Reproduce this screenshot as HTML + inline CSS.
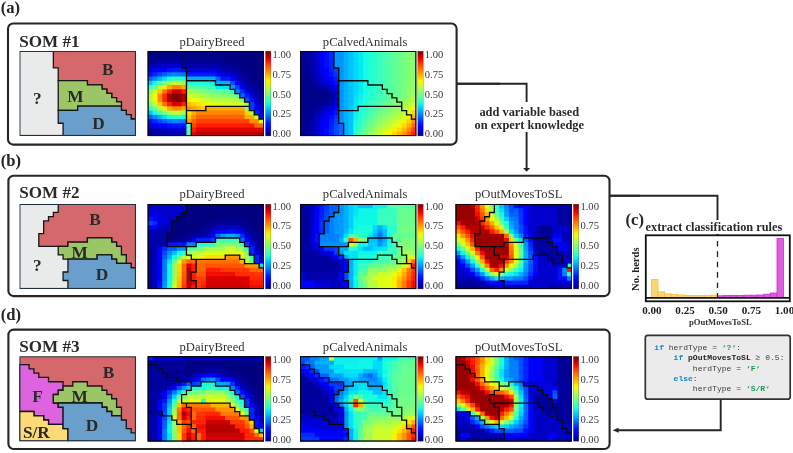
<!DOCTYPE html>
<html lang="en"><head><meta charset="utf-8"><title>SOM herd typing workflow</title>
<style>
html,body{margin:0;padding:0;background:#fff}
body{width:793px;height:453px;overflow:hidden}
svg{display:block}
text{font-family:"Liberation Serif",serif;fill:#2b2b2b}
.pl{font-size:16.6px;font-weight:bold;fill:#262626}
.st{font-size:17.1px;font-weight:bold;fill:#2a2a2a}
.tt{font-size:12.6px;fill:#333}
.tk{font-size:10.6px;fill:#3a3a3a}
.rl{font-size:17.3px;font-weight:bold;fill:#2a2a2a}
.an{font-size:12.4px;font-weight:bold;fill:#2a2a2a}
.an2{font-size:12.3px;font-weight:bold;fill:#2a2a2a}
.ht{font-size:11.1px;font-weight:bold;fill:#222}
.hx{font-size:8.6px;font-weight:bold;fill:#333}
.hy{font-size:10.6px;font-weight:bold;fill:#222}
.cd,.cd tspan{font-family:"Liberation Mono","DejaVu Sans Mono",monospace;font-size:8px}
.kw{fill:#1b87cc;font-weight:bold}
.nm{fill:#3a3a3a}
.bd{fill:#222;font-weight:bold}
.sg{fill:#1a9b52;font-weight:bold}
</style></head>
<body>
<svg width="793" height="453" viewBox="0 0 793 453">
<defs><linearGradient id="jet" x1="0" y1="0" x2="0" y2="1"><stop offset="0" stop-color="#800000"/><stop offset="0.05" stop-color="#b60000"/><stop offset="0.1" stop-color="#f10800"/><stop offset="0.15" stop-color="#ff3800"/><stop offset="0.2" stop-color="#ff6800"/><stop offset="0.25" stop-color="#ff9400"/><stop offset="0.3" stop-color="#ffc400"/><stop offset="0.35" stop-color="#f8f500"/><stop offset="0.4" stop-color="#ceff29"/><stop offset="0.45" stop-color="#a4ff53"/><stop offset="0.5" stop-color="#7dff7a"/><stop offset="0.55" stop-color="#53ffa4"/><stop offset="0.6" stop-color="#29ffce"/><stop offset="0.65" stop-color="#00e4f8"/><stop offset="0.7" stop-color="#00b0ff"/><stop offset="0.75" stop-color="#0080ff"/><stop offset="0.8" stop-color="#004cff"/><stop offset="0.85" stop-color="#0018ff"/><stop offset="0.9" stop-color="#0000f1"/><stop offset="0.95" stop-color="#0000b6"/><stop offset="1" stop-color="#000080"/></linearGradient>
<filter id="soft" x="-2%" y="-2%" width="104%" height="104%"><feGaussianBlur stdDeviation="0.55"/></filter>
<clipPath id="c147_51"><rect x="147.7" y="51" width="116.25" height="85.1"/></clipPath>
<clipPath id="c300_51"><rect x="300" y="51" width="116.25" height="85.1"/></clipPath>
<clipPath id="c455_51"><rect x="455.6" y="51" width="116.25" height="85.1"/></clipPath>
<clipPath id="c147_204"><rect x="147.7" y="204" width="116.25" height="85.1"/></clipPath>
<clipPath id="c300_204"><rect x="300" y="204" width="116.25" height="85.1"/></clipPath>
<clipPath id="c455_204"><rect x="455.6" y="204" width="116.25" height="85.1"/></clipPath>
<clipPath id="c147_356"><rect x="147.7" y="356.3" width="116.25" height="85.1"/></clipPath>
<clipPath id="c300_356"><rect x="300" y="356.3" width="116.25" height="85.1"/></clipPath>
<clipPath id="c455_356"><rect x="455.6" y="356.3" width="116.25" height="85.1"/></clipPath>
<clipPath id="r50"><rect x="19.35" y="50.9" width="116.65" height="85.1"/></clipPath>
<clipPath id="r203"><rect x="19.35" y="203.9" width="116.65" height="85.1"/></clipPath>
<clipPath id="r356"><rect x="19.35" y="356.2" width="116.65" height="85.1"/></clipPath>
</defs>
<rect width="793" height="453" fill="#ffffff"/>
<g fill="none" stroke="#262626" stroke-width="1.9">
<path d="M456.6 83.8H526.6V168.4"/>
<path d="M609.5 195.7H717.5V235"/>
<path d="M720.7 399.3V430.2H618"/>
</g>
<path d="M523.1 168.1h7l-3.5 3.6z" fill="#262626"/>
<path d="M618.6 427.7v5l-6-2.5z" fill="#262626"/>
<rect x="8" y="23.5" width="448.6" height="121.1" rx="5.2" fill="#fff" stroke="#262626" stroke-width="2.1"/>
<rect x="8.4" y="175.8" width="601.1" height="120.3" rx="5.2" fill="#fff" stroke="#262626" stroke-width="2.1"/>
<rect x="8.4" y="329.6" width="601.2" height="119.4" rx="5.2" fill="#fff" stroke="#262626" stroke-width="2.1"/>
<path d="M457 83.8H500" fill="none" stroke="#262626" stroke-width="1.9"/>
<path d="M610 195.7H640" fill="none" stroke="#262626" stroke-width="1.9"/>
<text x="0.8" y="12.8" class="pl">(a)</text>
<text x="0.8" y="165.9" class="pl">(b)</text>
<text x="0.8" y="319.9" class="pl">(d)</text>
<text x="19.2" y="46.6" class="st">SOM #1</text>
<text x="19.2" y="198.2" class="st">SOM #2</text>
<text x="19.2" y="352.3" class="st">SOM #3</text>
<g clip-path="url(#r50)">
<rect x="19.35" y="50.9" width="116.65" height="85.1" fill="#e9ebeb"/>
<path d="M53.37 50.9L136 50.9L136 118.98L131.14 118.98L131.14 114.72L126.28 114.72L126.28 110.47L121.42 110.47L121.42 101.96L116.56 101.96L116.56 97.7L111.7 97.7L111.7 93.45L106.84 93.45L106.84 89.19L101.98 89.19L101.98 84.94L87.4 84.94L87.4 80.69L58.23 80.69L58.23 67.92L53.37 67.92Z" fill="#d4686a" stroke="#161616" stroke-width="1.3" stroke-linejoin="miter"/>
<path d="M58.23 80.69L87.4 80.69L87.4 84.94L101.98 84.94L101.98 89.19L106.84 89.19L106.84 93.45L111.7 93.45L111.7 97.7L116.56 97.7L116.56 101.96L121.42 101.96L121.42 106.22L77.68 106.22L77.68 110.47L58.23 110.47Z" fill="#9cc566" stroke="#161616" stroke-width="1.3" stroke-linejoin="miter"/>
<path d="M58.23 110.47L77.68 110.47L77.68 106.22L121.42 106.22L121.42 110.47L126.28 110.47L126.28 114.72L131.14 114.72L131.14 118.98L136 118.98L136 136L63.09 136L63.09 123.23L58.23 123.23Z" fill="#6a9fcc" stroke="#161616" stroke-width="1.3" stroke-linejoin="miter"/>
<rect x="19.9" y="51.45" width="115.55" height="84" fill="none" stroke="#1d3144" stroke-width="1.1"/>
</g>
<g>
<g clip-path="url(#c147_51)"><g filter="url(#soft)">
<rect x="145.7" y="49" width="120.25" height="89.1" fill="#00c4ff"/>
<rect x="145.7" y="49" width="7.54" height="6.96" fill="#000080"/>
<rect x="152.54" y="49" width="68.51" height="6.96" fill="#000084"/>
<rect x="220.36" y="49" width="45.59" height="6.96" fill="#000080"/>
<rect x="145.7" y="55.26" width="12.39" height="4.95" fill="#000089"/>
<rect x="157.39" y="55.26" width="15.23" height="4.95" fill="#00008d"/>
<rect x="171.92" y="55.26" width="10.39" height="4.95" fill="#000092"/>
<rect x="181.61" y="55.26" width="39.45" height="4.95" fill="#000089"/>
<rect x="220.36" y="55.26" width="10.39" height="4.95" fill="#000084"/>
<rect x="230.04" y="55.26" width="35.91" height="4.95" fill="#000080"/>
<rect x="145.7" y="59.51" width="7.54" height="4.96" fill="#000096"/>
<rect x="152.54" y="59.51" width="5.54" height="4.96" fill="#00009b"/>
<rect x="157.39" y="59.51" width="5.54" height="4.96" fill="#00009f"/>
<rect x="162.23" y="59.51" width="10.39" height="4.96" fill="#0000a4"/>
<rect x="171.92" y="59.51" width="10.39" height="4.96" fill="#0000a8"/>
<rect x="181.61" y="59.51" width="39.45" height="4.96" fill="#000092"/>
<rect x="220.36" y="59.51" width="5.54" height="4.96" fill="#00008d"/>
<rect x="225.2" y="59.51" width="5.54" height="4.96" fill="#000089"/>
<rect x="230.04" y="59.51" width="10.39" height="4.96" fill="#000084"/>
<rect x="239.73" y="59.51" width="26.22" height="4.96" fill="#000080"/>
<rect x="145.7" y="63.77" width="7.54" height="4.95" fill="#0000ad"/>
<rect x="152.54" y="63.77" width="5.54" height="4.95" fill="#0000b6"/>
<rect x="157.39" y="63.77" width="5.54" height="4.95" fill="#0000bf"/>
<rect x="162.23" y="63.77" width="5.54" height="4.95" fill="#0000c8"/>
<rect x="167.07" y="63.77" width="5.54" height="4.95" fill="#0000d1"/>
<rect x="171.92" y="63.77" width="10.39" height="4.95" fill="#0000d6"/>
<rect x="181.61" y="63.77" width="5.54" height="4.95" fill="#0000a4"/>
<rect x="186.45" y="63.77" width="29.76" height="4.95" fill="#0000a8"/>
<rect x="215.51" y="63.77" width="5.54" height="4.95" fill="#0000a4"/>
<rect x="220.36" y="63.77" width="5.54" height="4.95" fill="#00009b"/>
<rect x="225.2" y="63.77" width="5.54" height="4.95" fill="#000092"/>
<rect x="230.04" y="63.77" width="5.54" height="4.95" fill="#00008d"/>
<rect x="234.89" y="63.77" width="5.54" height="4.95" fill="#000089"/>
<rect x="239.73" y="63.77" width="10.39" height="4.95" fill="#000084"/>
<rect x="249.42" y="63.77" width="16.53" height="4.95" fill="#000080"/>
<rect x="145.7" y="68.02" width="7.54" height="4.96" fill="#0000da"/>
<rect x="152.54" y="68.02" width="5.54" height="4.96" fill="#0000ed"/>
<rect x="157.39" y="68.02" width="10.39" height="4.96" fill="#0000ff"/>
<rect x="167.07" y="68.02" width="5.54" height="4.96" fill="#000cff"/>
<rect x="171.92" y="68.02" width="10.39" height="4.96" fill="#0014ff"/>
<rect x="181.61" y="68.02" width="5.54" height="4.96" fill="#000cff"/>
<rect x="186.45" y="68.02" width="29.76" height="4.96" fill="#0000d1"/>
<rect x="215.51" y="68.02" width="5.54" height="4.96" fill="#0000c8"/>
<rect x="220.36" y="68.02" width="5.54" height="4.96" fill="#0000b2"/>
<rect x="225.2" y="68.02" width="5.54" height="4.96" fill="#0000a8"/>
<rect x="230.04" y="68.02" width="5.54" height="4.96" fill="#00009f"/>
<rect x="234.89" y="68.02" width="5.54" height="4.96" fill="#000096"/>
<rect x="239.73" y="68.02" width="5.54" height="4.96" fill="#00008d"/>
<rect x="244.57" y="68.02" width="5.54" height="4.96" fill="#000084"/>
<rect x="249.42" y="68.02" width="16.53" height="4.96" fill="#000080"/>
<rect x="145.7" y="72.28" width="7.54" height="4.95" fill="#000cff"/>
<rect x="152.54" y="72.28" width="5.54" height="4.95" fill="#0028ff"/>
<rect x="157.39" y="72.28" width="5.54" height="4.95" fill="#0044ff"/>
<rect x="162.23" y="72.28" width="5.54" height="4.95" fill="#0060ff"/>
<rect x="167.07" y="72.28" width="5.54" height="4.95" fill="#0074ff"/>
<rect x="171.92" y="72.28" width="10.39" height="4.95" fill="#0084ff"/>
<rect x="181.61" y="72.28" width="5.54" height="4.95" fill="#0074ff"/>
<rect x="186.45" y="72.28" width="29.76" height="4.95" fill="#0014ff"/>
<rect x="215.51" y="72.28" width="5.54" height="4.95" fill="#0000ff"/>
<rect x="220.36" y="72.28" width="5.54" height="4.95" fill="#0000da"/>
<rect x="225.2" y="72.28" width="5.54" height="4.95" fill="#0000d1"/>
<rect x="230.04" y="72.28" width="5.54" height="4.95" fill="#0000c4"/>
<rect x="234.89" y="72.28" width="5.54" height="4.95" fill="#0000ad"/>
<rect x="239.73" y="72.28" width="5.54" height="4.95" fill="#000096"/>
<rect x="244.57" y="72.28" width="5.54" height="4.95" fill="#00008d"/>
<rect x="249.42" y="72.28" width="5.54" height="4.95" fill="#000084"/>
<rect x="254.26" y="72.28" width="11.69" height="4.95" fill="#000080"/>
<rect x="145.7" y="76.53" width="7.54" height="4.95" fill="#0060ff"/>
<rect x="152.54" y="76.53" width="5.54" height="4.95" fill="#0088ff"/>
<rect x="157.39" y="76.53" width="5.54" height="4.95" fill="#00b4ff"/>
<rect x="162.23" y="76.53" width="5.54" height="4.95" fill="#00e0fb"/>
<rect x="167.07" y="76.53" width="5.54" height="4.95" fill="#19ffde"/>
<rect x="171.92" y="76.53" width="10.39" height="4.95" fill="#2cffca"/>
<rect x="181.61" y="76.53" width="5.54" height="4.95" fill="#19ffde"/>
<rect x="186.45" y="76.53" width="29.76" height="4.95" fill="#00b0ff"/>
<rect x="215.51" y="76.53" width="5.54" height="4.95" fill="#0064ff"/>
<rect x="220.36" y="76.53" width="10.39" height="4.95" fill="#0014ff"/>
<rect x="230.04" y="76.53" width="5.54" height="4.95" fill="#0000ff"/>
<rect x="234.89" y="76.53" width="5.54" height="4.95" fill="#0000cd"/>
<rect x="239.73" y="76.53" width="5.54" height="4.95" fill="#0000a8"/>
<rect x="244.57" y="76.53" width="5.54" height="4.95" fill="#000096"/>
<rect x="249.42" y="76.53" width="5.54" height="4.95" fill="#000089"/>
<rect x="254.26" y="76.53" width="5.54" height="4.95" fill="#000084"/>
<rect x="259.11" y="76.53" width="6.84" height="4.95" fill="#000080"/>
<rect x="145.7" y="80.78" width="7.54" height="4.95" fill="#00c4ff"/>
<rect x="152.54" y="80.78" width="5.54" height="4.95" fill="#16ffe1"/>
<rect x="157.39" y="80.78" width="5.54" height="4.95" fill="#49ffad"/>
<rect x="162.23" y="80.78" width="5.54" height="4.95" fill="#7dff7a"/>
<rect x="167.07" y="80.78" width="5.54" height="4.95" fill="#a7ff50"/>
<rect x="171.92" y="80.78" width="10.39" height="4.95" fill="#c1ff36"/>
<rect x="181.61" y="80.78" width="5.54" height="4.95" fill="#a7ff50"/>
<rect x="186.45" y="80.78" width="5.54" height="4.95" fill="#1cffdb"/>
<rect x="191.29" y="80.78" width="10.39" height="4.95" fill="#19ffde"/>
<rect x="200.98" y="80.78" width="5.54" height="4.95" fill="#16ffe1"/>
<rect x="205.82" y="80.78" width="5.54" height="4.95" fill="#13fce4"/>
<rect x="210.67" y="80.78" width="5.54" height="4.95" fill="#0ff8e7"/>
<rect x="215.51" y="80.78" width="15.23" height="4.95" fill="#00b0ff"/>
<rect x="230.04" y="80.78" width="5.54" height="4.95" fill="#0050ff"/>
<rect x="234.89" y="80.78" width="5.54" height="4.95" fill="#0000f6"/>
<rect x="239.73" y="80.78" width="5.54" height="4.95" fill="#0000c4"/>
<rect x="244.57" y="80.78" width="5.54" height="4.95" fill="#0000a4"/>
<rect x="249.42" y="80.78" width="5.54" height="4.95" fill="#000092"/>
<rect x="254.26" y="80.78" width="5.54" height="4.95" fill="#000089"/>
<rect x="259.11" y="80.78" width="6.84" height="4.95" fill="#000084"/>
<rect x="145.7" y="85.04" width="7.54" height="4.96" fill="#39ffbe"/>
<rect x="152.54" y="85.04" width="5.54" height="4.96" fill="#77ff80"/>
<rect x="157.39" y="85.04" width="5.54" height="4.96" fill="#baff3c"/>
<rect x="162.23" y="85.04" width="5.54" height="4.96" fill="#feed00"/>
<rect x="167.07" y="85.04" width="5.54" height="4.96" fill="#ffab00"/>
<rect x="171.92" y="85.04" width="10.39" height="4.96" fill="#ff8600"/>
<rect x="181.61" y="85.04" width="5.54" height="4.96" fill="#ffab00"/>
<rect x="186.45" y="85.04" width="5.54" height="4.96" fill="#63ff94"/>
<rect x="191.29" y="85.04" width="5.54" height="4.96" fill="#5aff9d"/>
<rect x="196.14" y="85.04" width="5.54" height="4.96" fill="#53ffa4"/>
<rect x="200.98" y="85.04" width="5.54" height="4.96" fill="#49ffad"/>
<rect x="205.82" y="85.04" width="5.54" height="4.96" fill="#43ffb4"/>
<rect x="210.67" y="85.04" width="5.54" height="4.96" fill="#39ffbe"/>
<rect x="215.51" y="85.04" width="5.54" height="4.96" fill="#06ecf1"/>
<rect x="220.36" y="85.04" width="5.54" height="4.96" fill="#02e8f4"/>
<rect x="225.2" y="85.04" width="5.54" height="4.96" fill="#00e4f8"/>
<rect x="230.04" y="85.04" width="5.54" height="4.96" fill="#0098ff"/>
<rect x="234.89" y="85.04" width="5.54" height="4.96" fill="#0040ff"/>
<rect x="239.73" y="85.04" width="5.54" height="4.96" fill="#0000ed"/>
<rect x="244.57" y="85.04" width="5.54" height="4.96" fill="#0000bf"/>
<rect x="249.42" y="85.04" width="5.54" height="4.96" fill="#00009f"/>
<rect x="254.26" y="85.04" width="5.54" height="4.96" fill="#000092"/>
<rect x="259.11" y="85.04" width="6.84" height="4.96" fill="#000084"/>
<rect x="145.7" y="89.3" width="7.54" height="4.95" fill="#80ff77"/>
<rect x="152.54" y="89.3" width="5.54" height="4.95" fill="#caff2c"/>
<rect x="157.39" y="89.3" width="5.54" height="4.95" fill="#ffcc00"/>
<rect x="162.23" y="89.3" width="5.54" height="4.95" fill="#ff6f00"/>
<rect x="167.07" y="89.3" width="5.54" height="4.95" fill="#ff2200"/>
<rect x="171.92" y="89.3" width="10.39" height="4.95" fill="#d60000"/>
<rect x="181.61" y="89.3" width="5.54" height="4.95" fill="#ff2200"/>
<rect x="186.45" y="89.3" width="5.54" height="4.95" fill="#aaff4d"/>
<rect x="191.29" y="89.3" width="5.54" height="4.95" fill="#9aff5d"/>
<rect x="196.14" y="89.3" width="5.54" height="4.95" fill="#8dff6a"/>
<rect x="200.98" y="89.3" width="5.54" height="4.95" fill="#80ff77"/>
<rect x="205.82" y="89.3" width="5.54" height="4.95" fill="#70ff87"/>
<rect x="210.67" y="89.3" width="5.54" height="4.95" fill="#63ff94"/>
<rect x="215.51" y="89.3" width="5.54" height="4.95" fill="#60ff97"/>
<rect x="220.36" y="89.3" width="10.39" height="4.95" fill="#5dff9a"/>
<rect x="230.04" y="89.3" width="5.54" height="4.95" fill="#26ffd1"/>
<rect x="234.89" y="89.3" width="5.54" height="4.95" fill="#0080ff"/>
<rect x="239.73" y="89.3" width="5.54" height="4.95" fill="#002cff"/>
<rect x="244.57" y="89.3" width="5.54" height="4.95" fill="#0000df"/>
<rect x="249.42" y="89.3" width="5.54" height="4.95" fill="#0000b6"/>
<rect x="254.26" y="89.3" width="5.54" height="4.95" fill="#00009b"/>
<rect x="259.11" y="89.3" width="6.84" height="4.95" fill="#00008d"/>
<rect x="145.7" y="93.55" width="7.54" height="4.96" fill="#a7ff50"/>
<rect x="152.54" y="93.55" width="5.54" height="4.96" fill="#f8f500"/>
<rect x="157.39" y="93.55" width="5.54" height="4.96" fill="#ff8d00"/>
<rect x="162.23" y="93.55" width="5.54" height="4.96" fill="#ff2500"/>
<rect x="167.07" y="93.55" width="5.54" height="4.96" fill="#ad0000"/>
<rect x="171.92" y="93.55" width="10.39" height="4.96" fill="#800000"/>
<rect x="181.61" y="93.55" width="5.54" height="4.96" fill="#ad0000"/>
<rect x="186.45" y="93.55" width="5.54" height="4.96" fill="#d1ff26"/>
<rect x="191.29" y="93.55" width="5.54" height="4.96" fill="#c4ff33"/>
<rect x="196.14" y="93.55" width="5.54" height="4.96" fill="#b7ff40"/>
<rect x="200.98" y="93.55" width="5.54" height="4.96" fill="#a7ff50"/>
<rect x="205.82" y="93.55" width="5.54" height="4.96" fill="#9aff5d"/>
<rect x="210.67" y="93.55" width="5.54" height="4.96" fill="#8dff6a"/>
<rect x="215.51" y="93.55" width="5.54" height="4.96" fill="#8aff6d"/>
<rect x="220.36" y="93.55" width="5.54" height="4.96" fill="#87ff70"/>
<rect x="225.2" y="93.55" width="10.39" height="4.96" fill="#83ff73"/>
<rect x="234.89" y="93.55" width="5.54" height="4.96" fill="#4dffaa"/>
<rect x="239.73" y="93.55" width="5.54" height="4.96" fill="#0068ff"/>
<rect x="244.57" y="93.55" width="5.54" height="4.96" fill="#001cff"/>
<rect x="249.42" y="93.55" width="5.54" height="4.96" fill="#0000d6"/>
<rect x="254.26" y="93.55" width="5.54" height="4.96" fill="#0000ad"/>
<rect x="259.11" y="93.55" width="6.84" height="4.96" fill="#000096"/>
<rect x="145.7" y="97.81" width="7.54" height="4.95" fill="#a7ff50"/>
<rect x="152.54" y="97.81" width="5.54" height="4.95" fill="#f8f500"/>
<rect x="157.39" y="97.81" width="5.54" height="4.95" fill="#ff8d00"/>
<rect x="162.23" y="97.81" width="5.54" height="4.95" fill="#ff2500"/>
<rect x="167.07" y="97.81" width="5.54" height="4.95" fill="#ad0000"/>
<rect x="171.92" y="97.81" width="10.39" height="4.95" fill="#800000"/>
<rect x="181.61" y="97.81" width="5.54" height="4.95" fill="#ad0000"/>
<rect x="186.45" y="97.81" width="5.54" height="4.95" fill="#fbf100"/>
<rect x="191.29" y="97.81" width="5.54" height="4.95" fill="#eeff09"/>
<rect x="196.14" y="97.81" width="5.54" height="4.95" fill="#deff19"/>
<rect x="200.98" y="97.81" width="5.54" height="4.95" fill="#d1ff26"/>
<rect x="205.82" y="97.81" width="5.54" height="4.95" fill="#c4ff33"/>
<rect x="210.67" y="97.81" width="10.39" height="4.95" fill="#b4ff43"/>
<rect x="220.36" y="97.81" width="5.54" height="4.95" fill="#b1ff46"/>
<rect x="225.2" y="97.81" width="5.54" height="4.95" fill="#adff49"/>
<rect x="230.04" y="97.81" width="10.39" height="4.95" fill="#aaff4d"/>
<rect x="239.73" y="97.81" width="5.54" height="4.95" fill="#73ff83"/>
<rect x="244.57" y="97.81" width="5.54" height="4.95" fill="#0050ff"/>
<rect x="249.42" y="97.81" width="5.54" height="4.95" fill="#0008ff"/>
<rect x="254.26" y="97.81" width="5.54" height="4.95" fill="#0000c8"/>
<rect x="259.11" y="97.81" width="6.84" height="4.95" fill="#00009f"/>
<rect x="145.7" y="102.06" width="7.54" height="4.95" fill="#80ff77"/>
<rect x="152.54" y="102.06" width="5.54" height="4.95" fill="#caff2c"/>
<rect x="157.39" y="102.06" width="5.54" height="4.95" fill="#ffcc00"/>
<rect x="162.23" y="102.06" width="5.54" height="4.95" fill="#ff6f00"/>
<rect x="167.07" y="102.06" width="5.54" height="4.95" fill="#ff2200"/>
<rect x="171.92" y="102.06" width="10.39" height="4.95" fill="#d60000"/>
<rect x="181.61" y="102.06" width="5.54" height="4.95" fill="#ff2200"/>
<rect x="186.45" y="102.06" width="5.54" height="4.95" fill="#ffc100"/>
<rect x="191.29" y="102.06" width="5.54" height="4.95" fill="#ffd000"/>
<rect x="196.14" y="102.06" width="5.54" height="4.95" fill="#ffe200"/>
<rect x="200.98" y="102.06" width="5.54" height="4.95" fill="#fbf100"/>
<rect x="205.82" y="102.06" width="5.54" height="4.95" fill="#eeff09"/>
<rect x="210.67" y="102.06" width="5.54" height="4.95" fill="#deff19"/>
<rect x="215.51" y="102.06" width="10.39" height="4.95" fill="#dbff1c"/>
<rect x="225.2" y="102.06" width="5.54" height="4.95" fill="#d7ff1f"/>
<rect x="230.04" y="102.06" width="5.54" height="4.95" fill="#d4ff23"/>
<rect x="234.89" y="102.06" width="10.39" height="4.95" fill="#d1ff26"/>
<rect x="244.57" y="102.06" width="5.54" height="4.95" fill="#9aff5d"/>
<rect x="249.42" y="102.06" width="5.54" height="4.95" fill="#0038ff"/>
<rect x="254.26" y="102.06" width="5.54" height="4.95" fill="#0000d6"/>
<rect x="259.11" y="102.06" width="6.84" height="4.95" fill="#0000a8"/>
<rect x="145.7" y="106.31" width="7.54" height="4.95" fill="#39ffbe"/>
<rect x="152.54" y="106.31" width="5.54" height="4.95" fill="#77ff80"/>
<rect x="157.39" y="106.31" width="5.54" height="4.95" fill="#baff3c"/>
<rect x="162.23" y="106.31" width="5.54" height="4.95" fill="#feed00"/>
<rect x="167.07" y="106.31" width="5.54" height="4.95" fill="#ffab00"/>
<rect x="171.92" y="106.31" width="10.39" height="4.95" fill="#ff8600"/>
<rect x="181.61" y="106.31" width="5.54" height="4.95" fill="#ffab00"/>
<rect x="186.45" y="106.31" width="5.54" height="4.95" fill="#ff9100"/>
<rect x="191.29" y="106.31" width="5.54" height="4.95" fill="#ffa300"/>
<rect x="196.14" y="106.31" width="5.54" height="4.95" fill="#ffb200"/>
<rect x="200.98" y="106.31" width="5.54" height="4.95" fill="#ffc100"/>
<rect x="205.82" y="106.31" width="39.45" height="4.95" fill="#ffab00"/>
<rect x="244.57" y="106.31" width="5.54" height="4.95" fill="#83ff73"/>
<rect x="249.42" y="106.31" width="5.54" height="4.95" fill="#0038ff"/>
<rect x="254.26" y="106.31" width="5.54" height="4.95" fill="#0000ff"/>
<rect x="259.11" y="106.31" width="6.84" height="4.95" fill="#0000bf"/>
<rect x="145.7" y="110.57" width="7.54" height="4.95" fill="#00c4ff"/>
<rect x="152.54" y="110.57" width="5.54" height="4.95" fill="#16ffe1"/>
<rect x="157.39" y="110.57" width="5.54" height="4.95" fill="#49ffad"/>
<rect x="162.23" y="110.57" width="5.54" height="4.95" fill="#7dff7a"/>
<rect x="167.07" y="110.57" width="5.54" height="4.95" fill="#a7ff50"/>
<rect x="171.92" y="110.57" width="10.39" height="4.95" fill="#c1ff36"/>
<rect x="181.61" y="110.57" width="5.54" height="4.95" fill="#a7ff50"/>
<rect x="186.45" y="110.57" width="5.54" height="4.95" fill="#ffe600"/>
<rect x="191.29" y="110.57" width="5.54" height="4.95" fill="#ffab00"/>
<rect x="196.14" y="110.57" width="49.14" height="4.95" fill="#ff8600"/>
<rect x="244.57" y="110.57" width="5.54" height="4.95" fill="#ffd300"/>
<rect x="249.42" y="110.57" width="5.54" height="4.95" fill="#a4ff53"/>
<rect x="254.26" y="110.57" width="5.54" height="4.95" fill="#0020ff"/>
<rect x="259.11" y="110.57" width="6.84" height="4.95" fill="#0000f1"/>
<rect x="145.7" y="114.82" width="7.54" height="4.96" fill="#0060ff"/>
<rect x="152.54" y="114.82" width="5.54" height="4.96" fill="#0088ff"/>
<rect x="157.39" y="114.82" width="5.54" height="4.96" fill="#00b4ff"/>
<rect x="162.23" y="114.82" width="5.54" height="4.96" fill="#00e0fb"/>
<rect x="167.07" y="114.82" width="5.54" height="4.96" fill="#19ffde"/>
<rect x="171.92" y="114.82" width="10.39" height="4.96" fill="#2cffca"/>
<rect x="181.61" y="114.82" width="5.54" height="4.96" fill="#19ffde"/>
<rect x="186.45" y="114.82" width="5.54" height="4.96" fill="#ffc100"/>
<rect x="191.29" y="114.82" width="5.54" height="4.96" fill="#ff8900"/>
<rect x="196.14" y="114.82" width="49.14" height="4.96" fill="#ff6400"/>
<rect x="244.57" y="114.82" width="10.39" height="4.96" fill="#ffae00"/>
<rect x="254.26" y="114.82" width="5.54" height="4.96" fill="#c1ff36"/>
<rect x="259.11" y="114.82" width="6.84" height="4.96" fill="#0008ff"/>
<rect x="145.7" y="119.08" width="7.54" height="4.95" fill="#000cff"/>
<rect x="152.54" y="119.08" width="5.54" height="4.95" fill="#0028ff"/>
<rect x="157.39" y="119.08" width="5.54" height="4.95" fill="#0044ff"/>
<rect x="162.23" y="119.08" width="5.54" height="4.95" fill="#0060ff"/>
<rect x="167.07" y="119.08" width="5.54" height="4.95" fill="#0074ff"/>
<rect x="171.92" y="119.08" width="10.39" height="4.95" fill="#0084ff"/>
<rect x="181.61" y="119.08" width="5.54" height="4.95" fill="#0074ff"/>
<rect x="186.45" y="119.08" width="5.54" height="4.95" fill="#ff9f00"/>
<rect x="191.29" y="119.08" width="5.54" height="4.95" fill="#ff6400"/>
<rect x="196.14" y="119.08" width="53.98" height="4.95" fill="#ff3f00"/>
<rect x="249.42" y="119.08" width="10.39" height="4.95" fill="#ff8d00"/>
<rect x="259.11" y="119.08" width="6.84" height="4.95" fill="#deff19"/>
<rect x="145.7" y="123.33" width="7.54" height="4.95" fill="#0000da"/>
<rect x="152.54" y="123.33" width="5.54" height="4.95" fill="#0000ed"/>
<rect x="157.39" y="123.33" width="10.39" height="4.95" fill="#0000ff"/>
<rect x="167.07" y="123.33" width="5.54" height="4.95" fill="#000cff"/>
<rect x="171.92" y="123.33" width="10.39" height="4.95" fill="#0014ff"/>
<rect x="181.61" y="123.33" width="5.54" height="4.95" fill="#000cff"/>
<rect x="186.45" y="123.33" width="5.54" height="4.95" fill="#53ffa4"/>
<rect x="191.29" y="123.33" width="5.54" height="4.95" fill="#ff4300"/>
<rect x="196.14" y="123.33" width="58.82" height="4.95" fill="#ff1e00"/>
<rect x="254.26" y="123.33" width="11.69" height="4.95" fill="#ff6800"/>
<rect x="145.7" y="127.59" width="7.54" height="4.95" fill="#0000ad"/>
<rect x="152.54" y="127.59" width="5.54" height="4.95" fill="#0000b6"/>
<rect x="157.39" y="127.59" width="5.54" height="4.95" fill="#0000bf"/>
<rect x="162.23" y="127.59" width="5.54" height="4.95" fill="#0000c8"/>
<rect x="167.07" y="127.59" width="5.54" height="4.95" fill="#0000d1"/>
<rect x="171.92" y="127.59" width="10.39" height="4.95" fill="#0000d6"/>
<rect x="181.61" y="127.59" width="5.54" height="4.95" fill="#0000d1"/>
<rect x="186.45" y="127.59" width="5.54" height="4.95" fill="#53ffa4"/>
<rect x="191.29" y="127.59" width="5.54" height="4.95" fill="#ff1e00"/>
<rect x="196.14" y="127.59" width="69.81" height="4.95" fill="#df0000"/>
<rect x="145.7" y="131.84" width="7.54" height="6.25" fill="#000096"/>
<rect x="152.54" y="131.84" width="5.54" height="6.25" fill="#00009b"/>
<rect x="157.39" y="131.84" width="5.54" height="6.25" fill="#00009f"/>
<rect x="162.23" y="131.84" width="10.39" height="6.25" fill="#0000a4"/>
<rect x="171.92" y="131.84" width="10.39" height="6.25" fill="#0000a8"/>
<rect x="181.61" y="131.84" width="5.54" height="6.25" fill="#0000a4"/>
<rect x="186.45" y="131.84" width="5.54" height="6.25" fill="#53ffa4"/>
<rect x="191.29" y="131.84" width="5.54" height="6.25" fill="#e40000"/>
<rect x="196.14" y="131.84" width="69.81" height="6.25" fill="#b60000"/>
</g></g>
<path d="M147.7 51L181.61 51L181.61 68.02L186.45 68.02L186.45 123.33L191.29 123.33L191.29 136.1L147.7 136.1ZM181.61 51L263.95 51L263.95 119.08L259.11 119.08L259.11 114.82L254.26 114.82L254.26 110.57L249.42 110.57L249.42 102.06L244.57 102.06L244.57 97.81L239.73 97.81L239.73 93.55L234.89 93.55L234.89 89.3L230.04 89.3L230.04 85.04L215.51 85.04L215.51 80.78L186.45 80.78L186.45 68.02L181.61 68.02ZM186.45 80.78L215.51 80.78L215.51 85.04L230.04 85.04L230.04 89.3L234.89 89.3L234.89 93.55L239.73 93.55L239.73 97.81L244.57 97.81L244.57 102.06L249.42 102.06L249.42 106.31L205.82 106.31L205.82 110.57L186.45 110.57ZM186.45 110.57L205.82 110.57L205.82 106.31L249.42 106.31L249.42 110.57L254.26 110.57L254.26 114.82L259.11 114.82L259.11 119.08L263.95 119.08L263.95 136.1L191.29 136.1L191.29 123.33L186.45 123.33Z" fill="none" stroke="#0a0a0a" stroke-width="1.35" stroke-linejoin="miter" clip-path="url(#c147_51)"/>
<rect x="148.15" y="51.45" width="115.35" height="84.2" fill="none" stroke="#07070f" stroke-width="0.95"/>
</g>
<rect x="265.5" y="51.2" width="5.4" height="84.7" fill="url(#jet)" stroke="#101028" stroke-opacity="0.55" stroke-width="0.4"/>
<text x="272.5" y="57.6" class="tk">1.00</text>
<text x="272.5" y="77.55" class="tk">0.75</text>
<text x="272.5" y="97.5" class="tk">0.50</text>
<text x="272.5" y="117.45" class="tk">0.25</text>
<text x="272.5" y="137.4" class="tk">0.00</text>
<text x="212.05" y="46.2" class="tt" text-anchor="middle">pDairyBreed</text>
<g>
<g clip-path="url(#c300_51)"><g filter="url(#soft)">
<rect x="298" y="49" width="120.25" height="89.1" fill="#06ecf1"/>
<rect x="298" y="49" width="12.39" height="6.96" fill="#000096"/>
<rect x="309.69" y="49" width="5.54" height="6.96" fill="#0000a8"/>
<rect x="314.53" y="49" width="5.54" height="6.96" fill="#0000cd"/>
<rect x="319.38" y="49" width="5.54" height="6.96" fill="#0000f6"/>
<rect x="324.22" y="49" width="5.54" height="6.96" fill="#0008ff"/>
<rect x="329.06" y="49" width="5.54" height="6.96" fill="#002cff"/>
<rect x="333.91" y="49" width="10.39" height="6.96" fill="#0094ff"/>
<rect x="343.59" y="49" width="5.54" height="6.96" fill="#00b0ff"/>
<rect x="348.44" y="49" width="5.54" height="6.96" fill="#00c4ff"/>
<rect x="353.28" y="49" width="5.54" height="6.96" fill="#00d8ff"/>
<rect x="358.12" y="49" width="5.54" height="6.96" fill="#06ecf1"/>
<rect x="362.97" y="49" width="5.54" height="6.96" fill="#13fce4"/>
<rect x="367.81" y="49" width="5.54" height="6.96" fill="#1fffd7"/>
<rect x="372.66" y="49" width="5.54" height="6.96" fill="#2cffca"/>
<rect x="377.5" y="49" width="5.54" height="6.96" fill="#39ffbe"/>
<rect x="382.34" y="49" width="5.54" height="6.96" fill="#46ffb1"/>
<rect x="387.19" y="49" width="5.54" height="6.96" fill="#53ffa4"/>
<rect x="392.03" y="49" width="5.54" height="6.96" fill="#60ff97"/>
<rect x="396.88" y="49" width="5.54" height="6.96" fill="#6aff8d"/>
<rect x="401.72" y="49" width="5.54" height="6.96" fill="#77ff80"/>
<rect x="406.56" y="49" width="5.54" height="6.96" fill="#80ff77"/>
<rect x="411.41" y="49" width="6.84" height="6.96" fill="#8dff6a"/>
<rect x="298" y="55.26" width="12.39" height="4.95" fill="#000096"/>
<rect x="309.69" y="55.26" width="5.54" height="4.95" fill="#0000a8"/>
<rect x="314.53" y="55.26" width="5.54" height="4.95" fill="#0000cd"/>
<rect x="319.38" y="55.26" width="5.54" height="4.95" fill="#0000f6"/>
<rect x="324.22" y="55.26" width="5.54" height="4.95" fill="#0008ff"/>
<rect x="329.06" y="55.26" width="5.54" height="4.95" fill="#002cff"/>
<rect x="333.91" y="55.26" width="10.39" height="4.95" fill="#0094ff"/>
<rect x="343.59" y="55.26" width="5.54" height="4.95" fill="#00b0ff"/>
<rect x="348.44" y="55.26" width="5.54" height="4.95" fill="#00c4ff"/>
<rect x="353.28" y="55.26" width="5.54" height="4.95" fill="#00d8ff"/>
<rect x="358.12" y="55.26" width="5.54" height="4.95" fill="#06ecf1"/>
<rect x="362.97" y="55.26" width="5.54" height="4.95" fill="#13fce4"/>
<rect x="367.81" y="55.26" width="5.54" height="4.95" fill="#1fffd7"/>
<rect x="372.66" y="55.26" width="5.54" height="4.95" fill="#2cffca"/>
<rect x="377.5" y="55.26" width="5.54" height="4.95" fill="#39ffbe"/>
<rect x="382.34" y="55.26" width="5.54" height="4.95" fill="#46ffb1"/>
<rect x="387.19" y="55.26" width="5.54" height="4.95" fill="#53ffa4"/>
<rect x="392.03" y="55.26" width="5.54" height="4.95" fill="#60ff97"/>
<rect x="396.88" y="55.26" width="5.54" height="4.95" fill="#6aff8d"/>
<rect x="401.72" y="55.26" width="5.54" height="4.95" fill="#77ff80"/>
<rect x="406.56" y="55.26" width="5.54" height="4.95" fill="#80ff77"/>
<rect x="411.41" y="55.26" width="6.84" height="4.95" fill="#8dff6a"/>
<rect x="298" y="59.51" width="12.39" height="4.96" fill="#000096"/>
<rect x="309.69" y="59.51" width="5.54" height="4.96" fill="#0000a8"/>
<rect x="314.53" y="59.51" width="5.54" height="4.96" fill="#0000cd"/>
<rect x="319.38" y="59.51" width="5.54" height="4.96" fill="#0000f6"/>
<rect x="324.22" y="59.51" width="5.54" height="4.96" fill="#0008ff"/>
<rect x="329.06" y="59.51" width="5.54" height="4.96" fill="#0028ff"/>
<rect x="333.91" y="59.51" width="10.39" height="4.96" fill="#0094ff"/>
<rect x="343.59" y="59.51" width="5.54" height="4.96" fill="#00b0ff"/>
<rect x="348.44" y="59.51" width="5.54" height="4.96" fill="#00c4ff"/>
<rect x="353.28" y="59.51" width="5.54" height="4.96" fill="#00d8ff"/>
<rect x="358.12" y="59.51" width="5.54" height="4.96" fill="#06ecf1"/>
<rect x="362.97" y="59.51" width="5.54" height="4.96" fill="#13fce4"/>
<rect x="367.81" y="59.51" width="5.54" height="4.96" fill="#1fffd7"/>
<rect x="372.66" y="59.51" width="5.54" height="4.96" fill="#2cffca"/>
<rect x="377.5" y="59.51" width="5.54" height="4.96" fill="#39ffbe"/>
<rect x="382.34" y="59.51" width="5.54" height="4.96" fill="#46ffb1"/>
<rect x="387.19" y="59.51" width="5.54" height="4.96" fill="#53ffa4"/>
<rect x="392.03" y="59.51" width="5.54" height="4.96" fill="#60ff97"/>
<rect x="396.88" y="59.51" width="5.54" height="4.96" fill="#6aff8d"/>
<rect x="401.72" y="59.51" width="5.54" height="4.96" fill="#77ff80"/>
<rect x="406.56" y="59.51" width="5.54" height="4.96" fill="#80ff77"/>
<rect x="411.41" y="59.51" width="6.84" height="4.96" fill="#8dff6a"/>
<rect x="298" y="63.77" width="12.39" height="4.95" fill="#000096"/>
<rect x="309.69" y="63.77" width="5.54" height="4.95" fill="#0000a8"/>
<rect x="314.53" y="63.77" width="5.54" height="4.95" fill="#0000cd"/>
<rect x="319.38" y="63.77" width="5.54" height="4.95" fill="#0000f1"/>
<rect x="324.22" y="63.77" width="5.54" height="4.95" fill="#0008ff"/>
<rect x="329.06" y="63.77" width="5.54" height="4.95" fill="#0028ff"/>
<rect x="333.91" y="63.77" width="10.39" height="4.95" fill="#0094ff"/>
<rect x="343.59" y="63.77" width="5.54" height="4.95" fill="#00b0ff"/>
<rect x="348.44" y="63.77" width="5.54" height="4.95" fill="#00c4ff"/>
<rect x="353.28" y="63.77" width="5.54" height="4.95" fill="#00d8ff"/>
<rect x="358.12" y="63.77" width="5.54" height="4.95" fill="#06ecf1"/>
<rect x="362.97" y="63.77" width="5.54" height="4.95" fill="#13fce4"/>
<rect x="367.81" y="63.77" width="5.54" height="4.95" fill="#1fffd7"/>
<rect x="372.66" y="63.77" width="5.54" height="4.95" fill="#2cffca"/>
<rect x="377.5" y="63.77" width="5.54" height="4.95" fill="#39ffbe"/>
<rect x="382.34" y="63.77" width="5.54" height="4.95" fill="#46ffb1"/>
<rect x="387.19" y="63.77" width="5.54" height="4.95" fill="#53ffa4"/>
<rect x="392.03" y="63.77" width="5.54" height="4.95" fill="#60ff97"/>
<rect x="396.88" y="63.77" width="5.54" height="4.95" fill="#6aff8d"/>
<rect x="401.72" y="63.77" width="5.54" height="4.95" fill="#77ff80"/>
<rect x="406.56" y="63.77" width="5.54" height="4.95" fill="#80ff77"/>
<rect x="411.41" y="63.77" width="6.84" height="4.95" fill="#8dff6a"/>
<rect x="298" y="68.02" width="12.39" height="4.96" fill="#000092"/>
<rect x="309.69" y="68.02" width="5.54" height="4.96" fill="#0000a4"/>
<rect x="314.53" y="68.02" width="5.54" height="4.96" fill="#0000c8"/>
<rect x="319.38" y="68.02" width="5.54" height="4.96" fill="#0000ed"/>
<rect x="324.22" y="68.02" width="5.54" height="4.96" fill="#0000ff"/>
<rect x="329.06" y="68.02" width="5.54" height="4.96" fill="#0024ff"/>
<rect x="333.91" y="68.02" width="5.54" height="4.96" fill="#0044ff"/>
<rect x="338.75" y="68.02" width="5.54" height="4.96" fill="#0094ff"/>
<rect x="343.59" y="68.02" width="5.54" height="4.96" fill="#00b0ff"/>
<rect x="348.44" y="68.02" width="5.54" height="4.96" fill="#00c4ff"/>
<rect x="353.28" y="68.02" width="5.54" height="4.96" fill="#00d8ff"/>
<rect x="358.12" y="68.02" width="5.54" height="4.96" fill="#06ecf1"/>
<rect x="362.97" y="68.02" width="5.54" height="4.96" fill="#13fce4"/>
<rect x="367.81" y="68.02" width="5.54" height="4.96" fill="#1fffd7"/>
<rect x="372.66" y="68.02" width="5.54" height="4.96" fill="#2cffca"/>
<rect x="377.5" y="68.02" width="5.54" height="4.96" fill="#39ffbe"/>
<rect x="382.34" y="68.02" width="5.54" height="4.96" fill="#46ffb1"/>
<rect x="387.19" y="68.02" width="5.54" height="4.96" fill="#53ffa4"/>
<rect x="392.03" y="68.02" width="5.54" height="4.96" fill="#60ff97"/>
<rect x="396.88" y="68.02" width="5.54" height="4.96" fill="#6aff8d"/>
<rect x="401.72" y="68.02" width="5.54" height="4.96" fill="#77ff80"/>
<rect x="406.56" y="68.02" width="5.54" height="4.96" fill="#83ff73"/>
<rect x="411.41" y="68.02" width="6.84" height="4.96" fill="#90ff66"/>
<rect x="298" y="72.28" width="12.39" height="4.95" fill="#000092"/>
<rect x="309.69" y="72.28" width="5.54" height="4.95" fill="#0000a4"/>
<rect x="314.53" y="72.28" width="5.54" height="4.95" fill="#0000c4"/>
<rect x="319.38" y="72.28" width="5.54" height="4.95" fill="#0000e8"/>
<rect x="324.22" y="72.28" width="5.54" height="4.95" fill="#0000ff"/>
<rect x="329.06" y="72.28" width="5.54" height="4.95" fill="#0018ff"/>
<rect x="333.91" y="72.28" width="5.54" height="4.95" fill="#0038ff"/>
<rect x="338.75" y="72.28" width="5.54" height="4.95" fill="#0094ff"/>
<rect x="343.59" y="72.28" width="5.54" height="4.95" fill="#00b0ff"/>
<rect x="348.44" y="72.28" width="5.54" height="4.95" fill="#00c4ff"/>
<rect x="353.28" y="72.28" width="5.54" height="4.95" fill="#00d8ff"/>
<rect x="358.12" y="72.28" width="5.54" height="4.95" fill="#06ecf1"/>
<rect x="362.97" y="72.28" width="5.54" height="4.95" fill="#13fce4"/>
<rect x="367.81" y="72.28" width="5.54" height="4.95" fill="#1fffd7"/>
<rect x="372.66" y="72.28" width="5.54" height="4.95" fill="#2cffca"/>
<rect x="377.5" y="72.28" width="5.54" height="4.95" fill="#39ffbe"/>
<rect x="382.34" y="72.28" width="5.54" height="4.95" fill="#46ffb1"/>
<rect x="387.19" y="72.28" width="5.54" height="4.95" fill="#53ffa4"/>
<rect x="392.03" y="72.28" width="5.54" height="4.95" fill="#60ff97"/>
<rect x="396.88" y="72.28" width="5.54" height="4.95" fill="#6aff8d"/>
<rect x="401.72" y="72.28" width="5.54" height="4.95" fill="#77ff80"/>
<rect x="406.56" y="72.28" width="5.54" height="4.95" fill="#83ff73"/>
<rect x="411.41" y="72.28" width="6.84" height="4.95" fill="#90ff66"/>
<rect x="298" y="76.53" width="7.54" height="4.95" fill="#000092"/>
<rect x="304.84" y="76.53" width="5.54" height="4.95" fill="#00008d"/>
<rect x="309.69" y="76.53" width="5.54" height="4.95" fill="#00009b"/>
<rect x="314.53" y="76.53" width="5.54" height="4.95" fill="#0000bb"/>
<rect x="319.38" y="76.53" width="5.54" height="4.95" fill="#0000d6"/>
<rect x="324.22" y="76.53" width="5.54" height="4.95" fill="#0000f6"/>
<rect x="329.06" y="76.53" width="5.54" height="4.95" fill="#0004ff"/>
<rect x="333.91" y="76.53" width="5.54" height="4.95" fill="#0024ff"/>
<rect x="338.75" y="76.53" width="5.54" height="4.95" fill="#0094ff"/>
<rect x="343.59" y="76.53" width="5.54" height="4.95" fill="#00b0ff"/>
<rect x="348.44" y="76.53" width="5.54" height="4.95" fill="#00c4ff"/>
<rect x="353.28" y="76.53" width="5.54" height="4.95" fill="#00d8ff"/>
<rect x="358.12" y="76.53" width="5.54" height="4.95" fill="#06ecf1"/>
<rect x="362.97" y="76.53" width="5.54" height="4.95" fill="#13fce4"/>
<rect x="367.81" y="76.53" width="5.54" height="4.95" fill="#1fffd7"/>
<rect x="372.66" y="76.53" width="5.54" height="4.95" fill="#2cffca"/>
<rect x="377.5" y="76.53" width="5.54" height="4.95" fill="#39ffbe"/>
<rect x="382.34" y="76.53" width="5.54" height="4.95" fill="#46ffb1"/>
<rect x="387.19" y="76.53" width="5.54" height="4.95" fill="#53ffa4"/>
<rect x="392.03" y="76.53" width="5.54" height="4.95" fill="#60ff97"/>
<rect x="396.88" y="76.53" width="5.54" height="4.95" fill="#6aff8d"/>
<rect x="401.72" y="76.53" width="5.54" height="4.95" fill="#77ff80"/>
<rect x="406.56" y="76.53" width="5.54" height="4.95" fill="#83ff73"/>
<rect x="411.41" y="76.53" width="6.84" height="4.95" fill="#94ff63"/>
<rect x="298" y="80.78" width="7.54" height="4.95" fill="#00008d"/>
<rect x="304.84" y="80.78" width="5.54" height="4.95" fill="#000089"/>
<rect x="309.69" y="80.78" width="5.54" height="4.95" fill="#000092"/>
<rect x="314.53" y="80.78" width="5.54" height="4.95" fill="#0000a8"/>
<rect x="319.38" y="80.78" width="5.54" height="4.95" fill="#0000bf"/>
<rect x="324.22" y="80.78" width="5.54" height="4.95" fill="#0000d6"/>
<rect x="329.06" y="80.78" width="5.54" height="4.95" fill="#0000f6"/>
<rect x="333.91" y="80.78" width="5.54" height="4.95" fill="#0008ff"/>
<rect x="338.75" y="80.78" width="5.54" height="4.95" fill="#0094ff"/>
<rect x="343.59" y="80.78" width="5.54" height="4.95" fill="#00b0ff"/>
<rect x="348.44" y="80.78" width="5.54" height="4.95" fill="#00c4ff"/>
<rect x="353.28" y="80.78" width="5.54" height="4.95" fill="#00d8ff"/>
<rect x="358.12" y="80.78" width="5.54" height="4.95" fill="#06ecf1"/>
<rect x="362.97" y="80.78" width="5.54" height="4.95" fill="#13fce4"/>
<rect x="367.81" y="80.78" width="5.54" height="4.95" fill="#1fffd7"/>
<rect x="372.66" y="80.78" width="5.54" height="4.95" fill="#2cffca"/>
<rect x="377.5" y="80.78" width="5.54" height="4.95" fill="#39ffbe"/>
<rect x="382.34" y="80.78" width="5.54" height="4.95" fill="#46ffb1"/>
<rect x="387.19" y="80.78" width="5.54" height="4.95" fill="#53ffa4"/>
<rect x="392.03" y="80.78" width="5.54" height="4.95" fill="#60ff97"/>
<rect x="396.88" y="80.78" width="5.54" height="4.95" fill="#6aff8d"/>
<rect x="401.72" y="80.78" width="5.54" height="4.95" fill="#77ff80"/>
<rect x="406.56" y="80.78" width="5.54" height="4.95" fill="#83ff73"/>
<rect x="411.41" y="80.78" width="6.84" height="4.95" fill="#97ff60"/>
<rect x="298" y="85.04" width="7.54" height="4.96" fill="#00008d"/>
<rect x="304.84" y="85.04" width="10.39" height="4.96" fill="#000089"/>
<rect x="314.53" y="85.04" width="5.54" height="4.96" fill="#000096"/>
<rect x="319.38" y="85.04" width="5.54" height="4.96" fill="#0000a4"/>
<rect x="324.22" y="85.04" width="5.54" height="4.96" fill="#0000b6"/>
<rect x="329.06" y="85.04" width="5.54" height="4.96" fill="#0000cd"/>
<rect x="333.91" y="85.04" width="5.54" height="4.96" fill="#0000f6"/>
<rect x="338.75" y="85.04" width="5.54" height="4.96" fill="#0094ff"/>
<rect x="343.59" y="85.04" width="5.54" height="4.96" fill="#00b0ff"/>
<rect x="348.44" y="85.04" width="5.54" height="4.96" fill="#00c4ff"/>
<rect x="353.28" y="85.04" width="5.54" height="4.96" fill="#00d8ff"/>
<rect x="358.12" y="85.04" width="5.54" height="4.96" fill="#06ecf1"/>
<rect x="362.97" y="85.04" width="5.54" height="4.96" fill="#13fce4"/>
<rect x="367.81" y="85.04" width="5.54" height="4.96" fill="#1fffd7"/>
<rect x="372.66" y="85.04" width="5.54" height="4.96" fill="#2cffca"/>
<rect x="377.5" y="85.04" width="5.54" height="4.96" fill="#39ffbe"/>
<rect x="382.34" y="85.04" width="5.54" height="4.96" fill="#46ffb1"/>
<rect x="387.19" y="85.04" width="5.54" height="4.96" fill="#53ffa4"/>
<rect x="392.03" y="85.04" width="5.54" height="4.96" fill="#60ff97"/>
<rect x="396.88" y="85.04" width="5.54" height="4.96" fill="#6aff8d"/>
<rect x="401.72" y="85.04" width="5.54" height="4.96" fill="#77ff80"/>
<rect x="406.56" y="85.04" width="5.54" height="4.96" fill="#87ff70"/>
<rect x="411.41" y="85.04" width="6.84" height="4.96" fill="#9aff5d"/>
<rect x="298" y="89.3" width="22.07" height="4.95" fill="#000089"/>
<rect x="319.38" y="89.3" width="5.54" height="4.95" fill="#00008d"/>
<rect x="324.22" y="89.3" width="5.54" height="4.95" fill="#000096"/>
<rect x="329.06" y="89.3" width="5.54" height="4.95" fill="#0000a8"/>
<rect x="333.91" y="89.3" width="5.54" height="4.95" fill="#0000d1"/>
<rect x="338.75" y="89.3" width="5.54" height="4.95" fill="#0094ff"/>
<rect x="343.59" y="89.3" width="5.54" height="4.95" fill="#00b0ff"/>
<rect x="348.44" y="89.3" width="5.54" height="4.95" fill="#00c4ff"/>
<rect x="353.28" y="89.3" width="5.54" height="4.95" fill="#00d8ff"/>
<rect x="358.12" y="89.3" width="5.54" height="4.95" fill="#06ecf1"/>
<rect x="362.97" y="89.3" width="5.54" height="4.95" fill="#13fce4"/>
<rect x="367.81" y="89.3" width="5.54" height="4.95" fill="#1fffd7"/>
<rect x="372.66" y="89.3" width="5.54" height="4.95" fill="#2cffca"/>
<rect x="377.5" y="89.3" width="5.54" height="4.95" fill="#39ffbe"/>
<rect x="382.34" y="89.3" width="5.54" height="4.95" fill="#46ffb1"/>
<rect x="387.19" y="89.3" width="5.54" height="4.95" fill="#53ffa4"/>
<rect x="392.03" y="89.3" width="5.54" height="4.95" fill="#60ff97"/>
<rect x="396.88" y="89.3" width="5.54" height="4.95" fill="#6aff8d"/>
<rect x="401.72" y="89.3" width="5.54" height="4.95" fill="#77ff80"/>
<rect x="406.56" y="89.3" width="5.54" height="4.95" fill="#8aff6d"/>
<rect x="411.41" y="89.3" width="6.84" height="4.95" fill="#9dff5a"/>
<rect x="298" y="93.55" width="31.76" height="4.96" fill="#000089"/>
<rect x="329.06" y="93.55" width="5.54" height="4.96" fill="#000096"/>
<rect x="333.91" y="93.55" width="5.54" height="4.96" fill="#0000bf"/>
<rect x="338.75" y="93.55" width="5.54" height="4.96" fill="#0094ff"/>
<rect x="343.59" y="93.55" width="5.54" height="4.96" fill="#00b0ff"/>
<rect x="348.44" y="93.55" width="5.54" height="4.96" fill="#00c4ff"/>
<rect x="353.28" y="93.55" width="5.54" height="4.96" fill="#00dcfe"/>
<rect x="358.12" y="93.55" width="5.54" height="4.96" fill="#09f0ee"/>
<rect x="362.97" y="93.55" width="5.54" height="4.96" fill="#16ffe1"/>
<rect x="367.81" y="93.55" width="5.54" height="4.96" fill="#23ffd4"/>
<rect x="372.66" y="93.55" width="5.54" height="4.96" fill="#33ffc4"/>
<rect x="377.5" y="93.55" width="5.54" height="4.96" fill="#40ffb7"/>
<rect x="382.34" y="93.55" width="5.54" height="4.96" fill="#4dffaa"/>
<rect x="387.19" y="93.55" width="5.54" height="4.96" fill="#5aff9d"/>
<rect x="392.03" y="93.55" width="5.54" height="4.96" fill="#63ff94"/>
<rect x="396.88" y="93.55" width="5.54" height="4.96" fill="#70ff87"/>
<rect x="401.72" y="93.55" width="5.54" height="4.96" fill="#7dff7a"/>
<rect x="406.56" y="93.55" width="5.54" height="4.96" fill="#90ff66"/>
<rect x="411.41" y="93.55" width="6.84" height="4.96" fill="#aaff4d"/>
<rect x="298" y="97.81" width="31.76" height="4.95" fill="#000089"/>
<rect x="329.06" y="97.81" width="5.54" height="4.95" fill="#00009b"/>
<rect x="333.91" y="97.81" width="5.54" height="4.95" fill="#0000c4"/>
<rect x="338.75" y="97.81" width="5.54" height="4.95" fill="#0094ff"/>
<rect x="343.59" y="97.81" width="5.54" height="4.95" fill="#00b0ff"/>
<rect x="348.44" y="97.81" width="5.54" height="4.95" fill="#00c4ff"/>
<rect x="353.28" y="97.81" width="5.54" height="4.95" fill="#00e0fb"/>
<rect x="358.12" y="97.81" width="5.54" height="4.95" fill="#0cf4eb"/>
<rect x="362.97" y="97.81" width="5.54" height="4.95" fill="#1cffdb"/>
<rect x="367.81" y="97.81" width="5.54" height="4.95" fill="#29ffce"/>
<rect x="372.66" y="97.81" width="5.54" height="4.95" fill="#39ffbe"/>
<rect x="377.5" y="97.81" width="5.54" height="4.95" fill="#46ffb1"/>
<rect x="382.34" y="97.81" width="5.54" height="4.95" fill="#53ffa4"/>
<rect x="387.19" y="97.81" width="5.54" height="4.95" fill="#63ff94"/>
<rect x="392.03" y="97.81" width="5.54" height="4.95" fill="#70ff87"/>
<rect x="396.88" y="97.81" width="5.54" height="4.95" fill="#7dff7a"/>
<rect x="401.72" y="97.81" width="5.54" height="4.95" fill="#8aff6d"/>
<rect x="406.56" y="97.81" width="5.54" height="4.95" fill="#a0ff56"/>
<rect x="411.41" y="97.81" width="6.84" height="4.95" fill="#beff39"/>
<rect x="298" y="102.06" width="7.54" height="4.95" fill="#00008d"/>
<rect x="304.84" y="102.06" width="10.39" height="4.95" fill="#000089"/>
<rect x="314.53" y="102.06" width="5.54" height="4.95" fill="#00008d"/>
<rect x="319.38" y="102.06" width="5.54" height="4.95" fill="#000096"/>
<rect x="324.22" y="102.06" width="5.54" height="4.95" fill="#00009f"/>
<rect x="329.06" y="102.06" width="5.54" height="4.95" fill="#0000b6"/>
<rect x="333.91" y="102.06" width="5.54" height="4.95" fill="#0000df"/>
<rect x="338.75" y="102.06" width="5.54" height="4.95" fill="#0094ff"/>
<rect x="343.59" y="102.06" width="5.54" height="4.95" fill="#00b0ff"/>
<rect x="348.44" y="102.06" width="5.54" height="4.95" fill="#00c4ff"/>
<rect x="353.28" y="102.06" width="5.54" height="4.95" fill="#00e4f8"/>
<rect x="358.12" y="102.06" width="5.54" height="4.95" fill="#13fce4"/>
<rect x="362.97" y="102.06" width="5.54" height="4.95" fill="#23ffd4"/>
<rect x="367.81" y="102.06" width="5.54" height="4.95" fill="#33ffc4"/>
<rect x="372.66" y="102.06" width="5.54" height="4.95" fill="#43ffb4"/>
<rect x="377.5" y="102.06" width="5.54" height="4.95" fill="#50ffa7"/>
<rect x="382.34" y="102.06" width="5.54" height="4.95" fill="#60ff97"/>
<rect x="387.19" y="102.06" width="5.54" height="4.95" fill="#6dff8a"/>
<rect x="392.03" y="102.06" width="5.54" height="4.95" fill="#7dff7a"/>
<rect x="396.88" y="102.06" width="5.54" height="4.95" fill="#8aff6d"/>
<rect x="401.72" y="102.06" width="5.54" height="4.95" fill="#9aff5d"/>
<rect x="406.56" y="102.06" width="5.54" height="4.95" fill="#b4ff43"/>
<rect x="411.41" y="102.06" width="6.84" height="4.95" fill="#d7ff1f"/>
<rect x="298" y="106.31" width="7.54" height="4.95" fill="#00008d"/>
<rect x="304.84" y="106.31" width="5.54" height="4.95" fill="#000089"/>
<rect x="309.69" y="106.31" width="5.54" height="4.95" fill="#00008d"/>
<rect x="314.53" y="106.31" width="5.54" height="4.95" fill="#00009f"/>
<rect x="319.38" y="106.31" width="5.54" height="4.95" fill="#0000b2"/>
<rect x="324.22" y="106.31" width="5.54" height="4.95" fill="#0000c4"/>
<rect x="329.06" y="106.31" width="5.54" height="4.95" fill="#0000df"/>
<rect x="333.91" y="106.31" width="5.54" height="4.95" fill="#0000ff"/>
<rect x="338.75" y="106.31" width="5.54" height="4.95" fill="#0094ff"/>
<rect x="343.59" y="106.31" width="5.54" height="4.95" fill="#00b0ff"/>
<rect x="348.44" y="106.31" width="5.54" height="4.95" fill="#00c4ff"/>
<rect x="353.28" y="106.31" width="5.54" height="4.95" fill="#02e8f4"/>
<rect x="358.12" y="106.31" width="5.54" height="4.95" fill="#19ffde"/>
<rect x="362.97" y="106.31" width="5.54" height="4.95" fill="#29ffce"/>
<rect x="367.81" y="106.31" width="5.54" height="4.95" fill="#3cffba"/>
<rect x="372.66" y="106.31" width="5.54" height="4.95" fill="#4dffaa"/>
<rect x="377.5" y="106.31" width="5.54" height="4.95" fill="#5dff9a"/>
<rect x="382.34" y="106.31" width="5.54" height="4.95" fill="#6dff8a"/>
<rect x="387.19" y="106.31" width="5.54" height="4.95" fill="#7dff7a"/>
<rect x="392.03" y="106.31" width="5.54" height="4.95" fill="#8dff6a"/>
<rect x="396.88" y="106.31" width="5.54" height="4.95" fill="#9aff5d"/>
<rect x="401.72" y="106.31" width="5.54" height="4.95" fill="#adff49"/>
<rect x="406.56" y="106.31" width="5.54" height="4.95" fill="#caff2c"/>
<rect x="411.41" y="106.31" width="6.84" height="4.95" fill="#f1fc06"/>
<rect x="298" y="110.57" width="7.54" height="4.95" fill="#000092"/>
<rect x="304.84" y="110.57" width="5.54" height="4.95" fill="#00008d"/>
<rect x="309.69" y="110.57" width="5.54" height="4.95" fill="#000096"/>
<rect x="314.53" y="110.57" width="5.54" height="4.95" fill="#0000b2"/>
<rect x="319.38" y="110.57" width="5.54" height="4.95" fill="#0000c8"/>
<rect x="324.22" y="110.57" width="5.54" height="4.95" fill="#0000e3"/>
<rect x="329.06" y="110.57" width="5.54" height="4.95" fill="#0000ff"/>
<rect x="333.91" y="110.57" width="5.54" height="4.95" fill="#0014ff"/>
<rect x="338.75" y="110.57" width="5.54" height="4.95" fill="#0094ff"/>
<rect x="343.59" y="110.57" width="5.54" height="4.95" fill="#00b0ff"/>
<rect x="348.44" y="110.57" width="5.54" height="4.95" fill="#00c4ff"/>
<rect x="353.28" y="110.57" width="5.54" height="4.95" fill="#09f0ee"/>
<rect x="358.12" y="110.57" width="5.54" height="4.95" fill="#1fffd7"/>
<rect x="362.97" y="110.57" width="5.54" height="4.95" fill="#33ffc4"/>
<rect x="367.81" y="110.57" width="5.54" height="4.95" fill="#46ffb1"/>
<rect x="372.66" y="110.57" width="5.54" height="4.95" fill="#5aff9d"/>
<rect x="377.5" y="110.57" width="5.54" height="4.95" fill="#6dff8a"/>
<rect x="382.34" y="110.57" width="5.54" height="4.95" fill="#7dff7a"/>
<rect x="387.19" y="110.57" width="5.54" height="4.95" fill="#8dff6a"/>
<rect x="392.03" y="110.57" width="5.54" height="4.95" fill="#9dff5a"/>
<rect x="396.88" y="110.57" width="5.54" height="4.95" fill="#adff49"/>
<rect x="401.72" y="110.57" width="5.54" height="4.95" fill="#c4ff33"/>
<rect x="406.56" y="110.57" width="5.54" height="4.95" fill="#e1ff16"/>
<rect x="411.41" y="110.57" width="6.84" height="4.95" fill="#ffd700"/>
<rect x="298" y="114.82" width="12.39" height="4.96" fill="#000092"/>
<rect x="309.69" y="114.82" width="5.54" height="4.96" fill="#00009f"/>
<rect x="314.53" y="114.82" width="5.54" height="4.96" fill="#0000bf"/>
<rect x="319.38" y="114.82" width="5.54" height="4.96" fill="#0000df"/>
<rect x="324.22" y="114.82" width="5.54" height="4.96" fill="#0000ff"/>
<rect x="329.06" y="114.82" width="5.54" height="4.96" fill="#000cff"/>
<rect x="333.91" y="114.82" width="5.54" height="4.96" fill="#0030ff"/>
<rect x="338.75" y="114.82" width="5.54" height="4.96" fill="#0094ff"/>
<rect x="343.59" y="114.82" width="5.54" height="4.96" fill="#00b0ff"/>
<rect x="348.44" y="114.82" width="5.54" height="4.96" fill="#00c4ff"/>
<rect x="353.28" y="114.82" width="5.54" height="4.96" fill="#0cf4eb"/>
<rect x="358.12" y="114.82" width="5.54" height="4.96" fill="#26ffd1"/>
<rect x="362.97" y="114.82" width="5.54" height="4.96" fill="#40ffb7"/>
<rect x="367.81" y="114.82" width="5.54" height="4.96" fill="#53ffa4"/>
<rect x="372.66" y="114.82" width="5.54" height="4.96" fill="#6aff8d"/>
<rect x="377.5" y="114.82" width="5.54" height="4.96" fill="#7dff7a"/>
<rect x="382.34" y="114.82" width="5.54" height="4.96" fill="#8dff6a"/>
<rect x="387.19" y="114.82" width="5.54" height="4.96" fill="#a0ff56"/>
<rect x="392.03" y="114.82" width="5.54" height="4.96" fill="#b1ff46"/>
<rect x="396.88" y="114.82" width="5.54" height="4.96" fill="#c4ff33"/>
<rect x="401.72" y="114.82" width="5.54" height="4.96" fill="#dbff1c"/>
<rect x="406.56" y="114.82" width="5.54" height="4.96" fill="#fbf100"/>
<rect x="411.41" y="114.82" width="6.84" height="4.96" fill="#ffb600"/>
<rect x="298" y="119.08" width="12.39" height="4.95" fill="#000092"/>
<rect x="309.69" y="119.08" width="5.54" height="4.95" fill="#0000a4"/>
<rect x="314.53" y="119.08" width="5.54" height="4.95" fill="#0000c8"/>
<rect x="319.38" y="119.08" width="5.54" height="4.95" fill="#0000e8"/>
<rect x="324.22" y="119.08" width="5.54" height="4.95" fill="#0000ff"/>
<rect x="329.06" y="119.08" width="5.54" height="4.95" fill="#001cff"/>
<rect x="333.91" y="119.08" width="5.54" height="4.95" fill="#0040ff"/>
<rect x="338.75" y="119.08" width="5.54" height="4.95" fill="#0094ff"/>
<rect x="343.59" y="119.08" width="5.54" height="4.95" fill="#00b0ff"/>
<rect x="348.44" y="119.08" width="5.54" height="4.95" fill="#00c4ff"/>
<rect x="353.28" y="119.08" width="5.54" height="4.95" fill="#13fce4"/>
<rect x="358.12" y="119.08" width="5.54" height="4.95" fill="#30ffc7"/>
<rect x="362.97" y="119.08" width="5.54" height="4.95" fill="#49ffad"/>
<rect x="367.81" y="119.08" width="5.54" height="4.95" fill="#60ff97"/>
<rect x="372.66" y="119.08" width="5.54" height="4.95" fill="#77ff80"/>
<rect x="377.5" y="119.08" width="5.54" height="4.95" fill="#8dff6a"/>
<rect x="382.34" y="119.08" width="5.54" height="4.95" fill="#a0ff56"/>
<rect x="387.19" y="119.08" width="5.54" height="4.95" fill="#b4ff43"/>
<rect x="392.03" y="119.08" width="5.54" height="4.95" fill="#c7ff30"/>
<rect x="396.88" y="119.08" width="5.54" height="4.95" fill="#dbff1c"/>
<rect x="401.72" y="119.08" width="5.54" height="4.95" fill="#f4f802"/>
<rect x="406.56" y="119.08" width="5.54" height="4.95" fill="#ffd000"/>
<rect x="411.41" y="119.08" width="6.84" height="4.95" fill="#ff8d00"/>
<rect x="298" y="123.33" width="7.54" height="4.95" fill="#000096"/>
<rect x="304.84" y="123.33" width="5.54" height="4.95" fill="#000092"/>
<rect x="309.69" y="123.33" width="5.54" height="4.95" fill="#0000a4"/>
<rect x="314.53" y="123.33" width="5.54" height="4.95" fill="#0000cd"/>
<rect x="319.38" y="123.33" width="5.54" height="4.95" fill="#0000f1"/>
<rect x="324.22" y="123.33" width="5.54" height="4.95" fill="#0004ff"/>
<rect x="329.06" y="123.33" width="5.54" height="4.95" fill="#0024ff"/>
<rect x="333.91" y="123.33" width="5.54" height="4.95" fill="#0048ff"/>
<rect x="338.75" y="123.33" width="5.54" height="4.95" fill="#0068ff"/>
<rect x="343.59" y="123.33" width="5.54" height="4.95" fill="#00b0ff"/>
<rect x="348.44" y="123.33" width="5.54" height="4.95" fill="#00c4ff"/>
<rect x="353.28" y="123.33" width="5.54" height="4.95" fill="#19ffde"/>
<rect x="358.12" y="123.33" width="5.54" height="4.95" fill="#39ffbe"/>
<rect x="362.97" y="123.33" width="5.54" height="4.95" fill="#56ffa0"/>
<rect x="367.81" y="123.33" width="5.54" height="4.95" fill="#70ff87"/>
<rect x="372.66" y="123.33" width="5.54" height="4.95" fill="#87ff70"/>
<rect x="377.5" y="123.33" width="5.54" height="4.95" fill="#9dff5a"/>
<rect x="382.34" y="123.33" width="5.54" height="4.95" fill="#b4ff43"/>
<rect x="387.19" y="123.33" width="5.54" height="4.95" fill="#caff2c"/>
<rect x="392.03" y="123.33" width="5.54" height="4.95" fill="#deff19"/>
<rect x="396.88" y="123.33" width="5.54" height="4.95" fill="#f4f802"/>
<rect x="401.72" y="123.33" width="5.54" height="4.95" fill="#ffdb00"/>
<rect x="406.56" y="123.33" width="5.54" height="4.95" fill="#ffae00"/>
<rect x="411.41" y="123.33" width="6.84" height="4.95" fill="#ff6800"/>
<rect x="298" y="127.59" width="12.39" height="4.95" fill="#000096"/>
<rect x="309.69" y="127.59" width="5.54" height="4.95" fill="#0000a8"/>
<rect x="314.53" y="127.59" width="5.54" height="4.95" fill="#0000cd"/>
<rect x="319.38" y="127.59" width="5.54" height="4.95" fill="#0000f1"/>
<rect x="324.22" y="127.59" width="5.54" height="4.95" fill="#0008ff"/>
<rect x="329.06" y="127.59" width="5.54" height="4.95" fill="#0028ff"/>
<rect x="333.91" y="127.59" width="5.54" height="4.95" fill="#004cff"/>
<rect x="338.75" y="127.59" width="5.54" height="4.95" fill="#006cff"/>
<rect x="343.59" y="127.59" width="5.54" height="4.95" fill="#00b0ff"/>
<rect x="348.44" y="127.59" width="5.54" height="4.95" fill="#00c4ff"/>
<rect x="353.28" y="127.59" width="5.54" height="4.95" fill="#1fffd7"/>
<rect x="358.12" y="127.59" width="5.54" height="4.95" fill="#43ffb4"/>
<rect x="362.97" y="127.59" width="5.54" height="4.95" fill="#63ff94"/>
<rect x="367.81" y="127.59" width="5.54" height="4.95" fill="#7dff7a"/>
<rect x="372.66" y="127.59" width="5.54" height="4.95" fill="#9aff5d"/>
<rect x="377.5" y="127.59" width="5.54" height="4.95" fill="#b1ff46"/>
<rect x="382.34" y="127.59" width="5.54" height="4.95" fill="#caff2c"/>
<rect x="387.19" y="127.59" width="5.54" height="4.95" fill="#e1ff16"/>
<rect x="392.03" y="127.59" width="5.54" height="4.95" fill="#f8f500"/>
<rect x="396.88" y="127.59" width="5.54" height="4.95" fill="#ffdb00"/>
<rect x="401.72" y="127.59" width="5.54" height="4.95" fill="#ffb900"/>
<rect x="406.56" y="127.59" width="5.54" height="4.95" fill="#ff8900"/>
<rect x="411.41" y="127.59" width="6.84" height="4.95" fill="#ff3f00"/>
<rect x="298" y="131.84" width="12.39" height="6.25" fill="#000096"/>
<rect x="309.69" y="131.84" width="5.54" height="6.25" fill="#0000a8"/>
<rect x="314.53" y="131.84" width="5.54" height="6.25" fill="#0000cd"/>
<rect x="319.38" y="131.84" width="5.54" height="6.25" fill="#0000f6"/>
<rect x="324.22" y="131.84" width="5.54" height="6.25" fill="#0008ff"/>
<rect x="329.06" y="131.84" width="5.54" height="6.25" fill="#0028ff"/>
<rect x="333.91" y="131.84" width="5.54" height="6.25" fill="#004cff"/>
<rect x="338.75" y="131.84" width="5.54" height="6.25" fill="#006cff"/>
<rect x="343.59" y="131.84" width="5.54" height="6.25" fill="#00b0ff"/>
<rect x="348.44" y="131.84" width="5.54" height="6.25" fill="#00c4ff"/>
<rect x="353.28" y="131.84" width="5.54" height="6.25" fill="#26ffd1"/>
<rect x="358.12" y="131.84" width="5.54" height="6.25" fill="#4dffaa"/>
<rect x="362.97" y="131.84" width="5.54" height="6.25" fill="#70ff87"/>
<rect x="367.81" y="131.84" width="5.54" height="6.25" fill="#8dff6a"/>
<rect x="372.66" y="131.84" width="5.54" height="6.25" fill="#aaff4d"/>
<rect x="377.5" y="131.84" width="5.54" height="6.25" fill="#c7ff30"/>
<rect x="382.34" y="131.84" width="5.54" height="6.25" fill="#e1ff16"/>
<rect x="387.19" y="131.84" width="5.54" height="6.25" fill="#fbf100"/>
<rect x="392.03" y="131.84" width="5.54" height="6.25" fill="#ffd700"/>
<rect x="396.88" y="131.84" width="5.54" height="6.25" fill="#ffb900"/>
<rect x="401.72" y="131.84" width="5.54" height="6.25" fill="#ff9800"/>
<rect x="406.56" y="131.84" width="5.54" height="6.25" fill="#ff6400"/>
<rect x="411.41" y="131.84" width="6.84" height="6.25" fill="#ff1a00"/>
</g></g>
<path d="M300 51L333.91 51L333.91 68.02L338.75 68.02L338.75 123.33L343.59 123.33L343.59 136.1L300 136.1ZM333.91 51L416.25 51L416.25 119.08L411.41 119.08L411.41 114.82L406.56 114.82L406.56 110.57L401.72 110.57L401.72 102.06L396.88 102.06L396.88 97.81L392.03 97.81L392.03 93.55L387.19 93.55L387.19 89.3L382.34 89.3L382.34 85.04L367.81 85.04L367.81 80.78L338.75 80.78L338.75 68.02L333.91 68.02ZM338.75 80.78L367.81 80.78L367.81 85.04L382.34 85.04L382.34 89.3L387.19 89.3L387.19 93.55L392.03 93.55L392.03 97.81L396.88 97.81L396.88 102.06L401.72 102.06L401.72 106.31L358.12 106.31L358.12 110.57L338.75 110.57ZM338.75 110.57L358.12 110.57L358.12 106.31L401.72 106.31L401.72 110.57L406.56 110.57L406.56 114.82L411.41 114.82L411.41 119.08L416.25 119.08L416.25 136.1L343.59 136.1L343.59 123.33L338.75 123.33Z" fill="none" stroke="#0a0a0a" stroke-width="1.35" stroke-linejoin="miter" clip-path="url(#c300_51)"/>
<rect x="300.45" y="51.45" width="115.35" height="84.2" fill="none" stroke="#07070f" stroke-width="0.95"/>
</g>
<rect x="417.8" y="51.2" width="5.4" height="84.7" fill="url(#jet)" stroke="#101028" stroke-opacity="0.55" stroke-width="0.4"/>
<text x="424.8" y="57.6" class="tk">1.00</text>
<text x="424.8" y="77.55" class="tk">0.75</text>
<text x="424.8" y="97.5" class="tk">0.50</text>
<text x="424.8" y="117.45" class="tk">0.25</text>
<text x="424.8" y="137.4" class="tk">0.00</text>
<text x="365.2" y="46.2" class="tt" text-anchor="middle">pCalvedAnimals</text>
<g clip-path="url(#r203)">
<rect x="19.35" y="203.9" width="116.65" height="85.1" fill="#e9ebeb"/>
<path d="M58.23 203.9L136 203.9L136 267.73L131.14 267.73L131.14 263.47L126.28 263.47L126.28 254.96L121.42 254.96L121.42 246.45L116.56 246.45L116.56 242.19L111.7 242.19L111.7 237.94L87.4 237.94L87.4 242.19L67.95 242.19L67.95 246.45L38.79 246.45L38.79 233.69L43.65 233.69L43.65 220.92L48.51 220.92L48.51 216.67L53.37 216.67L53.37 212.41L58.23 212.41Z" fill="#d4686a" stroke="#161616" stroke-width="1.3" stroke-linejoin="miter"/>
<path d="M58.23 246.45L67.95 246.45L67.95 242.19L87.4 242.19L87.4 237.94L111.7 237.94L111.7 242.19L116.56 242.19L116.56 246.45L121.42 246.45L121.42 254.96L126.28 254.96L126.28 263.47L116.56 263.47L116.56 259.22L111.7 259.22L111.7 254.96L97.12 254.96L97.12 259.22L63.09 259.22L63.09 254.96L58.23 254.96Z" fill="#9cc566" stroke="#161616" stroke-width="1.3" stroke-linejoin="miter"/>
<path d="M67.95 259.22L97.12 259.22L97.12 254.96L111.7 254.96L111.7 259.22L116.56 259.22L116.56 263.47L131.14 263.47L131.14 267.73L136 267.73L136 289L67.95 289L67.95 280.49L63.09 280.49L63.09 271.98L67.95 271.98Z" fill="#6a9fcc" stroke="#161616" stroke-width="1.3" stroke-linejoin="miter"/>
<rect x="19.9" y="204.45" width="115.55" height="84" fill="none" stroke="#1d3144" stroke-width="1.1"/>
</g>
<g>
<g clip-path="url(#c147_204)"><g filter="url(#soft)">
<rect x="145.7" y="202" width="120.25" height="89.1" fill="#0014ff"/>
<rect x="145.7" y="202" width="41.45" height="6.95" fill="#0000cd"/>
<rect x="186.45" y="202" width="79.5" height="6.95" fill="#000080"/>
<rect x="145.7" y="208.25" width="17.23" height="4.95" fill="#0000d1"/>
<rect x="162.23" y="208.25" width="24.92" height="4.95" fill="#0000cd"/>
<rect x="186.45" y="208.25" width="79.5" height="4.95" fill="#000080"/>
<rect x="145.7" y="212.51" width="7.54" height="4.95" fill="#0000e3"/>
<rect x="152.54" y="212.51" width="5.54" height="4.95" fill="#0000df"/>
<rect x="157.39" y="212.51" width="10.39" height="4.95" fill="#0000d1"/>
<rect x="167.07" y="212.51" width="15.23" height="4.95" fill="#0000cd"/>
<rect x="181.61" y="212.51" width="34.61" height="4.95" fill="#000080"/>
<rect x="215.51" y="212.51" width="29.76" height="4.95" fill="#000084"/>
<rect x="244.57" y="212.51" width="21.38" height="4.95" fill="#000080"/>
<rect x="145.7" y="216.76" width="7.54" height="4.96" fill="#0014ff"/>
<rect x="152.54" y="216.76" width="5.54" height="4.96" fill="#0004ff"/>
<rect x="157.39" y="216.76" width="5.54" height="4.96" fill="#0000e3"/>
<rect x="162.23" y="216.76" width="5.54" height="4.96" fill="#0000d1"/>
<rect x="167.07" y="216.76" width="10.39" height="4.96" fill="#0000cd"/>
<rect x="176.76" y="216.76" width="29.76" height="4.96" fill="#000080"/>
<rect x="205.82" y="216.76" width="10.39" height="4.96" fill="#000084"/>
<rect x="215.51" y="216.76" width="10.39" height="4.96" fill="#000089"/>
<rect x="225.2" y="216.76" width="10.39" height="4.96" fill="#00008d"/>
<rect x="234.89" y="216.76" width="10.39" height="4.96" fill="#000089"/>
<rect x="244.57" y="216.76" width="5.54" height="4.96" fill="#000084"/>
<rect x="249.42" y="216.76" width="16.53" height="4.96" fill="#000080"/>
<rect x="145.7" y="221.02" width="7.54" height="4.95" fill="#0044ff"/>
<rect x="152.54" y="221.02" width="5.54" height="4.95" fill="#002cff"/>
<rect x="157.39" y="221.02" width="5.54" height="4.95" fill="#0000f1"/>
<rect x="162.23" y="221.02" width="5.54" height="4.95" fill="#0000d1"/>
<rect x="167.07" y="221.02" width="5.54" height="4.95" fill="#0000cd"/>
<rect x="171.92" y="221.02" width="34.61" height="4.95" fill="#000080"/>
<rect x="205.82" y="221.02" width="5.54" height="4.95" fill="#000089"/>
<rect x="210.67" y="221.02" width="5.54" height="4.95" fill="#00008d"/>
<rect x="215.51" y="221.02" width="5.54" height="4.95" fill="#000096"/>
<rect x="220.36" y="221.02" width="20.07" height="4.95" fill="#00009b"/>
<rect x="239.73" y="221.02" width="5.54" height="4.95" fill="#000092"/>
<rect x="244.57" y="221.02" width="5.54" height="4.95" fill="#000089"/>
<rect x="249.42" y="221.02" width="5.54" height="4.95" fill="#000084"/>
<rect x="254.26" y="221.02" width="11.69" height="4.95" fill="#000080"/>
<rect x="145.7" y="225.28" width="7.54" height="4.95" fill="#0000ff"/>
<rect x="152.54" y="225.28" width="5.54" height="4.95" fill="#0000f6"/>
<rect x="157.39" y="225.28" width="5.54" height="4.95" fill="#0000bf"/>
<rect x="162.23" y="225.28" width="10.39" height="4.95" fill="#0000ad"/>
<rect x="171.92" y="225.28" width="24.92" height="4.95" fill="#000080"/>
<rect x="196.14" y="225.28" width="5.54" height="4.95" fill="#000084"/>
<rect x="200.98" y="225.28" width="5.54" height="4.95" fill="#000089"/>
<rect x="205.82" y="225.28" width="5.54" height="4.95" fill="#000092"/>
<rect x="210.67" y="225.28" width="5.54" height="4.95" fill="#0000a4"/>
<rect x="215.51" y="225.28" width="5.54" height="4.95" fill="#0000b6"/>
<rect x="220.36" y="225.28" width="5.54" height="4.95" fill="#0000bf"/>
<rect x="225.2" y="225.28" width="10.39" height="4.95" fill="#0000c4"/>
<rect x="234.89" y="225.28" width="5.54" height="4.95" fill="#0000bf"/>
<rect x="239.73" y="225.28" width="5.54" height="4.95" fill="#0000ad"/>
<rect x="244.57" y="225.28" width="5.54" height="4.95" fill="#000096"/>
<rect x="249.42" y="225.28" width="5.54" height="4.95" fill="#000089"/>
<rect x="254.26" y="225.28" width="11.69" height="4.95" fill="#000080"/>
<rect x="145.7" y="229.53" width="7.54" height="4.95" fill="#0000bf"/>
<rect x="152.54" y="229.53" width="5.54" height="4.95" fill="#0000bb"/>
<rect x="157.39" y="229.53" width="5.54" height="4.95" fill="#0000b2"/>
<rect x="162.23" y="229.53" width="10.39" height="4.95" fill="#0000ad"/>
<rect x="171.92" y="229.53" width="20.07" height="4.95" fill="#000080"/>
<rect x="191.29" y="229.53" width="5.54" height="4.95" fill="#000084"/>
<rect x="196.14" y="229.53" width="5.54" height="4.95" fill="#000089"/>
<rect x="200.98" y="229.53" width="5.54" height="4.95" fill="#000092"/>
<rect x="205.82" y="229.53" width="5.54" height="4.95" fill="#00009f"/>
<rect x="210.67" y="229.53" width="5.54" height="4.95" fill="#0000cd"/>
<rect x="215.51" y="229.53" width="5.54" height="4.95" fill="#0000f6"/>
<rect x="220.36" y="229.53" width="5.54" height="4.95" fill="#0000ff"/>
<rect x="225.2" y="229.53" width="10.39" height="4.95" fill="#0008ff"/>
<rect x="234.89" y="229.53" width="5.54" height="4.95" fill="#0000ff"/>
<rect x="239.73" y="229.53" width="5.54" height="4.95" fill="#0000e3"/>
<rect x="244.57" y="229.53" width="5.54" height="4.95" fill="#0000ad"/>
<rect x="249.42" y="229.53" width="5.54" height="4.95" fill="#000092"/>
<rect x="254.26" y="229.53" width="5.54" height="4.95" fill="#000084"/>
<rect x="259.11" y="229.53" width="6.84" height="4.95" fill="#000080"/>
<rect x="145.7" y="233.78" width="22.07" height="4.95" fill="#0000ad"/>
<rect x="167.07" y="233.78" width="15.23" height="4.95" fill="#000080"/>
<rect x="181.61" y="233.78" width="5.54" height="4.95" fill="#000084"/>
<rect x="186.45" y="233.78" width="5.54" height="4.95" fill="#00008d"/>
<rect x="191.29" y="233.78" width="5.54" height="4.95" fill="#00009f"/>
<rect x="196.14" y="233.78" width="5.54" height="4.95" fill="#0000a8"/>
<rect x="200.98" y="233.78" width="5.54" height="4.95" fill="#0000ad"/>
<rect x="205.82" y="233.78" width="5.54" height="4.95" fill="#0000c4"/>
<rect x="210.67" y="233.78" width="5.54" height="4.95" fill="#0004ff"/>
<rect x="215.51" y="233.78" width="5.54" height="4.95" fill="#006cff"/>
<rect x="220.36" y="233.78" width="5.54" height="4.95" fill="#0098ff"/>
<rect x="225.2" y="233.78" width="10.39" height="4.95" fill="#00b0ff"/>
<rect x="234.89" y="233.78" width="5.54" height="4.95" fill="#0098ff"/>
<rect x="239.73" y="233.78" width="5.54" height="4.95" fill="#002cff"/>
<rect x="244.57" y="233.78" width="5.54" height="4.95" fill="#0000cd"/>
<rect x="249.42" y="233.78" width="5.54" height="4.95" fill="#00009f"/>
<rect x="254.26" y="233.78" width="5.54" height="4.95" fill="#000089"/>
<rect x="259.11" y="233.78" width="6.84" height="4.95" fill="#000084"/>
<rect x="145.7" y="238.04" width="22.07" height="4.96" fill="#0000ad"/>
<rect x="167.07" y="238.04" width="10.39" height="4.96" fill="#000080"/>
<rect x="176.76" y="238.04" width="5.54" height="4.96" fill="#00008d"/>
<rect x="181.61" y="238.04" width="5.54" height="4.96" fill="#00009f"/>
<rect x="186.45" y="238.04" width="5.54" height="4.96" fill="#0000a8"/>
<rect x="191.29" y="238.04" width="5.54" height="4.96" fill="#0000e3"/>
<rect x="196.14" y="238.04" width="15.23" height="4.96" fill="#0020ff"/>
<rect x="210.67" y="238.04" width="5.54" height="4.96" fill="#003cff"/>
<rect x="215.51" y="238.04" width="24.92" height="4.96" fill="#39ffbe"/>
<rect x="239.73" y="238.04" width="5.54" height="4.96" fill="#006cff"/>
<rect x="244.57" y="238.04" width="5.54" height="4.96" fill="#0004ff"/>
<rect x="249.42" y="238.04" width="5.54" height="4.96" fill="#0000b6"/>
<rect x="254.26" y="238.04" width="5.54" height="4.96" fill="#000096"/>
<rect x="259.11" y="238.04" width="6.84" height="4.96" fill="#000084"/>
<rect x="145.7" y="242.3" width="22.07" height="4.95" fill="#0000ad"/>
<rect x="167.07" y="242.3" width="20.07" height="4.95" fill="#0018ff"/>
<rect x="186.45" y="242.3" width="10.39" height="4.95" fill="#0080ff"/>
<rect x="196.14" y="242.3" width="10.39" height="4.95" fill="#19ffde"/>
<rect x="205.82" y="242.3" width="10.39" height="4.95" fill="#29ffce"/>
<rect x="215.51" y="242.3" width="24.92" height="4.95" fill="#7dff7a"/>
<rect x="239.73" y="242.3" width="5.54" height="4.95" fill="#39ffbe"/>
<rect x="244.57" y="242.3" width="5.54" height="4.95" fill="#003cff"/>
<rect x="249.42" y="242.3" width="5.54" height="4.95" fill="#0000ed"/>
<rect x="254.26" y="242.3" width="5.54" height="4.95" fill="#0000a4"/>
<rect x="259.11" y="242.3" width="6.84" height="4.95" fill="#000089"/>
<rect x="145.7" y="246.55" width="7.54" height="4.95" fill="#00009f"/>
<rect x="152.54" y="246.55" width="5.54" height="4.95" fill="#0000b6"/>
<rect x="157.39" y="246.55" width="5.54" height="4.95" fill="#0000f1"/>
<rect x="162.23" y="246.55" width="5.54" height="4.95" fill="#002cff"/>
<rect x="167.07" y="246.55" width="10.39" height="4.95" fill="#0060ff"/>
<rect x="176.76" y="246.55" width="10.39" height="4.95" fill="#0094ff"/>
<rect x="186.45" y="246.55" width="10.39" height="4.95" fill="#53ffa4"/>
<rect x="196.14" y="246.55" width="5.54" height="4.95" fill="#6dff8a"/>
<rect x="200.98" y="246.55" width="5.54" height="4.95" fill="#8aff6d"/>
<rect x="205.82" y="246.55" width="20.07" height="4.95" fill="#a4ff53"/>
<rect x="225.2" y="246.55" width="10.39" height="4.95" fill="#ceff29"/>
<rect x="234.89" y="246.55" width="10.39" height="4.95" fill="#a4ff53"/>
<rect x="244.57" y="246.55" width="5.54" height="4.95" fill="#39ffbe"/>
<rect x="249.42" y="246.55" width="5.54" height="4.95" fill="#0020ff"/>
<rect x="254.26" y="246.55" width="5.54" height="4.95" fill="#0000ad"/>
<rect x="259.11" y="246.55" width="6.84" height="4.95" fill="#00008d"/>
<rect x="145.7" y="250.81" width="7.54" height="4.95" fill="#00009f"/>
<rect x="152.54" y="250.81" width="5.54" height="4.95" fill="#0000b6"/>
<rect x="157.39" y="250.81" width="5.54" height="4.95" fill="#0000ff"/>
<rect x="162.23" y="250.81" width="5.54" height="4.95" fill="#004cff"/>
<rect x="167.07" y="250.81" width="5.54" height="4.95" fill="#0094ff"/>
<rect x="171.92" y="250.81" width="5.54" height="4.95" fill="#00c4ff"/>
<rect x="176.76" y="250.81" width="5.54" height="4.95" fill="#19ffde"/>
<rect x="181.61" y="250.81" width="5.54" height="4.95" fill="#39ffbe"/>
<rect x="186.45" y="250.81" width="5.54" height="4.95" fill="#a4ff53"/>
<rect x="191.29" y="250.81" width="5.54" height="4.95" fill="#b4ff43"/>
<rect x="196.14" y="250.81" width="5.54" height="4.95" fill="#c1ff36"/>
<rect x="200.98" y="250.81" width="5.54" height="4.95" fill="#d1ff26"/>
<rect x="205.82" y="250.81" width="20.07" height="4.95" fill="#deff19"/>
<rect x="225.2" y="250.81" width="20.07" height="4.95" fill="#e7ff0f"/>
<rect x="244.57" y="250.81" width="5.54" height="4.95" fill="#7dff7a"/>
<rect x="249.42" y="250.81" width="5.54" height="4.95" fill="#0020ff"/>
<rect x="254.26" y="250.81" width="5.54" height="4.95" fill="#0000e3"/>
<rect x="259.11" y="250.81" width="6.84" height="4.95" fill="#00009f"/>
<rect x="145.7" y="255.06" width="7.54" height="4.95" fill="#00009f"/>
<rect x="152.54" y="255.06" width="5.54" height="4.95" fill="#0000b6"/>
<rect x="157.39" y="255.06" width="5.54" height="4.95" fill="#0004ff"/>
<rect x="162.23" y="255.06" width="5.54" height="4.95" fill="#0060ff"/>
<rect x="167.07" y="255.06" width="5.54" height="4.95" fill="#00b0ff"/>
<rect x="171.92" y="255.06" width="5.54" height="4.95" fill="#19ffde"/>
<rect x="176.76" y="255.06" width="5.54" height="4.95" fill="#6aff8d"/>
<rect x="181.61" y="255.06" width="5.54" height="4.95" fill="#b4ff43"/>
<rect x="186.45" y="255.06" width="5.54" height="4.95" fill="#e7ff0f"/>
<rect x="191.29" y="255.06" width="5.54" height="4.95" fill="#deff19"/>
<rect x="196.14" y="255.06" width="5.54" height="4.95" fill="#ebff0c"/>
<rect x="200.98" y="255.06" width="5.54" height="4.95" fill="#fbf100"/>
<rect x="205.82" y="255.06" width="20.07" height="4.95" fill="#ffe200"/>
<rect x="225.2" y="255.06" width="15.23" height="4.95" fill="#ff9400"/>
<rect x="239.73" y="255.06" width="5.54" height="4.95" fill="#ceff29"/>
<rect x="244.57" y="255.06" width="5.54" height="4.95" fill="#a4ff53"/>
<rect x="249.42" y="255.06" width="5.54" height="4.95" fill="#39ffbe"/>
<rect x="254.26" y="255.06" width="5.54" height="4.95" fill="#0020ff"/>
<rect x="259.11" y="255.06" width="6.84" height="4.95" fill="#0000a8"/>
<rect x="145.7" y="259.31" width="7.54" height="4.95" fill="#00009f"/>
<rect x="152.54" y="259.31" width="5.54" height="4.95" fill="#0000b6"/>
<rect x="157.39" y="259.31" width="5.54" height="4.95" fill="#0004ff"/>
<rect x="162.23" y="259.31" width="5.54" height="4.95" fill="#0080ff"/>
<rect x="167.07" y="259.31" width="5.54" height="4.95" fill="#00e4f8"/>
<rect x="171.92" y="259.31" width="5.54" height="4.95" fill="#63ff94"/>
<rect x="176.76" y="259.31" width="5.54" height="4.95" fill="#deff19"/>
<rect x="181.61" y="259.31" width="5.54" height="4.95" fill="#ff9400"/>
<rect x="186.45" y="259.31" width="10.39" height="4.95" fill="#ff6800"/>
<rect x="196.14" y="259.31" width="44.29" height="4.95" fill="#ff6f00"/>
<rect x="239.73" y="259.31" width="5.54" height="4.95" fill="#ffb200"/>
<rect x="244.57" y="259.31" width="5.54" height="4.95" fill="#ceff29"/>
<rect x="249.42" y="259.31" width="5.54" height="4.95" fill="#53ffa4"/>
<rect x="254.26" y="259.31" width="5.54" height="4.95" fill="#0020ff"/>
<rect x="259.11" y="259.31" width="6.84" height="4.95" fill="#0000e3"/>
<rect x="145.7" y="263.57" width="7.54" height="4.95" fill="#00009f"/>
<rect x="152.54" y="263.57" width="5.54" height="4.95" fill="#0000c4"/>
<rect x="157.39" y="263.57" width="5.54" height="4.95" fill="#0000ff"/>
<rect x="162.23" y="263.57" width="5.54" height="4.95" fill="#0080ff"/>
<rect x="167.07" y="263.57" width="5.54" height="4.95" fill="#0ff8e7"/>
<rect x="171.92" y="263.57" width="5.54" height="4.95" fill="#8dff6a"/>
<rect x="176.76" y="263.57" width="5.54" height="4.95" fill="#ffd700"/>
<rect x="181.61" y="263.57" width="5.54" height="4.95" fill="#ff6800"/>
<rect x="186.45" y="263.57" width="5.54" height="4.95" fill="#da0000"/>
<rect x="191.29" y="263.57" width="5.54" height="4.95" fill="#ff1a00"/>
<rect x="196.14" y="263.57" width="10.39" height="4.95" fill="#ff6800"/>
<rect x="205.82" y="263.57" width="39.45" height="4.95" fill="#ff5500"/>
<rect x="244.57" y="263.57" width="15.23" height="4.95" fill="#ff9400"/>
<rect x="259.11" y="263.57" width="6.84" height="4.95" fill="#00e4f8"/>
<rect x="145.7" y="267.82" width="7.54" height="4.95" fill="#00009f"/>
<rect x="152.54" y="267.82" width="5.54" height="4.95" fill="#0000c4"/>
<rect x="157.39" y="267.82" width="5.54" height="4.95" fill="#0000ff"/>
<rect x="162.23" y="267.82" width="5.54" height="4.95" fill="#0080ff"/>
<rect x="167.07" y="267.82" width="5.54" height="4.95" fill="#0ff8e7"/>
<rect x="171.92" y="267.82" width="5.54" height="4.95" fill="#8dff6a"/>
<rect x="176.76" y="267.82" width="5.54" height="4.95" fill="#ffd700"/>
<rect x="181.61" y="267.82" width="5.54" height="4.95" fill="#ff6800"/>
<rect x="186.45" y="267.82" width="5.54" height="4.95" fill="#b60000"/>
<rect x="191.29" y="267.82" width="5.54" height="4.95" fill="#ff1a00"/>
<rect x="196.14" y="267.82" width="10.39" height="4.95" fill="#ff6800"/>
<rect x="205.82" y="267.82" width="15.23" height="4.95" fill="#ff1a00"/>
<rect x="220.36" y="267.82" width="29.76" height="4.95" fill="#ff3800"/>
<rect x="249.42" y="267.82" width="16.53" height="4.95" fill="#ff6800"/>
<rect x="145.7" y="272.08" width="7.54" height="4.95" fill="#00009f"/>
<rect x="152.54" y="272.08" width="5.54" height="4.95" fill="#0000c4"/>
<rect x="157.39" y="272.08" width="5.54" height="4.95" fill="#0000ff"/>
<rect x="162.23" y="272.08" width="5.54" height="4.95" fill="#0084ff"/>
<rect x="167.07" y="272.08" width="5.54" height="4.95" fill="#0ff8e7"/>
<rect x="171.92" y="272.08" width="5.54" height="4.95" fill="#94ff63"/>
<rect x="176.76" y="272.08" width="5.54" height="4.95" fill="#ffd000"/>
<rect x="181.61" y="272.08" width="5.54" height="4.95" fill="#ff5d00"/>
<rect x="186.45" y="272.08" width="5.54" height="4.95" fill="#b20000"/>
<rect x="191.29" y="272.08" width="5.54" height="4.95" fill="#ff1a00"/>
<rect x="196.14" y="272.08" width="10.39" height="4.95" fill="#ff5500"/>
<rect x="205.82" y="272.08" width="29.76" height="4.95" fill="#f10800"/>
<rect x="234.89" y="272.08" width="20.07" height="4.95" fill="#ff2d00"/>
<rect x="254.26" y="272.08" width="11.69" height="4.95" fill="#ff3800"/>
<rect x="145.7" y="276.33" width="7.54" height="4.96" fill="#00009f"/>
<rect x="152.54" y="276.33" width="5.54" height="4.96" fill="#0000c4"/>
<rect x="157.39" y="276.33" width="5.54" height="4.96" fill="#0004ff"/>
<rect x="162.23" y="276.33" width="5.54" height="4.96" fill="#0088ff"/>
<rect x="167.07" y="276.33" width="5.54" height="4.96" fill="#0ff8e7"/>
<rect x="171.92" y="276.33" width="5.54" height="4.96" fill="#9dff5a"/>
<rect x="176.76" y="276.33" width="5.54" height="4.96" fill="#ffc400"/>
<rect x="181.61" y="276.33" width="5.54" height="4.96" fill="#ff5500"/>
<rect x="186.45" y="276.33" width="5.54" height="4.96" fill="#ad0000"/>
<rect x="191.29" y="276.33" width="5.54" height="4.96" fill="#ff1a00"/>
<rect x="196.14" y="276.33" width="10.39" height="4.96" fill="#ff3f00"/>
<rect x="205.82" y="276.33" width="44.29" height="4.96" fill="#da0000"/>
<rect x="249.42" y="276.33" width="16.53" height="4.96" fill="#ff2500"/>
<rect x="145.7" y="280.59" width="7.54" height="4.95" fill="#00009f"/>
<rect x="152.54" y="280.59" width="5.54" height="4.95" fill="#0000c4"/>
<rect x="157.39" y="280.59" width="5.54" height="4.95" fill="#000cff"/>
<rect x="162.23" y="280.59" width="5.54" height="4.95" fill="#0094ff"/>
<rect x="167.07" y="280.59" width="5.54" height="4.95" fill="#16ffe1"/>
<rect x="171.92" y="280.59" width="5.54" height="4.95" fill="#b4ff43"/>
<rect x="176.76" y="280.59" width="5.54" height="4.95" fill="#ffbd00"/>
<rect x="181.61" y="280.59" width="5.54" height="4.95" fill="#ff4700"/>
<rect x="186.45" y="280.59" width="5.54" height="4.95" fill="#bf0000"/>
<rect x="191.29" y="280.59" width="5.54" height="4.95" fill="#ed0400"/>
<rect x="196.14" y="280.59" width="5.54" height="4.95" fill="#ff3b00"/>
<rect x="200.98" y="280.59" width="5.54" height="4.95" fill="#ff2d00"/>
<rect x="205.82" y="280.59" width="44.29" height="4.95" fill="#d60000"/>
<rect x="249.42" y="280.59" width="16.53" height="4.95" fill="#ff1600"/>
<rect x="145.7" y="284.85" width="7.54" height="6.25" fill="#00009f"/>
<rect x="152.54" y="284.85" width="5.54" height="6.25" fill="#0000c4"/>
<rect x="157.39" y="284.85" width="5.54" height="6.25" fill="#0018ff"/>
<rect x="162.23" y="284.85" width="5.54" height="6.25" fill="#009cff"/>
<rect x="167.07" y="284.85" width="5.54" height="6.25" fill="#19ffde"/>
<rect x="171.92" y="284.85" width="5.54" height="6.25" fill="#ceff29"/>
<rect x="176.76" y="284.85" width="5.54" height="6.25" fill="#ffb200"/>
<rect x="181.61" y="284.85" width="5.54" height="6.25" fill="#ff3800"/>
<rect x="186.45" y="284.85" width="5.54" height="6.25" fill="#cd0000"/>
<rect x="191.29" y="284.85" width="5.54" height="6.25" fill="#ff1a00"/>
<rect x="196.14" y="284.85" width="5.54" height="6.25" fill="#ff3800"/>
<rect x="200.98" y="284.85" width="5.54" height="6.25" fill="#ff1a00"/>
<rect x="205.82" y="284.85" width="44.29" height="6.25" fill="#cd0000"/>
<rect x="249.42" y="284.85" width="16.53" height="6.25" fill="#f10800"/>
</g></g>
<path d="M147.7 204L186.45 204L186.45 212.51L181.61 212.51L181.61 216.76L176.76 216.76L176.76 221.02L171.92 221.02L171.92 233.78L167.07 233.78L167.07 246.55L186.45 246.55L186.45 255.06L191.29 255.06L191.29 259.31L196.14 259.31L196.14 272.08L191.29 272.08L191.29 280.59L196.14 280.59L196.14 289.1L147.7 289.1ZM186.45 204L263.95 204L263.95 267.82L259.11 267.82L259.11 263.57L254.26 263.57L254.26 255.06L249.42 255.06L249.42 246.55L244.57 246.55L244.57 242.3L239.73 242.3L239.73 238.04L215.51 238.04L215.51 242.3L196.14 242.3L196.14 246.55L167.07 246.55L167.07 233.78L171.92 233.78L171.92 221.02L176.76 221.02L176.76 216.76L181.61 216.76L181.61 212.51L186.45 212.51ZM186.45 246.55L196.14 246.55L196.14 242.3L215.51 242.3L215.51 238.04L239.73 238.04L239.73 242.3L244.57 242.3L244.57 246.55L249.42 246.55L249.42 255.06L254.26 255.06L254.26 263.57L244.57 263.57L244.57 259.31L239.73 259.31L239.73 255.06L225.2 255.06L225.2 259.31L191.29 259.31L191.29 255.06L186.45 255.06ZM196.14 259.31L225.2 259.31L225.2 255.06L239.73 255.06L239.73 259.31L244.57 259.31L244.57 263.57L259.11 263.57L259.11 267.82L263.95 267.82L263.95 289.1L196.14 289.1L196.14 280.59L191.29 280.59L191.29 272.08L196.14 272.08Z" fill="none" stroke="#0a0a0a" stroke-width="1.35" stroke-linejoin="miter" clip-path="url(#c147_204)"/>
<rect x="148.15" y="204.45" width="115.35" height="84.2" fill="none" stroke="#07070f" stroke-width="0.95"/>
</g>
<rect x="265.5" y="204.2" width="5.4" height="84.7" fill="url(#jet)" stroke="#101028" stroke-opacity="0.55" stroke-width="0.4"/>
<text x="272.5" y="209.5" class="tk">1.00</text>
<text x="272.5" y="229.45" class="tk">0.75</text>
<text x="272.5" y="249.4" class="tk">0.50</text>
<text x="272.5" y="269.35" class="tk">0.25</text>
<text x="272.5" y="289.3" class="tk">0.00</text>
<text x="212.05" y="198.2" class="tt" text-anchor="middle">pDairyBreed</text>
<g>
<g clip-path="url(#c300_204)"><g filter="url(#soft)">
<rect x="298" y="202" width="120.25" height="89.1" fill="#00e4f8"/>
<rect x="298" y="202" width="7.54" height="6.95" fill="#00009f"/>
<rect x="304.84" y="202" width="10.39" height="6.95" fill="#0000b6"/>
<rect x="314.53" y="202" width="5.54" height="6.95" fill="#0000f1"/>
<rect x="319.38" y="202" width="5.54" height="6.95" fill="#0018ff"/>
<rect x="324.22" y="202" width="5.54" height="6.95" fill="#0038ff"/>
<rect x="329.06" y="202" width="10.39" height="6.95" fill="#0060ff"/>
<rect x="338.75" y="202" width="5.54" height="6.95" fill="#009cff"/>
<rect x="343.59" y="202" width="5.54" height="6.95" fill="#00b0ff"/>
<rect x="348.44" y="202" width="5.54" height="6.95" fill="#00d0ff"/>
<rect x="353.28" y="202" width="5.54" height="6.95" fill="#00e4f8"/>
<rect x="358.12" y="202" width="15.23" height="6.95" fill="#00bcff"/>
<rect x="372.66" y="202" width="15.23" height="6.95" fill="#09f0ee"/>
<rect x="387.19" y="202" width="31.06" height="6.95" fill="#53ffa4"/>
<rect x="298" y="208.25" width="7.54" height="4.95" fill="#00009f"/>
<rect x="304.84" y="208.25" width="5.54" height="4.95" fill="#0000ad"/>
<rect x="309.69" y="208.25" width="5.54" height="4.95" fill="#0000bf"/>
<rect x="314.53" y="208.25" width="5.54" height="4.95" fill="#0000f6"/>
<rect x="319.38" y="208.25" width="5.54" height="4.95" fill="#001cff"/>
<rect x="324.22" y="208.25" width="5.54" height="4.95" fill="#0040ff"/>
<rect x="329.06" y="208.25" width="10.39" height="4.95" fill="#0060ff"/>
<rect x="338.75" y="208.25" width="5.54" height="4.95" fill="#0094ff"/>
<rect x="343.59" y="208.25" width="5.54" height="4.95" fill="#00b0ff"/>
<rect x="348.44" y="208.25" width="5.54" height="4.95" fill="#00d0ff"/>
<rect x="353.28" y="208.25" width="5.54" height="4.95" fill="#00e4f8"/>
<rect x="358.12" y="208.25" width="20.07" height="4.95" fill="#0ff8e7"/>
<rect x="377.5" y="208.25" width="20.07" height="4.95" fill="#39ffbe"/>
<rect x="396.88" y="208.25" width="21.38" height="4.95" fill="#6aff8d"/>
<rect x="298" y="212.51" width="12.39" height="4.95" fill="#00009f"/>
<rect x="309.69" y="212.51" width="5.54" height="4.95" fill="#0000c4"/>
<rect x="314.53" y="212.51" width="5.54" height="4.95" fill="#0000ff"/>
<rect x="319.38" y="212.51" width="5.54" height="4.95" fill="#0020ff"/>
<rect x="324.22" y="212.51" width="5.54" height="4.95" fill="#004cff"/>
<rect x="329.06" y="212.51" width="5.54" height="4.95" fill="#0060ff"/>
<rect x="333.91" y="212.51" width="10.39" height="4.95" fill="#0094ff"/>
<rect x="343.59" y="212.51" width="5.54" height="4.95" fill="#00b0ff"/>
<rect x="348.44" y="212.51" width="5.54" height="4.95" fill="#00d0ff"/>
<rect x="353.28" y="212.51" width="5.54" height="4.95" fill="#06ecf1"/>
<rect x="358.12" y="212.51" width="20.07" height="4.95" fill="#0ff8e7"/>
<rect x="377.5" y="212.51" width="20.07" height="4.95" fill="#39ffbe"/>
<rect x="396.88" y="212.51" width="21.38" height="4.95" fill="#6aff8d"/>
<rect x="298" y="216.76" width="12.39" height="4.96" fill="#00009f"/>
<rect x="309.69" y="216.76" width="5.54" height="4.96" fill="#0000c4"/>
<rect x="314.53" y="216.76" width="5.54" height="4.96" fill="#0000ff"/>
<rect x="319.38" y="216.76" width="5.54" height="4.96" fill="#0028ff"/>
<rect x="324.22" y="216.76" width="5.54" height="4.96" fill="#004cff"/>
<rect x="329.06" y="216.76" width="5.54" height="4.96" fill="#0084ff"/>
<rect x="333.91" y="216.76" width="5.54" height="4.96" fill="#0094ff"/>
<rect x="338.75" y="216.76" width="5.54" height="4.96" fill="#0098ff"/>
<rect x="343.59" y="216.76" width="5.54" height="4.96" fill="#00b0ff"/>
<rect x="348.44" y="216.76" width="5.54" height="4.96" fill="#00d0ff"/>
<rect x="353.28" y="216.76" width="5.54" height="4.96" fill="#0cf4eb"/>
<rect x="358.12" y="216.76" width="20.07" height="4.96" fill="#0ff8e7"/>
<rect x="377.5" y="216.76" width="20.07" height="4.96" fill="#39ffbe"/>
<rect x="396.88" y="216.76" width="21.38" height="4.96" fill="#6aff8d"/>
<rect x="298" y="221.02" width="12.39" height="4.95" fill="#00009f"/>
<rect x="309.69" y="221.02" width="5.54" height="4.95" fill="#0000c4"/>
<rect x="314.53" y="221.02" width="5.54" height="4.95" fill="#0000ff"/>
<rect x="319.38" y="221.02" width="5.54" height="4.95" fill="#0030ff"/>
<rect x="324.22" y="221.02" width="5.54" height="4.95" fill="#0060ff"/>
<rect x="329.06" y="221.02" width="5.54" height="4.95" fill="#0080ff"/>
<rect x="333.91" y="221.02" width="5.54" height="4.95" fill="#0094ff"/>
<rect x="338.75" y="221.02" width="5.54" height="4.95" fill="#009cff"/>
<rect x="343.59" y="221.02" width="5.54" height="4.95" fill="#00b0ff"/>
<rect x="348.44" y="221.02" width="5.54" height="4.95" fill="#00d0ff"/>
<rect x="353.28" y="221.02" width="24.92" height="4.95" fill="#0ff8e7"/>
<rect x="377.5" y="221.02" width="20.07" height="4.95" fill="#39ffbe"/>
<rect x="396.88" y="221.02" width="21.38" height="4.95" fill="#6aff8d"/>
<rect x="298" y="225.28" width="12.39" height="4.95" fill="#00009f"/>
<rect x="309.69" y="225.28" width="5.54" height="4.95" fill="#0000c4"/>
<rect x="314.53" y="225.28" width="5.54" height="4.95" fill="#0000ff"/>
<rect x="319.38" y="225.28" width="5.54" height="4.95" fill="#0038ff"/>
<rect x="324.22" y="225.28" width="5.54" height="4.95" fill="#0060ff"/>
<rect x="329.06" y="225.28" width="5.54" height="4.95" fill="#0080ff"/>
<rect x="333.91" y="225.28" width="5.54" height="4.95" fill="#0094ff"/>
<rect x="338.75" y="225.28" width="5.54" height="4.95" fill="#009cff"/>
<rect x="343.59" y="225.28" width="5.54" height="4.95" fill="#00b0ff"/>
<rect x="348.44" y="225.28" width="5.54" height="4.95" fill="#00d0ff"/>
<rect x="353.28" y="225.28" width="5.54" height="4.95" fill="#0ff8e7"/>
<rect x="358.12" y="225.28" width="15.23" height="4.95" fill="#19ffde"/>
<rect x="372.66" y="225.28" width="5.54" height="4.95" fill="#00dcfe"/>
<rect x="377.5" y="225.28" width="5.54" height="4.95" fill="#00b0ff"/>
<rect x="382.34" y="225.28" width="5.54" height="4.95" fill="#00dcfe"/>
<rect x="387.19" y="225.28" width="10.39" height="4.95" fill="#29ffce"/>
<rect x="396.88" y="225.28" width="21.38" height="4.95" fill="#73ff83"/>
<rect x="298" y="229.53" width="12.39" height="4.95" fill="#00009f"/>
<rect x="309.69" y="229.53" width="5.54" height="4.95" fill="#0000cd"/>
<rect x="314.53" y="229.53" width="5.54" height="4.95" fill="#0000ff"/>
<rect x="319.38" y="229.53" width="5.54" height="4.95" fill="#0028ff"/>
<rect x="324.22" y="229.53" width="5.54" height="4.95" fill="#0060ff"/>
<rect x="329.06" y="229.53" width="5.54" height="4.95" fill="#0080ff"/>
<rect x="333.91" y="229.53" width="5.54" height="4.95" fill="#0094ff"/>
<rect x="338.75" y="229.53" width="5.54" height="4.95" fill="#009cff"/>
<rect x="343.59" y="229.53" width="5.54" height="4.95" fill="#00bcff"/>
<rect x="348.44" y="229.53" width="5.54" height="4.95" fill="#00e4f8"/>
<rect x="353.28" y="229.53" width="20.07" height="4.95" fill="#19ffde"/>
<rect x="372.66" y="229.53" width="5.54" height="4.95" fill="#00d0ff"/>
<rect x="377.5" y="229.53" width="5.54" height="4.95" fill="#0094ff"/>
<rect x="382.34" y="229.53" width="5.54" height="4.95" fill="#00c4ff"/>
<rect x="387.19" y="229.53" width="10.39" height="4.95" fill="#29ffce"/>
<rect x="396.88" y="229.53" width="21.38" height="4.95" fill="#73ff83"/>
<rect x="298" y="233.78" width="12.39" height="4.95" fill="#00009f"/>
<rect x="309.69" y="233.78" width="5.54" height="4.95" fill="#0000d1"/>
<rect x="314.53" y="233.78" width="5.54" height="4.95" fill="#0008ff"/>
<rect x="319.38" y="233.78" width="20.07" height="4.95" fill="#0080ff"/>
<rect x="338.75" y="233.78" width="5.54" height="4.95" fill="#009cff"/>
<rect x="343.59" y="233.78" width="5.54" height="4.95" fill="#00e4f8"/>
<rect x="348.44" y="233.78" width="10.39" height="4.95" fill="#53ffa4"/>
<rect x="358.12" y="233.78" width="5.54" height="4.95" fill="#39ffbe"/>
<rect x="362.97" y="233.78" width="5.54" height="4.95" fill="#19ffde"/>
<rect x="367.81" y="233.78" width="5.54" height="4.95" fill="#00e4f8"/>
<rect x="372.66" y="233.78" width="5.54" height="4.95" fill="#00b0ff"/>
<rect x="377.5" y="233.78" width="5.54" height="4.95" fill="#0074ff"/>
<rect x="382.34" y="233.78" width="5.54" height="4.95" fill="#00b0ff"/>
<rect x="387.19" y="233.78" width="5.54" height="4.95" fill="#19ffde"/>
<rect x="392.03" y="233.78" width="26.22" height="4.95" fill="#63ff94"/>
<rect x="298" y="238.04" width="12.39" height="4.96" fill="#00009f"/>
<rect x="309.69" y="238.04" width="5.54" height="4.96" fill="#0000da"/>
<rect x="314.53" y="238.04" width="5.54" height="4.96" fill="#000cff"/>
<rect x="319.38" y="238.04" width="20.07" height="4.96" fill="#0080ff"/>
<rect x="338.75" y="238.04" width="5.54" height="4.96" fill="#00b0ff"/>
<rect x="343.59" y="238.04" width="5.54" height="4.96" fill="#39ffbe"/>
<rect x="348.44" y="238.04" width="5.54" height="4.96" fill="#ff5500"/>
<rect x="353.28" y="238.04" width="5.54" height="4.96" fill="#ffb200"/>
<rect x="358.12" y="238.04" width="10.39" height="4.96" fill="#7dff7a"/>
<rect x="367.81" y="238.04" width="10.39" height="4.96" fill="#00c4ff"/>
<rect x="377.5" y="238.04" width="5.54" height="4.96" fill="#0080ff"/>
<rect x="382.34" y="238.04" width="5.54" height="4.96" fill="#00b0ff"/>
<rect x="387.19" y="238.04" width="5.54" height="4.96" fill="#0ff8e7"/>
<rect x="392.03" y="238.04" width="10.39" height="4.96" fill="#53ffa4"/>
<rect x="401.72" y="238.04" width="16.53" height="4.96" fill="#7dff7a"/>
<rect x="298" y="242.3" width="12.39" height="4.95" fill="#0000a4"/>
<rect x="309.69" y="242.3" width="5.54" height="4.95" fill="#0000c4"/>
<rect x="314.53" y="242.3" width="5.54" height="4.95" fill="#0000ff"/>
<rect x="319.38" y="242.3" width="29.76" height="4.95" fill="#0094ff"/>
<rect x="348.44" y="242.3" width="5.54" height="4.95" fill="#f8f500"/>
<rect x="353.28" y="242.3" width="5.54" height="4.95" fill="#a4ff53"/>
<rect x="358.12" y="242.3" width="10.39" height="4.95" fill="#0ff8e7"/>
<rect x="367.81" y="242.3" width="10.39" height="4.95" fill="#00d0ff"/>
<rect x="377.5" y="242.3" width="5.54" height="4.95" fill="#0094ff"/>
<rect x="382.34" y="242.3" width="5.54" height="4.95" fill="#00c4ff"/>
<rect x="387.19" y="242.3" width="5.54" height="4.95" fill="#19ffde"/>
<rect x="392.03" y="242.3" width="5.54" height="4.95" fill="#39ffbe"/>
<rect x="396.88" y="242.3" width="21.38" height="4.95" fill="#7dff7a"/>
<rect x="298" y="246.55" width="17.23" height="4.95" fill="#0000ad"/>
<rect x="314.53" y="246.55" width="5.54" height="4.95" fill="#0000da"/>
<rect x="319.38" y="246.55" width="5.54" height="4.95" fill="#0000ff"/>
<rect x="324.22" y="246.55" width="10.39" height="4.95" fill="#0038ff"/>
<rect x="333.91" y="246.55" width="5.54" height="4.95" fill="#004cff"/>
<rect x="338.75" y="246.55" width="10.39" height="4.95" fill="#00b0ff"/>
<rect x="348.44" y="246.55" width="5.54" height="4.95" fill="#29ffce"/>
<rect x="353.28" y="246.55" width="5.54" height="4.95" fill="#19ffde"/>
<rect x="358.12" y="246.55" width="5.54" height="4.95" fill="#00e4f8"/>
<rect x="362.97" y="246.55" width="10.39" height="4.95" fill="#00bcff"/>
<rect x="372.66" y="246.55" width="5.54" height="4.95" fill="#00dcfe"/>
<rect x="377.5" y="246.55" width="10.39" height="4.95" fill="#00e4f8"/>
<rect x="387.19" y="246.55" width="10.39" height="4.95" fill="#39ffbe"/>
<rect x="396.88" y="246.55" width="5.54" height="4.95" fill="#63ff94"/>
<rect x="401.72" y="246.55" width="16.53" height="4.95" fill="#8dff6a"/>
<rect x="298" y="250.81" width="22.07" height="4.95" fill="#00009f"/>
<rect x="319.38" y="250.81" width="10.39" height="4.95" fill="#0000cd"/>
<rect x="329.06" y="250.81" width="5.54" height="4.95" fill="#0000ff"/>
<rect x="333.91" y="250.81" width="5.54" height="4.95" fill="#0038ff"/>
<rect x="338.75" y="250.81" width="5.54" height="4.95" fill="#009cff"/>
<rect x="343.59" y="250.81" width="15.23" height="4.95" fill="#00e4f8"/>
<rect x="358.12" y="250.81" width="20.07" height="4.95" fill="#0ff8e7"/>
<rect x="377.5" y="250.81" width="20.07" height="4.95" fill="#39ffbe"/>
<rect x="396.88" y="250.81" width="5.54" height="4.95" fill="#6aff8d"/>
<rect x="401.72" y="250.81" width="16.53" height="4.95" fill="#a4ff53"/>
<rect x="298" y="255.06" width="31.76" height="4.95" fill="#00009f"/>
<rect x="329.06" y="255.06" width="5.54" height="4.95" fill="#0000c4"/>
<rect x="333.91" y="255.06" width="5.54" height="4.95" fill="#0000ff"/>
<rect x="338.75" y="255.06" width="5.54" height="4.95" fill="#002cff"/>
<rect x="343.59" y="255.06" width="5.54" height="4.95" fill="#00b0ff"/>
<rect x="348.44" y="255.06" width="10.39" height="4.95" fill="#00e4f8"/>
<rect x="358.12" y="255.06" width="20.07" height="4.95" fill="#19ffde"/>
<rect x="377.5" y="255.06" width="15.23" height="4.95" fill="#43ffb4"/>
<rect x="392.03" y="255.06" width="5.54" height="4.95" fill="#63ff94"/>
<rect x="396.88" y="255.06" width="10.39" height="4.95" fill="#7dff7a"/>
<rect x="406.56" y="255.06" width="5.54" height="4.95" fill="#ceff29"/>
<rect x="411.41" y="255.06" width="6.84" height="4.95" fill="#f8f500"/>
<rect x="298" y="259.31" width="41.45" height="4.95" fill="#00009f"/>
<rect x="338.75" y="259.31" width="5.54" height="4.95" fill="#0000c4"/>
<rect x="343.59" y="259.31" width="5.54" height="4.95" fill="#0004ff"/>
<rect x="348.44" y="259.31" width="5.54" height="4.95" fill="#00b0ff"/>
<rect x="353.28" y="259.31" width="5.54" height="4.95" fill="#09f0ee"/>
<rect x="358.12" y="259.31" width="15.23" height="4.95" fill="#19ffde"/>
<rect x="372.66" y="259.31" width="15.23" height="4.95" fill="#43ffb4"/>
<rect x="387.19" y="259.31" width="10.39" height="4.95" fill="#63ff94"/>
<rect x="396.88" y="259.31" width="5.54" height="4.95" fill="#7dff7a"/>
<rect x="401.72" y="259.31" width="5.54" height="4.95" fill="#a4ff53"/>
<rect x="406.56" y="259.31" width="5.54" height="4.95" fill="#ffc400"/>
<rect x="411.41" y="259.31" width="6.84" height="4.95" fill="#ff6800"/>
<rect x="298" y="263.57" width="41.45" height="4.95" fill="#00009f"/>
<rect x="338.75" y="263.57" width="5.54" height="4.95" fill="#0000c4"/>
<rect x="343.59" y="263.57" width="5.54" height="4.95" fill="#0004ff"/>
<rect x="348.44" y="263.57" width="5.54" height="4.95" fill="#00b0ff"/>
<rect x="353.28" y="263.57" width="5.54" height="4.95" fill="#09f0ee"/>
<rect x="358.12" y="263.57" width="10.39" height="4.95" fill="#39ffbe"/>
<rect x="367.81" y="263.57" width="15.23" height="4.95" fill="#63ff94"/>
<rect x="382.34" y="263.57" width="15.23" height="4.95" fill="#7dff7a"/>
<rect x="396.88" y="263.57" width="5.54" height="4.95" fill="#a4ff53"/>
<rect x="401.72" y="263.57" width="5.54" height="4.95" fill="#ceff29"/>
<rect x="406.56" y="263.57" width="5.54" height="4.95" fill="#ffe200"/>
<rect x="411.41" y="263.57" width="6.84" height="4.95" fill="#ff1a00"/>
<rect x="298" y="267.82" width="41.45" height="4.95" fill="#00009f"/>
<rect x="338.75" y="267.82" width="5.54" height="4.95" fill="#0000c4"/>
<rect x="343.59" y="267.82" width="5.54" height="4.95" fill="#0004ff"/>
<rect x="348.44" y="267.82" width="5.54" height="4.95" fill="#00b0ff"/>
<rect x="353.28" y="267.82" width="5.54" height="4.95" fill="#09f0ee"/>
<rect x="358.12" y="267.82" width="10.39" height="4.95" fill="#43ffb4"/>
<rect x="367.81" y="267.82" width="20.07" height="4.95" fill="#8dff6a"/>
<rect x="387.19" y="267.82" width="10.39" height="4.95" fill="#b4ff43"/>
<rect x="396.88" y="267.82" width="5.54" height="4.95" fill="#deff19"/>
<rect x="401.72" y="267.82" width="5.54" height="4.95" fill="#ffc400"/>
<rect x="406.56" y="267.82" width="5.54" height="4.95" fill="#ff7a00"/>
<rect x="411.41" y="267.82" width="6.84" height="4.95" fill="#ff3800"/>
<rect x="298" y="272.08" width="7.54" height="4.95" fill="#0000da"/>
<rect x="304.84" y="272.08" width="34.61" height="4.95" fill="#0000ad"/>
<rect x="338.75" y="272.08" width="5.54" height="4.95" fill="#0000ff"/>
<rect x="343.59" y="272.08" width="5.54" height="4.95" fill="#004cff"/>
<rect x="348.44" y="272.08" width="5.54" height="4.95" fill="#00b0ff"/>
<rect x="353.28" y="272.08" width="5.54" height="4.95" fill="#09f0ee"/>
<rect x="358.12" y="272.08" width="10.39" height="4.95" fill="#63ff94"/>
<rect x="367.81" y="272.08" width="10.39" height="4.95" fill="#a4ff53"/>
<rect x="377.5" y="272.08" width="15.23" height="4.95" fill="#ceff29"/>
<rect x="392.03" y="272.08" width="5.54" height="4.95" fill="#e7ff0f"/>
<rect x="396.88" y="272.08" width="5.54" height="4.95" fill="#ffe200"/>
<rect x="401.72" y="272.08" width="5.54" height="4.95" fill="#ffab00"/>
<rect x="406.56" y="272.08" width="5.54" height="4.95" fill="#ff6800"/>
<rect x="411.41" y="272.08" width="6.84" height="4.95" fill="#ff2500"/>
<rect x="298" y="276.33" width="7.54" height="4.96" fill="#0000da"/>
<rect x="304.84" y="276.33" width="34.61" height="4.96" fill="#0000ad"/>
<rect x="338.75" y="276.33" width="5.54" height="4.96" fill="#0000ff"/>
<rect x="343.59" y="276.33" width="5.54" height="4.96" fill="#004cff"/>
<rect x="348.44" y="276.33" width="5.54" height="4.96" fill="#00b0ff"/>
<rect x="353.28" y="276.33" width="5.54" height="4.96" fill="#19ffde"/>
<rect x="358.12" y="276.33" width="5.54" height="4.96" fill="#63ff94"/>
<rect x="362.97" y="276.33" width="10.39" height="4.96" fill="#a4ff53"/>
<rect x="372.66" y="276.33" width="20.07" height="4.96" fill="#deff19"/>
<rect x="392.03" y="276.33" width="5.54" height="4.96" fill="#feed00"/>
<rect x="396.88" y="276.33" width="5.54" height="4.96" fill="#ffc400"/>
<rect x="401.72" y="276.33" width="5.54" height="4.96" fill="#ff9400"/>
<rect x="406.56" y="276.33" width="5.54" height="4.96" fill="#ff5500"/>
<rect x="411.41" y="276.33" width="6.84" height="4.96" fill="#ff1a00"/>
<rect x="298" y="280.59" width="17.23" height="4.95" fill="#0000ff"/>
<rect x="314.53" y="280.59" width="15.23" height="4.95" fill="#0000da"/>
<rect x="329.06" y="280.59" width="15.23" height="4.95" fill="#0000c4"/>
<rect x="343.59" y="280.59" width="5.54" height="4.95" fill="#0000ff"/>
<rect x="348.44" y="280.59" width="5.54" height="4.95" fill="#00b0ff"/>
<rect x="353.28" y="280.59" width="5.54" height="4.95" fill="#0ff8e7"/>
<rect x="358.12" y="280.59" width="5.54" height="4.95" fill="#53ffa4"/>
<rect x="362.97" y="280.59" width="5.54" height="4.95" fill="#7dff7a"/>
<rect x="367.81" y="280.59" width="10.39" height="4.95" fill="#b4ff43"/>
<rect x="377.5" y="280.59" width="15.23" height="4.95" fill="#deff19"/>
<rect x="392.03" y="280.59" width="5.54" height="4.95" fill="#feed00"/>
<rect x="396.88" y="280.59" width="5.54" height="4.95" fill="#ffb200"/>
<rect x="401.72" y="280.59" width="5.54" height="4.95" fill="#ff7a00"/>
<rect x="406.56" y="280.59" width="5.54" height="4.95" fill="#ff3800"/>
<rect x="411.41" y="280.59" width="6.84" height="4.95" fill="#f10800"/>
<rect x="298" y="284.85" width="17.23" height="6.25" fill="#0000ff"/>
<rect x="314.53" y="284.85" width="15.23" height="6.25" fill="#0000da"/>
<rect x="329.06" y="284.85" width="15.23" height="6.25" fill="#0000c4"/>
<rect x="343.59" y="284.85" width="5.54" height="6.25" fill="#0000ff"/>
<rect x="348.44" y="284.85" width="5.54" height="6.25" fill="#00b0ff"/>
<rect x="353.28" y="284.85" width="5.54" height="6.25" fill="#0ff8e7"/>
<rect x="358.12" y="284.85" width="5.54" height="6.25" fill="#53ffa4"/>
<rect x="362.97" y="284.85" width="5.54" height="6.25" fill="#7dff7a"/>
<rect x="367.81" y="284.85" width="10.39" height="6.25" fill="#b4ff43"/>
<rect x="377.5" y="284.85" width="15.23" height="6.25" fill="#deff19"/>
<rect x="392.03" y="284.85" width="5.54" height="6.25" fill="#feed00"/>
<rect x="396.88" y="284.85" width="5.54" height="6.25" fill="#ffb200"/>
<rect x="401.72" y="284.85" width="5.54" height="6.25" fill="#ff7a00"/>
<rect x="406.56" y="284.85" width="5.54" height="6.25" fill="#ff3800"/>
<rect x="411.41" y="284.85" width="6.84" height="6.25" fill="#f10800"/>
</g></g>
<path d="M300 204L338.75 204L338.75 212.51L333.91 212.51L333.91 216.76L329.06 216.76L329.06 221.02L324.22 221.02L324.22 233.78L319.38 233.78L319.38 246.55L338.75 246.55L338.75 255.06L343.59 255.06L343.59 259.31L348.44 259.31L348.44 272.08L343.59 272.08L343.59 280.59L348.44 280.59L348.44 289.1L300 289.1ZM338.75 204L416.25 204L416.25 267.82L411.41 267.82L411.41 263.57L406.56 263.57L406.56 255.06L401.72 255.06L401.72 246.55L396.88 246.55L396.88 242.3L392.03 242.3L392.03 238.04L367.81 238.04L367.81 242.3L348.44 242.3L348.44 246.55L319.38 246.55L319.38 233.78L324.22 233.78L324.22 221.02L329.06 221.02L329.06 216.76L333.91 216.76L333.91 212.51L338.75 212.51ZM338.75 246.55L348.44 246.55L348.44 242.3L367.81 242.3L367.81 238.04L392.03 238.04L392.03 242.3L396.88 242.3L396.88 246.55L401.72 246.55L401.72 255.06L406.56 255.06L406.56 263.57L396.88 263.57L396.88 259.31L392.03 259.31L392.03 255.06L377.5 255.06L377.5 259.31L343.59 259.31L343.59 255.06L338.75 255.06ZM348.44 259.31L377.5 259.31L377.5 255.06L392.03 255.06L392.03 259.31L396.88 259.31L396.88 263.57L411.41 263.57L411.41 267.82L416.25 267.82L416.25 289.1L348.44 289.1L348.44 280.59L343.59 280.59L343.59 272.08L348.44 272.08Z" fill="none" stroke="#0a0a0a" stroke-width="1.35" stroke-linejoin="miter" clip-path="url(#c300_204)"/>
<rect x="300.45" y="204.45" width="115.35" height="84.2" fill="none" stroke="#07070f" stroke-width="0.95"/>
</g>
<rect x="417.8" y="204.2" width="5.4" height="84.7" fill="url(#jet)" stroke="#101028" stroke-opacity="0.55" stroke-width="0.4"/>
<text x="424.8" y="209.5" class="tk">1.00</text>
<text x="424.8" y="229.45" class="tk">0.75</text>
<text x="424.8" y="249.4" class="tk">0.50</text>
<text x="424.8" y="269.35" class="tk">0.25</text>
<text x="424.8" y="289.3" class="tk">0.00</text>
<text x="365.2" y="198.2" class="tt" text-anchor="middle">pCalvedAnimals</text>
<g>
<g clip-path="url(#c455_204)"><g filter="url(#soft)">
<rect x="453.6" y="202" width="120.25" height="89.1" fill="#004cff"/>
<rect x="453.6" y="202" width="17.23" height="6.95" fill="#9b0000"/>
<rect x="470.13" y="202" width="5.54" height="6.95" fill="#b60000"/>
<rect x="474.98" y="202" width="5.54" height="6.95" fill="#ff2500"/>
<rect x="479.82" y="202" width="5.54" height="6.95" fill="#ff9400"/>
<rect x="484.66" y="202" width="5.54" height="6.95" fill="#deff19"/>
<rect x="489.51" y="202" width="5.54" height="6.95" fill="#8dff6a"/>
<rect x="494.35" y="202" width="5.54" height="6.95" fill="#29ffce"/>
<rect x="499.19" y="202" width="5.54" height="6.95" fill="#00c4ff"/>
<rect x="504.04" y="202" width="5.54" height="6.95" fill="#0080ff"/>
<rect x="508.88" y="202" width="5.54" height="6.95" fill="#004cff"/>
<rect x="513.73" y="202" width="5.54" height="6.95" fill="#0008ff"/>
<rect x="518.57" y="202" width="15.23" height="6.95" fill="#0000ed"/>
<rect x="533.1" y="202" width="40.75" height="6.95" fill="#0000b6"/>
<rect x="453.6" y="208.25" width="22.07" height="4.95" fill="#9b0000"/>
<rect x="474.98" y="208.25" width="5.54" height="4.95" fill="#ff1a00"/>
<rect x="479.82" y="208.25" width="5.54" height="4.95" fill="#ff7a00"/>
<rect x="484.66" y="208.25" width="5.54" height="4.95" fill="#ffe200"/>
<rect x="489.51" y="208.25" width="5.54" height="4.95" fill="#a4ff53"/>
<rect x="494.35" y="208.25" width="5.54" height="4.95" fill="#39ffbe"/>
<rect x="499.19" y="208.25" width="5.54" height="4.95" fill="#00e4f8"/>
<rect x="504.04" y="208.25" width="5.54" height="4.95" fill="#0094ff"/>
<rect x="508.88" y="208.25" width="5.54" height="4.95" fill="#004cff"/>
<rect x="513.73" y="208.25" width="5.54" height="4.95" fill="#0060ff"/>
<rect x="518.57" y="208.25" width="5.54" height="4.95" fill="#0030ff"/>
<rect x="523.41" y="208.25" width="5.54" height="4.95" fill="#0000ff"/>
<rect x="528.26" y="208.25" width="29.76" height="4.95" fill="#0000cd"/>
<rect x="557.32" y="208.25" width="16.53" height="4.95" fill="#00009f"/>
<rect x="453.6" y="212.51" width="22.07" height="4.95" fill="#9b0000"/>
<rect x="474.98" y="212.51" width="5.54" height="4.95" fill="#f10800"/>
<rect x="479.82" y="212.51" width="5.54" height="4.95" fill="#ff5500"/>
<rect x="484.66" y="212.51" width="5.54" height="4.95" fill="#ffb200"/>
<rect x="489.51" y="212.51" width="5.54" height="4.95" fill="#ceff29"/>
<rect x="494.35" y="212.51" width="5.54" height="4.95" fill="#6aff8d"/>
<rect x="499.19" y="212.51" width="5.54" height="4.95" fill="#0ff8e7"/>
<rect x="504.04" y="212.51" width="5.54" height="4.95" fill="#009cff"/>
<rect x="508.88" y="212.51" width="5.54" height="4.95" fill="#0060ff"/>
<rect x="513.73" y="212.51" width="5.54" height="4.95" fill="#0068ff"/>
<rect x="518.57" y="212.51" width="5.54" height="4.95" fill="#0030ff"/>
<rect x="523.41" y="212.51" width="5.54" height="4.95" fill="#0000ff"/>
<rect x="528.26" y="212.51" width="29.76" height="4.95" fill="#0000cd"/>
<rect x="557.32" y="212.51" width="16.53" height="4.95" fill="#00009f"/>
<rect x="453.6" y="216.76" width="22.07" height="4.96" fill="#9b0000"/>
<rect x="474.98" y="216.76" width="5.54" height="4.96" fill="#cd0000"/>
<rect x="479.82" y="216.76" width="5.54" height="4.96" fill="#ff3800"/>
<rect x="484.66" y="216.76" width="5.54" height="4.96" fill="#ff9400"/>
<rect x="489.51" y="216.76" width="5.54" height="4.96" fill="#f8f500"/>
<rect x="494.35" y="216.76" width="5.54" height="4.96" fill="#a4ff53"/>
<rect x="499.19" y="216.76" width="5.54" height="4.96" fill="#39ffbe"/>
<rect x="504.04" y="216.76" width="5.54" height="4.96" fill="#00d0ff"/>
<rect x="508.88" y="216.76" width="5.54" height="4.96" fill="#0080ff"/>
<rect x="513.73" y="216.76" width="5.54" height="4.96" fill="#0074ff"/>
<rect x="518.57" y="216.76" width="5.54" height="4.96" fill="#0030ff"/>
<rect x="523.41" y="216.76" width="5.54" height="4.96" fill="#0000ff"/>
<rect x="528.26" y="216.76" width="29.76" height="4.96" fill="#0000cd"/>
<rect x="557.32" y="216.76" width="16.53" height="4.96" fill="#00009f"/>
<rect x="453.6" y="221.02" width="7.54" height="4.95" fill="#f10800"/>
<rect x="460.44" y="221.02" width="15.23" height="4.95" fill="#9f0000"/>
<rect x="474.98" y="221.02" width="5.54" height="4.95" fill="#b60000"/>
<rect x="479.82" y="221.02" width="5.54" height="4.95" fill="#ff2500"/>
<rect x="484.66" y="221.02" width="5.54" height="4.95" fill="#ff6800"/>
<rect x="489.51" y="221.02" width="5.54" height="4.95" fill="#ffb200"/>
<rect x="494.35" y="221.02" width="5.54" height="4.95" fill="#deff19"/>
<rect x="499.19" y="221.02" width="5.54" height="4.95" fill="#7dff7a"/>
<rect x="504.04" y="221.02" width="5.54" height="4.95" fill="#19ffde"/>
<rect x="508.88" y="221.02" width="5.54" height="4.95" fill="#009cff"/>
<rect x="513.73" y="221.02" width="5.54" height="4.95" fill="#0080ff"/>
<rect x="518.57" y="221.02" width="5.54" height="4.95" fill="#0030ff"/>
<rect x="523.41" y="221.02" width="5.54" height="4.95" fill="#0000ff"/>
<rect x="528.26" y="221.02" width="29.76" height="4.95" fill="#0000cd"/>
<rect x="557.32" y="221.02" width="16.53" height="4.95" fill="#00009f"/>
<rect x="453.6" y="225.28" width="7.54" height="4.95" fill="#ff5500"/>
<rect x="460.44" y="225.28" width="5.54" height="4.95" fill="#ff1a00"/>
<rect x="465.29" y="225.28" width="15.23" height="4.95" fill="#b60000"/>
<rect x="479.82" y="225.28" width="5.54" height="4.95" fill="#cd0000"/>
<rect x="484.66" y="225.28" width="5.54" height="4.95" fill="#ff2500"/>
<rect x="489.51" y="225.28" width="5.54" height="4.95" fill="#ff6800"/>
<rect x="494.35" y="225.28" width="5.54" height="4.95" fill="#ffc400"/>
<rect x="499.19" y="225.28" width="5.54" height="4.95" fill="#ceff29"/>
<rect x="504.04" y="225.28" width="5.54" height="4.95" fill="#43ffb4"/>
<rect x="508.88" y="225.28" width="5.54" height="4.95" fill="#00b0ff"/>
<rect x="513.73" y="225.28" width="5.54" height="4.95" fill="#0080ff"/>
<rect x="518.57" y="225.28" width="5.54" height="4.95" fill="#004cff"/>
<rect x="523.41" y="225.28" width="5.54" height="4.95" fill="#0008ff"/>
<rect x="528.26" y="225.28" width="10.39" height="4.95" fill="#0000cd"/>
<rect x="537.94" y="225.28" width="15.23" height="4.95" fill="#000096"/>
<rect x="552.48" y="225.28" width="15.23" height="4.95" fill="#0000cd"/>
<rect x="567.01" y="225.28" width="6.84" height="4.95" fill="#0000ad"/>
<rect x="453.6" y="229.53" width="7.54" height="4.95" fill="#ff9400"/>
<rect x="460.44" y="229.53" width="5.54" height="4.95" fill="#ff5500"/>
<rect x="465.29" y="229.53" width="5.54" height="4.95" fill="#ff1a00"/>
<rect x="470.13" y="229.53" width="20.07" height="4.95" fill="#b60000"/>
<rect x="489.51" y="229.53" width="5.54" height="4.95" fill="#ff1a00"/>
<rect x="494.35" y="229.53" width="5.54" height="4.95" fill="#ff5500"/>
<rect x="499.19" y="229.53" width="5.54" height="4.95" fill="#ffb200"/>
<rect x="504.04" y="229.53" width="5.54" height="4.95" fill="#a4ff53"/>
<rect x="508.88" y="229.53" width="5.54" height="4.95" fill="#00e4f8"/>
<rect x="513.73" y="229.53" width="5.54" height="4.95" fill="#0094ff"/>
<rect x="518.57" y="229.53" width="5.54" height="4.95" fill="#004cff"/>
<rect x="523.41" y="229.53" width="5.54" height="4.95" fill="#0008ff"/>
<rect x="528.26" y="229.53" width="10.39" height="4.95" fill="#0000cd"/>
<rect x="537.94" y="229.53" width="15.23" height="4.95" fill="#000096"/>
<rect x="552.48" y="229.53" width="15.23" height="4.95" fill="#0000cd"/>
<rect x="567.01" y="229.53" width="6.84" height="4.95" fill="#0000ad"/>
<rect x="453.6" y="233.78" width="7.54" height="4.95" fill="#ffe200"/>
<rect x="460.44" y="233.78" width="5.54" height="4.95" fill="#ff9400"/>
<rect x="465.29" y="233.78" width="5.54" height="4.95" fill="#ff5500"/>
<rect x="470.13" y="233.78" width="5.54" height="4.95" fill="#f10800"/>
<rect x="474.98" y="233.78" width="29.76" height="4.95" fill="#9f0000"/>
<rect x="504.04" y="233.78" width="5.54" height="4.95" fill="#ff6800"/>
<rect x="508.88" y="233.78" width="5.54" height="4.95" fill="#7dff7a"/>
<rect x="513.73" y="233.78" width="5.54" height="4.95" fill="#00d0ff"/>
<rect x="518.57" y="233.78" width="5.54" height="4.95" fill="#0080ff"/>
<rect x="523.41" y="233.78" width="5.54" height="4.95" fill="#0024ff"/>
<rect x="528.26" y="233.78" width="5.54" height="4.95" fill="#0000ed"/>
<rect x="533.1" y="233.78" width="20.08" height="4.95" fill="#000096"/>
<rect x="552.48" y="233.78" width="10.39" height="4.95" fill="#0000fa"/>
<rect x="562.16" y="233.78" width="11.69" height="4.95" fill="#0000b6"/>
<rect x="453.6" y="238.04" width="7.54" height="4.96" fill="#ceff29"/>
<rect x="460.44" y="238.04" width="5.54" height="4.96" fill="#ffe200"/>
<rect x="465.29" y="238.04" width="5.54" height="4.96" fill="#ff9400"/>
<rect x="470.13" y="238.04" width="5.54" height="4.96" fill="#ff2500"/>
<rect x="474.98" y="238.04" width="29.76" height="4.96" fill="#9b0000"/>
<rect x="504.04" y="238.04" width="5.54" height="4.96" fill="#f10800"/>
<rect x="508.88" y="238.04" width="5.54" height="4.96" fill="#ffd700"/>
<rect x="513.73" y="238.04" width="5.54" height="4.96" fill="#63ff94"/>
<rect x="518.57" y="238.04" width="5.54" height="4.96" fill="#00e4f8"/>
<rect x="523.41" y="238.04" width="5.54" height="4.96" fill="#0060ff"/>
<rect x="528.26" y="238.04" width="5.54" height="4.96" fill="#0008ff"/>
<rect x="533.1" y="238.04" width="15.23" height="4.96" fill="#00009f"/>
<rect x="547.63" y="238.04" width="5.54" height="4.96" fill="#0000b6"/>
<rect x="552.48" y="238.04" width="10.39" height="4.96" fill="#0008ff"/>
<rect x="562.16" y="238.04" width="11.69" height="4.96" fill="#0000b6"/>
<rect x="453.6" y="242.3" width="7.54" height="4.95" fill="#7dff7a"/>
<rect x="460.44" y="242.3" width="5.54" height="4.95" fill="#ceff29"/>
<rect x="465.29" y="242.3" width="5.54" height="4.95" fill="#ffc400"/>
<rect x="470.13" y="242.3" width="5.54" height="4.95" fill="#ff5500"/>
<rect x="474.98" y="242.3" width="29.76" height="4.95" fill="#9b0000"/>
<rect x="504.04" y="242.3" width="5.54" height="4.95" fill="#b60000"/>
<rect x="508.88" y="242.3" width="5.54" height="4.95" fill="#ff9400"/>
<rect x="513.73" y="242.3" width="5.54" height="4.95" fill="#ceff29"/>
<rect x="518.57" y="242.3" width="5.54" height="4.95" fill="#39ffbe"/>
<rect x="523.41" y="242.3" width="5.54" height="4.95" fill="#0094ff"/>
<rect x="528.26" y="242.3" width="5.54" height="4.95" fill="#0024ff"/>
<rect x="533.1" y="242.3" width="20.08" height="4.95" fill="#00009f"/>
<rect x="552.48" y="242.3" width="10.39" height="4.95" fill="#0000fa"/>
<rect x="562.16" y="242.3" width="5.54" height="4.95" fill="#0000ed"/>
<rect x="567.01" y="242.3" width="6.84" height="4.95" fill="#0000b6"/>
<rect x="453.6" y="246.55" width="7.54" height="4.95" fill="#19ffde"/>
<rect x="460.44" y="246.55" width="5.54" height="4.95" fill="#6aff8d"/>
<rect x="465.29" y="246.55" width="5.54" height="4.95" fill="#ceff29"/>
<rect x="470.13" y="246.55" width="5.54" height="4.95" fill="#ffb200"/>
<rect x="474.98" y="246.55" width="5.54" height="4.95" fill="#ff2500"/>
<rect x="479.82" y="246.55" width="29.76" height="4.95" fill="#9f0000"/>
<rect x="508.88" y="246.55" width="5.54" height="4.95" fill="#ff7a00"/>
<rect x="513.73" y="246.55" width="5.54" height="4.95" fill="#deff19"/>
<rect x="518.57" y="246.55" width="5.54" height="4.95" fill="#53ffa4"/>
<rect x="523.41" y="246.55" width="5.54" height="4.95" fill="#009cff"/>
<rect x="528.26" y="246.55" width="5.54" height="4.95" fill="#0030ff"/>
<rect x="533.1" y="246.55" width="24.92" height="4.95" fill="#0000ad"/>
<rect x="557.32" y="246.55" width="10.39" height="4.95" fill="#0000ed"/>
<rect x="567.01" y="246.55" width="6.84" height="4.95" fill="#0000b6"/>
<rect x="453.6" y="250.81" width="7.54" height="4.95" fill="#009cff"/>
<rect x="460.44" y="250.81" width="5.54" height="4.95" fill="#0ff8e7"/>
<rect x="465.29" y="250.81" width="5.54" height="4.95" fill="#6aff8d"/>
<rect x="470.13" y="250.81" width="5.54" height="4.95" fill="#deff19"/>
<rect x="474.98" y="250.81" width="5.54" height="4.95" fill="#ff7a00"/>
<rect x="479.82" y="250.81" width="5.54" height="4.95" fill="#f10800"/>
<rect x="484.66" y="250.81" width="24.92" height="4.95" fill="#9f0000"/>
<rect x="508.88" y="250.81" width="5.54" height="4.95" fill="#ff6800"/>
<rect x="513.73" y="250.81" width="5.54" height="4.95" fill="#e7ff0f"/>
<rect x="518.57" y="250.81" width="5.54" height="4.95" fill="#63ff94"/>
<rect x="523.41" y="250.81" width="5.54" height="4.95" fill="#00b0ff"/>
<rect x="528.26" y="250.81" width="5.54" height="4.95" fill="#004cff"/>
<rect x="533.1" y="250.81" width="5.54" height="4.95" fill="#0000ed"/>
<rect x="537.94" y="250.81" width="20.08" height="4.95" fill="#00009f"/>
<rect x="557.32" y="250.81" width="16.53" height="4.95" fill="#0000c4"/>
<rect x="453.6" y="255.06" width="7.54" height="4.95" fill="#0030ff"/>
<rect x="460.44" y="255.06" width="5.54" height="4.95" fill="#0094ff"/>
<rect x="465.29" y="255.06" width="5.54" height="4.95" fill="#0ff8e7"/>
<rect x="470.13" y="255.06" width="5.54" height="4.95" fill="#7dff7a"/>
<rect x="474.98" y="255.06" width="5.54" height="4.95" fill="#f8f500"/>
<rect x="479.82" y="255.06" width="5.54" height="4.95" fill="#ff5500"/>
<rect x="484.66" y="255.06" width="15.23" height="4.95" fill="#9f0000"/>
<rect x="499.19" y="255.06" width="10.39" height="4.95" fill="#cd0000"/>
<rect x="508.88" y="255.06" width="5.54" height="4.95" fill="#ff5500"/>
<rect x="513.73" y="255.06" width="5.54" height="4.95" fill="#deff19"/>
<rect x="518.57" y="255.06" width="5.54" height="4.95" fill="#53ffa4"/>
<rect x="523.41" y="255.06" width="5.54" height="4.95" fill="#00b0ff"/>
<rect x="528.26" y="255.06" width="5.54" height="4.95" fill="#0060ff"/>
<rect x="533.1" y="255.06" width="5.54" height="4.95" fill="#0008ff"/>
<rect x="537.94" y="255.06" width="10.39" height="4.95" fill="#0000cd"/>
<rect x="547.63" y="255.06" width="15.23" height="4.95" fill="#00009f"/>
<rect x="562.16" y="255.06" width="11.69" height="4.95" fill="#0000b6"/>
<rect x="453.6" y="259.31" width="7.54" height="4.95" fill="#0000ed"/>
<rect x="460.44" y="259.31" width="5.54" height="4.95" fill="#0030ff"/>
<rect x="465.29" y="259.31" width="5.54" height="4.95" fill="#0094ff"/>
<rect x="470.13" y="259.31" width="5.54" height="4.95" fill="#19ffde"/>
<rect x="474.98" y="259.31" width="5.54" height="4.95" fill="#94ff63"/>
<rect x="479.82" y="259.31" width="5.54" height="4.95" fill="#ffb200"/>
<rect x="484.66" y="259.31" width="5.54" height="4.95" fill="#f10800"/>
<rect x="489.51" y="259.31" width="15.23" height="4.95" fill="#9f0000"/>
<rect x="504.04" y="259.31" width="5.54" height="4.95" fill="#ff3800"/>
<rect x="508.88" y="259.31" width="5.54" height="4.95" fill="#ff9400"/>
<rect x="513.73" y="259.31" width="5.54" height="4.95" fill="#deff19"/>
<rect x="518.57" y="259.31" width="5.54" height="4.95" fill="#53ffa4"/>
<rect x="523.41" y="259.31" width="5.54" height="4.95" fill="#00b0ff"/>
<rect x="528.26" y="259.31" width="5.54" height="4.95" fill="#0060ff"/>
<rect x="533.1" y="259.31" width="5.54" height="4.95" fill="#0008ff"/>
<rect x="537.94" y="259.31" width="15.23" height="4.95" fill="#0000cd"/>
<rect x="552.48" y="259.31" width="10.39" height="4.95" fill="#00009f"/>
<rect x="562.16" y="259.31" width="11.69" height="4.95" fill="#0000cd"/>
<rect x="453.6" y="263.57" width="7.54" height="4.95" fill="#0000cd"/>
<rect x="460.44" y="263.57" width="5.54" height="4.95" fill="#0000fa"/>
<rect x="465.29" y="263.57" width="5.54" height="4.95" fill="#004cff"/>
<rect x="470.13" y="263.57" width="5.54" height="4.95" fill="#009cff"/>
<rect x="474.98" y="263.57" width="5.54" height="4.95" fill="#29ffce"/>
<rect x="479.82" y="263.57" width="5.54" height="4.95" fill="#b4ff43"/>
<rect x="484.66" y="263.57" width="5.54" height="4.95" fill="#ff7a00"/>
<rect x="489.51" y="263.57" width="10.39" height="4.95" fill="#b60000"/>
<rect x="499.19" y="263.57" width="5.54" height="4.95" fill="#f10800"/>
<rect x="504.04" y="263.57" width="5.54" height="4.95" fill="#ff9400"/>
<rect x="508.88" y="263.57" width="5.54" height="4.95" fill="#f8f500"/>
<rect x="513.73" y="263.57" width="5.54" height="4.95" fill="#a4ff53"/>
<rect x="518.57" y="263.57" width="5.54" height="4.95" fill="#29ffce"/>
<rect x="523.41" y="263.57" width="5.54" height="4.95" fill="#009cff"/>
<rect x="528.26" y="263.57" width="5.54" height="4.95" fill="#004cff"/>
<rect x="533.1" y="263.57" width="5.54" height="4.95" fill="#0008ff"/>
<rect x="537.94" y="263.57" width="24.92" height="4.95" fill="#0000cd"/>
<rect x="562.16" y="263.57" width="5.54" height="4.95" fill="#0000ed"/>
<rect x="567.01" y="263.57" width="6.84" height="4.95" fill="#29ffce"/>
<rect x="453.6" y="267.82" width="12.39" height="4.95" fill="#0000cd"/>
<rect x="465.29" y="267.82" width="5.54" height="4.95" fill="#0000fa"/>
<rect x="470.13" y="267.82" width="5.54" height="4.95" fill="#004cff"/>
<rect x="474.98" y="267.82" width="5.54" height="4.95" fill="#009cff"/>
<rect x="479.82" y="267.82" width="5.54" height="4.95" fill="#29ffce"/>
<rect x="484.66" y="267.82" width="5.54" height="4.95" fill="#ceff29"/>
<rect x="489.51" y="267.82" width="5.54" height="4.95" fill="#ff6800"/>
<rect x="494.35" y="267.82" width="5.54" height="4.95" fill="#ff1a00"/>
<rect x="499.19" y="267.82" width="5.54" height="4.95" fill="#ff9400"/>
<rect x="504.04" y="267.82" width="5.54" height="4.95" fill="#ceff29"/>
<rect x="508.88" y="267.82" width="5.54" height="4.95" fill="#8dff6a"/>
<rect x="513.73" y="267.82" width="5.54" height="4.95" fill="#43ffb4"/>
<rect x="518.57" y="267.82" width="5.54" height="4.95" fill="#09f0ee"/>
<rect x="523.41" y="267.82" width="5.54" height="4.95" fill="#0094ff"/>
<rect x="528.26" y="267.82" width="5.54" height="4.95" fill="#004cff"/>
<rect x="533.1" y="267.82" width="5.54" height="4.95" fill="#0008ff"/>
<rect x="537.94" y="267.82" width="20.08" height="4.95" fill="#0000cd"/>
<rect x="557.32" y="267.82" width="5.54" height="4.95" fill="#0008ff"/>
<rect x="562.16" y="267.82" width="5.54" height="4.95" fill="#0094ff"/>
<rect x="567.01" y="267.82" width="6.84" height="4.95" fill="#ff1a00"/>
<rect x="453.6" y="272.08" width="17.23" height="4.95" fill="#0000cd"/>
<rect x="470.13" y="272.08" width="5.54" height="4.95" fill="#0000fa"/>
<rect x="474.98" y="272.08" width="5.54" height="4.95" fill="#004cff"/>
<rect x="479.82" y="272.08" width="5.54" height="4.95" fill="#009cff"/>
<rect x="484.66" y="272.08" width="5.54" height="4.95" fill="#19ffde"/>
<rect x="489.51" y="272.08" width="5.54" height="4.95" fill="#a4ff53"/>
<rect x="494.35" y="272.08" width="5.54" height="4.95" fill="#e7ff0f"/>
<rect x="499.19" y="272.08" width="5.54" height="4.95" fill="#7dff7a"/>
<rect x="504.04" y="272.08" width="5.54" height="4.95" fill="#29ffce"/>
<rect x="508.88" y="272.08" width="5.54" height="4.95" fill="#0ff8e7"/>
<rect x="513.73" y="272.08" width="5.54" height="4.95" fill="#00e4f8"/>
<rect x="518.57" y="272.08" width="5.54" height="4.95" fill="#00b0ff"/>
<rect x="523.41" y="272.08" width="5.54" height="4.95" fill="#0080ff"/>
<rect x="528.26" y="272.08" width="5.54" height="4.95" fill="#0030ff"/>
<rect x="533.1" y="272.08" width="5.54" height="4.95" fill="#0000ff"/>
<rect x="537.94" y="272.08" width="20.08" height="4.95" fill="#0000cd"/>
<rect x="557.32" y="272.08" width="5.54" height="4.95" fill="#0008ff"/>
<rect x="562.16" y="272.08" width="5.54" height="4.95" fill="#0080ff"/>
<rect x="567.01" y="272.08" width="6.84" height="4.95" fill="#39ffbe"/>
<rect x="453.6" y="276.33" width="22.07" height="4.96" fill="#0000b6"/>
<rect x="474.98" y="276.33" width="5.54" height="4.96" fill="#0000ed"/>
<rect x="479.82" y="276.33" width="5.54" height="4.96" fill="#0024ff"/>
<rect x="484.66" y="276.33" width="5.54" height="4.96" fill="#0068ff"/>
<rect x="489.51" y="276.33" width="5.54" height="4.96" fill="#00b0ff"/>
<rect x="494.35" y="276.33" width="5.54" height="4.96" fill="#00e4f8"/>
<rect x="499.19" y="276.33" width="5.54" height="4.96" fill="#00b0ff"/>
<rect x="504.04" y="276.33" width="10.39" height="4.96" fill="#0094ff"/>
<rect x="513.73" y="276.33" width="10.39" height="4.96" fill="#0080ff"/>
<rect x="523.41" y="276.33" width="5.54" height="4.96" fill="#004cff"/>
<rect x="528.26" y="276.33" width="5.54" height="4.96" fill="#0008ff"/>
<rect x="533.1" y="276.33" width="24.92" height="4.96" fill="#0000cd"/>
<rect x="557.32" y="276.33" width="10.39" height="4.96" fill="#0008ff"/>
<rect x="567.01" y="276.33" width="6.84" height="4.96" fill="#0080ff"/>
<rect x="453.6" y="280.59" width="31.76" height="4.95" fill="#00009f"/>
<rect x="484.66" y="280.59" width="20.07" height="4.95" fill="#0000ff"/>
<rect x="504.04" y="280.59" width="24.92" height="4.95" fill="#0024ff"/>
<rect x="528.26" y="280.59" width="45.59" height="4.95" fill="#0000cd"/>
<rect x="453.6" y="284.85" width="41.45" height="6.25" fill="#000096"/>
<rect x="494.35" y="284.85" width="53.98" height="6.25" fill="#0000cd"/>
<rect x="547.63" y="284.85" width="26.22" height="6.25" fill="#0000ad"/>
</g></g>
<path d="M455.6 204L494.35 204L494.35 212.51L489.51 212.51L489.51 216.76L484.66 216.76L484.66 221.02L479.82 221.02L479.82 233.78L474.98 233.78L474.98 246.55L494.35 246.55L494.35 255.06L499.19 255.06L499.19 259.31L504.04 259.31L504.04 272.08L499.19 272.08L499.19 280.59L504.04 280.59L504.04 289.1L455.6 289.1ZM494.35 204L571.85 204L571.85 267.82L567.01 267.82L567.01 263.57L562.16 263.57L562.16 255.06L557.32 255.06L557.32 246.55L552.48 246.55L552.48 242.3L547.63 242.3L547.63 238.04L523.41 238.04L523.41 242.3L504.04 242.3L504.04 246.55L474.98 246.55L474.98 233.78L479.82 233.78L479.82 221.02L484.66 221.02L484.66 216.76L489.51 216.76L489.51 212.51L494.35 212.51ZM494.35 246.55L504.04 246.55L504.04 242.3L523.41 242.3L523.41 238.04L547.63 238.04L547.63 242.3L552.48 242.3L552.48 246.55L557.32 246.55L557.32 255.06L562.16 255.06L562.16 263.57L552.48 263.57L552.48 259.31L547.63 259.31L547.63 255.06L533.1 255.06L533.1 259.31L499.19 259.31L499.19 255.06L494.35 255.06ZM504.04 259.31L533.1 259.31L533.1 255.06L547.63 255.06L547.63 259.31L552.48 259.31L552.48 263.57L567.01 263.57L567.01 267.82L571.85 267.82L571.85 289.1L504.04 289.1L504.04 280.59L499.19 280.59L499.19 272.08L504.04 272.08Z" fill="none" stroke="#0a0a0a" stroke-width="1.35" stroke-linejoin="miter" clip-path="url(#c455_204)"/>
<rect x="456.05" y="204.45" width="115.35" height="84.2" fill="none" stroke="#07070f" stroke-width="0.95"/>
</g>
<rect x="573.4" y="204.2" width="5.4" height="84.7" fill="url(#jet)" stroke="#101028" stroke-opacity="0.55" stroke-width="0.4"/>
<text x="580.4" y="209.5" class="tk">1.00</text>
<text x="580.4" y="229.45" class="tk">0.75</text>
<text x="580.4" y="249.4" class="tk">0.50</text>
<text x="580.4" y="269.35" class="tk">0.25</text>
<text x="580.4" y="289.3" class="tk">0.00</text>
<text x="518.7" y="198.2" class="tt" text-anchor="middle">pOutMovesToSL</text>
<g clip-path="url(#r356)">
<rect x="19.35" y="356.2" width="116.65" height="85.1" fill="#d4686a"/>
<path d="M19.35 364.71L29.07 364.71L29.07 368.96L33.93 368.96L33.93 373.22L38.79 373.22L38.79 377.47L48.51 377.47L48.51 381.73L63.09 381.73L63.09 390.24L58.23 390.24L58.23 394.5L53.37 394.5L53.37 403L58.23 403L58.23 407.26L63.09 407.26L63.09 424.28L48.51 424.28L48.51 420.02L43.65 420.02L43.65 415.77L33.93 415.77L33.93 411.51L19.35 411.51Z" fill="#de63de" stroke="#161616" stroke-width="1.3" stroke-linejoin="miter"/>
<path d="M19.35 411.51L33.93 411.51L33.93 415.77L43.65 415.77L43.65 420.02L48.51 420.02L48.51 424.28L63.09 424.28L63.09 428.53L67.95 428.53L67.95 441.3L19.35 441.3Z" fill="#fdd978" stroke="#161616" stroke-width="1.3" stroke-linejoin="miter"/>
<path d="M63.09 385.99L72.81 385.99L72.81 381.73L87.4 381.73L87.4 385.99L101.98 385.99L101.98 390.24L106.84 390.24L106.84 394.5L111.7 394.5L111.7 398.75L116.56 398.75L116.56 407.26L121.42 407.26L121.42 415.77L111.7 415.77L111.7 411.51L106.84 411.51L106.84 407.26L101.98 407.26L101.98 403L53.37 403L53.37 394.5L58.23 394.5L58.23 390.24L63.09 390.24Z" fill="#9cc566" stroke="#161616" stroke-width="1.3" stroke-linejoin="miter"/>
<path d="M58.23 403L101.98 403L101.98 407.26L106.84 407.26L106.84 411.51L111.7 411.51L111.7 415.77L121.42 415.77L121.42 420.02L126.28 420.02L126.28 428.53L131.14 428.53L131.14 432.79L136 432.79L136 441.3L67.95 441.3L67.95 428.53L63.09 428.53L63.09 407.26L58.23 407.26Z" fill="#6a9fcc" stroke="#161616" stroke-width="1.3" stroke-linejoin="miter"/>
<rect x="19.9" y="356.75" width="115.55" height="84" fill="none" stroke="#1d3144" stroke-width="1.1"/>
</g>
<g>
<g clip-path="url(#c147_356)"><g filter="url(#soft)">
<rect x="145.7" y="354.3" width="120.25" height="89.1" fill="#003cff"/>
<rect x="145.7" y="354.3" width="7.54" height="6.95" fill="#0018ff"/>
<rect x="152.54" y="354.3" width="34.61" height="6.95" fill="#0000cd"/>
<rect x="186.45" y="354.3" width="5.54" height="6.95" fill="#0000b6"/>
<rect x="191.29" y="354.3" width="44.29" height="6.95" fill="#0000bb"/>
<rect x="234.89" y="354.3" width="31.06" height="6.95" fill="#0000b6"/>
<rect x="145.7" y="360.56" width="41.45" height="4.95" fill="#000096"/>
<rect x="186.45" y="360.56" width="10.39" height="4.95" fill="#000080"/>
<rect x="196.14" y="360.56" width="29.76" height="4.95" fill="#000084"/>
<rect x="225.2" y="360.56" width="40.75" height="4.95" fill="#000080"/>
<rect x="145.7" y="364.81" width="12.39" height="4.95" fill="#00009f"/>
<rect x="157.39" y="364.81" width="29.76" height="4.95" fill="#000096"/>
<rect x="186.45" y="364.81" width="5.54" height="4.95" fill="#000080"/>
<rect x="191.29" y="364.81" width="5.54" height="4.95" fill="#000084"/>
<rect x="196.14" y="364.81" width="5.54" height="4.95" fill="#000089"/>
<rect x="200.98" y="364.81" width="10.39" height="4.95" fill="#00008d"/>
<rect x="210.67" y="364.81" width="5.54" height="4.95" fill="#000092"/>
<rect x="215.51" y="364.81" width="5.54" height="4.95" fill="#00008d"/>
<rect x="220.36" y="364.81" width="5.54" height="4.95" fill="#000089"/>
<rect x="225.2" y="364.81" width="10.39" height="4.95" fill="#000084"/>
<rect x="234.89" y="364.81" width="31.06" height="4.95" fill="#000080"/>
<rect x="145.7" y="369.06" width="17.23" height="4.95" fill="#00009f"/>
<rect x="162.23" y="369.06" width="24.92" height="4.95" fill="#000096"/>
<rect x="186.45" y="369.06" width="5.54" height="4.95" fill="#000089"/>
<rect x="191.29" y="369.06" width="5.54" height="4.95" fill="#00008d"/>
<rect x="196.14" y="369.06" width="5.54" height="4.95" fill="#00009b"/>
<rect x="200.98" y="369.06" width="5.54" height="4.95" fill="#0000a4"/>
<rect x="205.82" y="369.06" width="5.54" height="4.95" fill="#0000a8"/>
<rect x="210.67" y="369.06" width="5.54" height="4.95" fill="#0000ad"/>
<rect x="215.51" y="369.06" width="5.54" height="4.95" fill="#0000a8"/>
<rect x="220.36" y="369.06" width="5.54" height="4.95" fill="#00009b"/>
<rect x="225.2" y="369.06" width="5.54" height="4.95" fill="#000092"/>
<rect x="230.04" y="369.06" width="5.54" height="4.95" fill="#00008d"/>
<rect x="234.89" y="369.06" width="5.54" height="4.95" fill="#000089"/>
<rect x="239.73" y="369.06" width="5.54" height="4.95" fill="#000084"/>
<rect x="244.57" y="369.06" width="21.38" height="4.95" fill="#000080"/>
<rect x="145.7" y="373.32" width="22.07" height="4.95" fill="#00009f"/>
<rect x="167.07" y="373.32" width="24.92" height="4.95" fill="#000096"/>
<rect x="191.29" y="373.32" width="5.54" height="4.95" fill="#0000a4"/>
<rect x="196.14" y="373.32" width="5.54" height="4.95" fill="#0000c8"/>
<rect x="200.98" y="373.32" width="5.54" height="4.95" fill="#0000e3"/>
<rect x="205.82" y="373.32" width="5.54" height="4.95" fill="#0000f1"/>
<rect x="210.67" y="373.32" width="5.54" height="4.95" fill="#0000fa"/>
<rect x="215.51" y="373.32" width="5.54" height="4.95" fill="#0000e3"/>
<rect x="220.36" y="373.32" width="5.54" height="4.95" fill="#0000b6"/>
<rect x="225.2" y="373.32" width="5.54" height="4.95" fill="#0000ad"/>
<rect x="230.04" y="373.32" width="5.54" height="4.95" fill="#0000a4"/>
<rect x="234.89" y="373.32" width="5.54" height="4.95" fill="#000092"/>
<rect x="239.73" y="373.32" width="5.54" height="4.95" fill="#000089"/>
<rect x="244.57" y="373.32" width="5.54" height="4.95" fill="#000084"/>
<rect x="249.42" y="373.32" width="16.53" height="4.95" fill="#000080"/>
<rect x="145.7" y="377.57" width="31.76" height="4.96" fill="#00009f"/>
<rect x="176.76" y="377.57" width="10.39" height="4.96" fill="#000096"/>
<rect x="186.45" y="377.57" width="5.54" height="4.96" fill="#0000b6"/>
<rect x="191.29" y="377.57" width="5.54" height="4.96" fill="#0000cd"/>
<rect x="196.14" y="377.57" width="5.54" height="4.96" fill="#000cff"/>
<rect x="200.98" y="377.57" width="5.54" height="4.96" fill="#006cff"/>
<rect x="205.82" y="377.57" width="5.54" height="4.96" fill="#0084ff"/>
<rect x="210.67" y="377.57" width="5.54" height="4.96" fill="#009cff"/>
<rect x="215.51" y="377.57" width="5.54" height="4.96" fill="#0044ff"/>
<rect x="220.36" y="377.57" width="5.54" height="4.96" fill="#0000ff"/>
<rect x="225.2" y="377.57" width="5.54" height="4.96" fill="#0000fa"/>
<rect x="230.04" y="377.57" width="5.54" height="4.96" fill="#0000da"/>
<rect x="234.89" y="377.57" width="5.54" height="4.96" fill="#0000ad"/>
<rect x="239.73" y="377.57" width="5.54" height="4.96" fill="#000092"/>
<rect x="244.57" y="377.57" width="5.54" height="4.96" fill="#000089"/>
<rect x="249.42" y="377.57" width="16.53" height="4.96" fill="#000080"/>
<rect x="145.7" y="381.83" width="26.92" height="4.95" fill="#00009f"/>
<rect x="171.92" y="381.83" width="5.54" height="4.95" fill="#0000b6"/>
<rect x="176.76" y="381.83" width="5.54" height="4.95" fill="#0000f1"/>
<rect x="181.61" y="381.83" width="5.54" height="4.95" fill="#0018ff"/>
<rect x="186.45" y="381.83" width="5.54" height="4.95" fill="#0060ff"/>
<rect x="191.29" y="381.83" width="5.54" height="4.95" fill="#0038ff"/>
<rect x="196.14" y="381.83" width="5.54" height="4.95" fill="#0050ff"/>
<rect x="200.98" y="381.83" width="15.23" height="4.95" fill="#19ffde"/>
<rect x="215.51" y="381.83" width="10.39" height="4.95" fill="#00a4ff"/>
<rect x="225.2" y="381.83" width="5.54" height="4.95" fill="#009cff"/>
<rect x="230.04" y="381.83" width="5.54" height="4.95" fill="#0030ff"/>
<rect x="234.89" y="381.83" width="5.54" height="4.95" fill="#0000d1"/>
<rect x="239.73" y="381.83" width="5.54" height="4.95" fill="#0000a8"/>
<rect x="244.57" y="381.83" width="5.54" height="4.95" fill="#00008d"/>
<rect x="249.42" y="381.83" width="5.54" height="4.95" fill="#000084"/>
<rect x="254.26" y="381.83" width="11.69" height="4.95" fill="#000080"/>
<rect x="145.7" y="386.09" width="22.07" height="4.95" fill="#00009f"/>
<rect x="167.07" y="386.09" width="5.54" height="4.95" fill="#0000cd"/>
<rect x="171.92" y="386.09" width="5.54" height="4.95" fill="#0004ff"/>
<rect x="176.76" y="386.09" width="5.54" height="4.95" fill="#004cff"/>
<rect x="181.61" y="386.09" width="5.54" height="4.95" fill="#0094ff"/>
<rect x="186.45" y="386.09" width="5.54" height="4.95" fill="#00d0ff"/>
<rect x="191.29" y="386.09" width="15.23" height="4.95" fill="#19ffde"/>
<rect x="205.82" y="386.09" width="10.39" height="4.95" fill="#39ffbe"/>
<rect x="215.51" y="386.09" width="15.23" height="4.95" fill="#0ff8e7"/>
<rect x="230.04" y="386.09" width="5.54" height="4.95" fill="#0084ff"/>
<rect x="234.89" y="386.09" width="5.54" height="4.95" fill="#0020ff"/>
<rect x="239.73" y="386.09" width="5.54" height="4.95" fill="#0000c8"/>
<rect x="244.57" y="386.09" width="5.54" height="4.95" fill="#0000a4"/>
<rect x="249.42" y="386.09" width="5.54" height="4.95" fill="#00008d"/>
<rect x="254.26" y="386.09" width="5.54" height="4.95" fill="#000084"/>
<rect x="259.11" y="386.09" width="6.84" height="4.95" fill="#000080"/>
<rect x="145.7" y="390.34" width="17.23" height="4.95" fill="#00009f"/>
<rect x="162.23" y="390.34" width="5.54" height="4.95" fill="#0000f1"/>
<rect x="167.07" y="390.34" width="5.54" height="4.95" fill="#002cff"/>
<rect x="171.92" y="390.34" width="5.54" height="4.95" fill="#0080ff"/>
<rect x="176.76" y="390.34" width="5.54" height="4.95" fill="#00d0ff"/>
<rect x="181.61" y="390.34" width="5.54" height="4.95" fill="#39ffbe"/>
<rect x="186.45" y="390.34" width="5.54" height="4.95" fill="#53ffa4"/>
<rect x="191.29" y="390.34" width="15.23" height="4.95" fill="#7dff7a"/>
<rect x="205.82" y="390.34" width="20.07" height="4.95" fill="#94ff63"/>
<rect x="225.2" y="390.34" width="5.54" height="4.95" fill="#63ff94"/>
<rect x="230.04" y="390.34" width="5.54" height="4.95" fill="#19ffde"/>
<rect x="234.89" y="390.34" width="5.54" height="4.95" fill="#006cff"/>
<rect x="239.73" y="390.34" width="5.54" height="4.95" fill="#000cff"/>
<rect x="244.57" y="390.34" width="5.54" height="4.95" fill="#0000bf"/>
<rect x="249.42" y="390.34" width="5.54" height="4.95" fill="#00009f"/>
<rect x="254.26" y="390.34" width="5.54" height="4.95" fill="#00008d"/>
<rect x="259.11" y="390.34" width="6.84" height="4.95" fill="#000084"/>
<rect x="145.7" y="394.6" width="17.23" height="4.95" fill="#0000ad"/>
<rect x="162.23" y="394.6" width="5.54" height="4.95" fill="#0000ff"/>
<rect x="167.07" y="394.6" width="5.54" height="4.95" fill="#0060ff"/>
<rect x="171.92" y="394.6" width="5.54" height="4.95" fill="#00d0ff"/>
<rect x="176.76" y="394.6" width="5.54" height="4.95" fill="#63ff94"/>
<rect x="181.61" y="394.6" width="5.54" height="4.95" fill="#7dff7a"/>
<rect x="186.45" y="394.6" width="20.07" height="4.95" fill="#b4ff43"/>
<rect x="205.82" y="394.6" width="20.07" height="4.95" fill="#ceff29"/>
<rect x="225.2" y="394.6" width="5.54" height="4.95" fill="#a4ff53"/>
<rect x="230.04" y="394.6" width="5.54" height="4.95" fill="#6aff8d"/>
<rect x="234.89" y="394.6" width="5.54" height="4.95" fill="#19ffde"/>
<rect x="239.73" y="394.6" width="5.54" height="4.95" fill="#0050ff"/>
<rect x="244.57" y="394.6" width="5.54" height="4.95" fill="#0000ff"/>
<rect x="249.42" y="394.6" width="5.54" height="4.95" fill="#0000b6"/>
<rect x="254.26" y="394.6" width="5.54" height="4.95" fill="#000092"/>
<rect x="259.11" y="394.6" width="6.84" height="4.95" fill="#000084"/>
<rect x="145.7" y="398.85" width="12.39" height="4.95" fill="#00009f"/>
<rect x="157.39" y="398.85" width="5.54" height="4.95" fill="#0000da"/>
<rect x="162.23" y="398.85" width="5.54" height="4.95" fill="#0018ff"/>
<rect x="167.07" y="398.85" width="5.54" height="4.95" fill="#0094ff"/>
<rect x="171.92" y="398.85" width="5.54" height="4.95" fill="#29ffce"/>
<rect x="176.76" y="398.85" width="10.39" height="4.95" fill="#ceff29"/>
<rect x="186.45" y="398.85" width="15.23" height="4.95" fill="#e7ff0f"/>
<rect x="200.98" y="398.85" width="5.54" height="4.95" fill="#19ffde"/>
<rect x="205.82" y="398.85" width="20.07" height="4.95" fill="#e7ff0f"/>
<rect x="225.2" y="398.85" width="5.54" height="4.95" fill="#ceff29"/>
<rect x="230.04" y="398.85" width="5.54" height="4.95" fill="#94ff63"/>
<rect x="234.89" y="398.85" width="5.54" height="4.95" fill="#43ffb4"/>
<rect x="239.73" y="398.85" width="5.54" height="4.95" fill="#19ffde"/>
<rect x="244.57" y="398.85" width="5.54" height="4.95" fill="#0038ff"/>
<rect x="249.42" y="398.85" width="5.54" height="4.95" fill="#0000c4"/>
<rect x="254.26" y="398.85" width="5.54" height="4.95" fill="#00009b"/>
<rect x="259.11" y="398.85" width="6.84" height="4.95" fill="#000089"/>
<rect x="145.7" y="403.11" width="12.39" height="4.95" fill="#00009f"/>
<rect x="157.39" y="403.11" width="5.54" height="4.95" fill="#0000f1"/>
<rect x="162.23" y="403.11" width="5.54" height="4.95" fill="#0038ff"/>
<rect x="167.07" y="403.11" width="5.54" height="4.95" fill="#00b0ff"/>
<rect x="171.92" y="403.11" width="5.54" height="4.95" fill="#63ff94"/>
<rect x="176.76" y="403.11" width="5.54" height="4.95" fill="#ffc400"/>
<rect x="181.61" y="403.11" width="5.54" height="4.95" fill="#ff6800"/>
<rect x="186.45" y="403.11" width="24.92" height="4.95" fill="#ff7a00"/>
<rect x="210.67" y="403.11" width="20.07" height="4.95" fill="#ffb200"/>
<rect x="230.04" y="403.11" width="5.54" height="4.95" fill="#deff19"/>
<rect x="234.89" y="403.11" width="5.54" height="4.95" fill="#7dff7a"/>
<rect x="239.73" y="403.11" width="5.54" height="4.95" fill="#39ffbe"/>
<rect x="244.57" y="403.11" width="5.54" height="4.95" fill="#0038ff"/>
<rect x="249.42" y="403.11" width="5.54" height="4.95" fill="#0000fa"/>
<rect x="254.26" y="403.11" width="5.54" height="4.95" fill="#0000b2"/>
<rect x="259.11" y="403.11" width="6.84" height="4.95" fill="#000092"/>
<rect x="145.7" y="407.36" width="12.39" height="4.95" fill="#00009f"/>
<rect x="157.39" y="407.36" width="5.54" height="4.95" fill="#0000f1"/>
<rect x="162.23" y="407.36" width="5.54" height="4.95" fill="#0038ff"/>
<rect x="167.07" y="407.36" width="5.54" height="4.95" fill="#00d0ff"/>
<rect x="171.92" y="407.36" width="5.54" height="4.95" fill="#8dff6a"/>
<rect x="176.76" y="407.36" width="5.54" height="4.95" fill="#ff7a00"/>
<rect x="181.61" y="407.36" width="5.54" height="4.95" fill="#f10800"/>
<rect x="186.45" y="407.36" width="5.54" height="4.95" fill="#ff2500"/>
<rect x="191.29" y="407.36" width="24.92" height="4.95" fill="#ff5500"/>
<rect x="215.51" y="407.36" width="20.07" height="4.95" fill="#ff9400"/>
<rect x="234.89" y="407.36" width="5.54" height="4.95" fill="#deff19"/>
<rect x="239.73" y="407.36" width="5.54" height="4.95" fill="#7dff7a"/>
<rect x="244.57" y="407.36" width="5.54" height="4.95" fill="#29ffce"/>
<rect x="249.42" y="407.36" width="5.54" height="4.95" fill="#0020ff"/>
<rect x="254.26" y="407.36" width="5.54" height="4.95" fill="#0000bf"/>
<rect x="259.11" y="407.36" width="6.84" height="4.95" fill="#000096"/>
<rect x="145.7" y="411.62" width="17.23" height="4.95" fill="#0000ad"/>
<rect x="162.23" y="411.62" width="5.54" height="4.95" fill="#004cff"/>
<rect x="167.07" y="411.62" width="5.54" height="4.95" fill="#00d0ff"/>
<rect x="171.92" y="411.62" width="5.54" height="4.95" fill="#a4ff53"/>
<rect x="176.76" y="411.62" width="5.54" height="4.95" fill="#ff6800"/>
<rect x="181.61" y="411.62" width="5.54" height="4.95" fill="#b60000"/>
<rect x="186.45" y="411.62" width="5.54" height="4.95" fill="#f10800"/>
<rect x="191.29" y="411.62" width="5.54" height="4.95" fill="#ff6800"/>
<rect x="196.14" y="411.62" width="10.39" height="4.95" fill="#ff3800"/>
<rect x="205.82" y="411.62" width="15.23" height="4.95" fill="#ff2500"/>
<rect x="220.36" y="411.62" width="20.07" height="4.95" fill="#ff7a00"/>
<rect x="239.73" y="411.62" width="5.54" height="4.95" fill="#f8f500"/>
<rect x="244.57" y="411.62" width="5.54" height="4.95" fill="#6aff8d"/>
<rect x="249.42" y="411.62" width="5.54" height="4.95" fill="#0020ff"/>
<rect x="254.26" y="411.62" width="5.54" height="4.95" fill="#0000bf"/>
<rect x="259.11" y="411.62" width="6.84" height="4.95" fill="#000096"/>
<rect x="145.7" y="415.87" width="12.39" height="4.95" fill="#0000ad"/>
<rect x="157.39" y="415.87" width="5.54" height="4.95" fill="#0000f1"/>
<rect x="162.23" y="415.87" width="5.54" height="4.95" fill="#004cff"/>
<rect x="167.07" y="415.87" width="5.54" height="4.95" fill="#00c4ff"/>
<rect x="171.92" y="415.87" width="5.54" height="4.95" fill="#ceff29"/>
<rect x="176.76" y="415.87" width="5.54" height="4.95" fill="#ff6800"/>
<rect x="181.61" y="415.87" width="5.54" height="4.95" fill="#cd0000"/>
<rect x="186.45" y="415.87" width="5.54" height="4.95" fill="#ff1a00"/>
<rect x="191.29" y="415.87" width="5.54" height="4.95" fill="#ff6800"/>
<rect x="196.14" y="415.87" width="10.39" height="4.95" fill="#ff2500"/>
<rect x="205.82" y="415.87" width="20.07" height="4.95" fill="#f10800"/>
<rect x="225.2" y="415.87" width="15.23" height="4.95" fill="#ff5500"/>
<rect x="239.73" y="415.87" width="10.39" height="4.95" fill="#ff9400"/>
<rect x="249.42" y="415.87" width="5.54" height="4.95" fill="#0020ff"/>
<rect x="254.26" y="415.87" width="5.54" height="4.95" fill="#0000ed"/>
<rect x="259.11" y="415.87" width="6.84" height="4.95" fill="#0000ad"/>
<rect x="145.7" y="420.12" width="12.39" height="4.95" fill="#0000ad"/>
<rect x="157.39" y="420.12" width="5.54" height="4.95" fill="#0000ff"/>
<rect x="162.23" y="420.12" width="5.54" height="4.95" fill="#0060ff"/>
<rect x="167.07" y="420.12" width="5.54" height="4.95" fill="#00e4f8"/>
<rect x="171.92" y="420.12" width="5.54" height="4.95" fill="#8dff6a"/>
<rect x="176.76" y="420.12" width="5.54" height="4.95" fill="#ffb200"/>
<rect x="181.61" y="420.12" width="5.54" height="4.95" fill="#ff3800"/>
<rect x="186.45" y="420.12" width="5.54" height="4.95" fill="#ff5500"/>
<rect x="191.29" y="420.12" width="15.23" height="4.95" fill="#ff2500"/>
<rect x="205.82" y="420.12" width="24.92" height="4.95" fill="#cd0000"/>
<rect x="230.04" y="420.12" width="15.23" height="4.95" fill="#ff3800"/>
<rect x="244.57" y="420.12" width="5.54" height="4.95" fill="#ff7a00"/>
<rect x="249.42" y="420.12" width="5.54" height="4.95" fill="#ffd700"/>
<rect x="254.26" y="420.12" width="5.54" height="4.95" fill="#0010ff"/>
<rect x="259.11" y="420.12" width="6.84" height="4.95" fill="#0000bb"/>
<rect x="145.7" y="424.38" width="12.39" height="4.95" fill="#0000ad"/>
<rect x="157.39" y="424.38" width="5.54" height="4.95" fill="#0000ff"/>
<rect x="162.23" y="424.38" width="5.54" height="4.95" fill="#0068ff"/>
<rect x="167.07" y="424.38" width="5.54" height="4.95" fill="#09f0ee"/>
<rect x="171.92" y="424.38" width="5.54" height="4.95" fill="#8dff6a"/>
<rect x="176.76" y="424.38" width="5.54" height="4.95" fill="#ffc400"/>
<rect x="181.61" y="424.38" width="5.54" height="4.95" fill="#ff6800"/>
<rect x="186.45" y="424.38" width="5.54" height="4.95" fill="#ff2500"/>
<rect x="191.29" y="424.38" width="5.54" height="4.95" fill="#ff6800"/>
<rect x="196.14" y="424.38" width="10.39" height="4.95" fill="#f10800"/>
<rect x="205.82" y="424.38" width="29.76" height="4.95" fill="#b60000"/>
<rect x="234.89" y="424.38" width="10.39" height="4.95" fill="#ff2500"/>
<rect x="244.57" y="424.38" width="5.54" height="4.95" fill="#ff5500"/>
<rect x="249.42" y="424.38" width="5.54" height="4.95" fill="#ffb200"/>
<rect x="254.26" y="424.38" width="5.54" height="4.95" fill="#0010ff"/>
<rect x="259.11" y="424.38" width="6.84" height="4.95" fill="#0000e3"/>
<rect x="145.7" y="428.63" width="12.39" height="4.95" fill="#0000ad"/>
<rect x="157.39" y="428.63" width="5.54" height="4.95" fill="#0000ff"/>
<rect x="162.23" y="428.63" width="5.54" height="4.95" fill="#0080ff"/>
<rect x="167.07" y="428.63" width="5.54" height="4.95" fill="#0ff8e7"/>
<rect x="171.92" y="428.63" width="5.54" height="4.95" fill="#8dff6a"/>
<rect x="176.76" y="428.63" width="5.54" height="4.95" fill="#ffc400"/>
<rect x="181.61" y="428.63" width="5.54" height="4.95" fill="#ff5500"/>
<rect x="186.45" y="428.63" width="5.54" height="4.95" fill="#f10800"/>
<rect x="191.29" y="428.63" width="5.54" height="4.95" fill="#ff6800"/>
<rect x="196.14" y="428.63" width="10.39" height="4.95" fill="#ff1a00"/>
<rect x="205.82" y="428.63" width="34.61" height="4.95" fill="#b60000"/>
<rect x="239.73" y="428.63" width="10.39" height="4.95" fill="#ff1a00"/>
<rect x="249.42" y="428.63" width="5.54" height="4.95" fill="#ff5500"/>
<rect x="254.26" y="428.63" width="5.54" height="4.95" fill="#ceff29"/>
<rect x="259.11" y="428.63" width="6.84" height="4.95" fill="#00d0ff"/>
<rect x="145.7" y="432.89" width="12.39" height="4.95" fill="#0000ad"/>
<rect x="157.39" y="432.89" width="5.54" height="4.95" fill="#0000ff"/>
<rect x="162.23" y="432.89" width="5.54" height="4.95" fill="#0080ff"/>
<rect x="167.07" y="432.89" width="5.54" height="4.95" fill="#00e4f8"/>
<rect x="171.92" y="432.89" width="5.54" height="4.95" fill="#7dff7a"/>
<rect x="176.76" y="432.89" width="5.54" height="4.95" fill="#ffd700"/>
<rect x="181.61" y="432.89" width="5.54" height="4.95" fill="#ff3800"/>
<rect x="186.45" y="432.89" width="5.54" height="4.95" fill="#cd0000"/>
<rect x="191.29" y="432.89" width="5.54" height="4.95" fill="#ff1a00"/>
<rect x="196.14" y="432.89" width="5.54" height="4.95" fill="#ff6800"/>
<rect x="200.98" y="432.89" width="5.54" height="4.95" fill="#ff1a00"/>
<rect x="205.82" y="432.89" width="39.45" height="4.95" fill="#cd0000"/>
<rect x="244.57" y="432.89" width="10.39" height="4.95" fill="#ff2500"/>
<rect x="254.26" y="432.89" width="5.54" height="4.95" fill="#ff6800"/>
<rect x="259.11" y="432.89" width="6.84" height="4.95" fill="#ffc400"/>
<rect x="145.7" y="437.14" width="12.39" height="6.25" fill="#0000ad"/>
<rect x="157.39" y="437.14" width="5.54" height="6.25" fill="#0000ff"/>
<rect x="162.23" y="437.14" width="5.54" height="6.25" fill="#0080ff"/>
<rect x="167.07" y="437.14" width="5.54" height="6.25" fill="#00e4f8"/>
<rect x="171.92" y="437.14" width="5.54" height="6.25" fill="#7dff7a"/>
<rect x="176.76" y="437.14" width="5.54" height="6.25" fill="#ffd700"/>
<rect x="181.61" y="437.14" width="5.54" height="6.25" fill="#ff3800"/>
<rect x="186.45" y="437.14" width="5.54" height="6.25" fill="#cd0000"/>
<rect x="191.29" y="437.14" width="5.54" height="6.25" fill="#ff1a00"/>
<rect x="196.14" y="437.14" width="5.54" height="6.25" fill="#ff6800"/>
<rect x="200.98" y="437.14" width="5.54" height="6.25" fill="#ff1a00"/>
<rect x="205.82" y="437.14" width="39.45" height="6.25" fill="#da0000"/>
<rect x="244.57" y="437.14" width="21.38" height="6.25" fill="#ff2d00"/>
</g></g>
<path d="M147.7 356.3L263.95 356.3L263.95 432.89L259.11 432.89L259.11 428.63L254.26 428.63L254.26 420.12L249.42 420.12L249.42 407.36L244.57 407.36L244.57 398.85L239.73 398.85L239.73 394.6L234.89 394.6L234.89 390.34L230.04 390.34L230.04 386.09L215.51 386.09L215.51 381.83L200.98 381.83L200.98 386.09L191.29 386.09L191.29 381.83L176.76 381.83L176.76 377.57L167.07 377.57L167.07 373.32L162.23 373.32L162.23 369.06L157.39 369.06L157.39 364.81L147.7 364.81ZM147.7 364.81L157.39 364.81L157.39 369.06L162.23 369.06L162.23 373.32L167.07 373.32L167.07 377.57L176.76 377.57L176.76 381.83L191.29 381.83L191.29 390.34L186.45 390.34L186.45 394.6L181.61 394.6L181.61 403.11L186.45 403.11L186.45 407.36L191.29 407.36L191.29 424.38L176.76 424.38L176.76 420.12L171.92 420.12L171.92 415.87L162.23 415.87L162.23 411.62L147.7 411.62ZM147.7 411.62L162.23 411.62L162.23 415.87L171.92 415.87L171.92 420.12L176.76 420.12L176.76 424.38L191.29 424.38L191.29 428.63L196.14 428.63L196.14 441.4L147.7 441.4ZM191.29 386.09L200.98 386.09L200.98 381.83L215.51 381.83L215.51 386.09L230.04 386.09L230.04 390.34L234.89 390.34L234.89 394.6L239.73 394.6L239.73 398.85L244.57 398.85L244.57 407.36L249.42 407.36L249.42 415.87L239.73 415.87L239.73 411.62L234.89 411.62L234.89 407.36L230.04 407.36L230.04 403.11L181.61 403.11L181.61 394.6L186.45 394.6L186.45 390.34L191.29 390.34ZM186.45 403.11L230.04 403.11L230.04 407.36L234.89 407.36L234.89 411.62L239.73 411.62L239.73 415.87L249.42 415.87L249.42 420.12L254.26 420.12L254.26 428.63L259.11 428.63L259.11 432.89L263.95 432.89L263.95 441.4L196.14 441.4L196.14 428.63L191.29 428.63L191.29 407.36L186.45 407.36Z" fill="none" stroke="#0a0a0a" stroke-width="1.35" stroke-linejoin="miter" clip-path="url(#c147_356)"/>
<rect x="148.15" y="356.75" width="115.35" height="84.2" fill="none" stroke="#07070f" stroke-width="0.95"/>
</g>
<rect x="265.5" y="356.5" width="5.4" height="84.7" fill="url(#jet)" stroke="#101028" stroke-opacity="0.55" stroke-width="0.4"/>
<text x="272.5" y="363.1" class="tk">1.00</text>
<text x="272.5" y="383.05" class="tk">0.75</text>
<text x="272.5" y="403" class="tk">0.50</text>
<text x="272.5" y="422.95" class="tk">0.25</text>
<text x="272.5" y="442.9" class="tk">0.00</text>
<text x="212.05" y="351.2" class="tt" text-anchor="middle">pDairyBreed</text>
<g>
<g clip-path="url(#c300_356)"><g filter="url(#soft)">
<rect x="298" y="354.3" width="120.25" height="89.1" fill="#00e4f8"/>
<rect x="298" y="354.3" width="12.39" height="6.95" fill="#0054ff"/>
<rect x="309.69" y="354.3" width="10.39" height="6.95" fill="#0088ff"/>
<rect x="319.38" y="354.3" width="10.39" height="6.95" fill="#00a8ff"/>
<rect x="329.06" y="354.3" width="5.54" height="6.95" fill="#deff19"/>
<rect x="333.91" y="354.3" width="44.29" height="6.95" fill="#09f0ee"/>
<rect x="377.5" y="354.3" width="5.54" height="6.95" fill="#00a8ff"/>
<rect x="382.34" y="354.3" width="15.23" height="6.95" fill="#0ff8e7"/>
<rect x="396.88" y="354.3" width="21.38" height="6.95" fill="#43ffb4"/>
<rect x="298" y="360.56" width="7.54" height="4.95" fill="#0040ff"/>
<rect x="304.84" y="360.56" width="10.39" height="4.95" fill="#0074ff"/>
<rect x="314.53" y="360.56" width="20.07" height="4.95" fill="#00b0ff"/>
<rect x="333.91" y="360.56" width="24.92" height="4.95" fill="#09f0ee"/>
<rect x="358.12" y="360.56" width="15.23" height="4.95" fill="#0ff8e7"/>
<rect x="372.66" y="360.56" width="10.39" height="4.95" fill="#00dcfe"/>
<rect x="382.34" y="360.56" width="5.54" height="4.95" fill="#19ffde"/>
<rect x="387.19" y="360.56" width="5.54" height="4.95" fill="#30ffc7"/>
<rect x="392.03" y="360.56" width="5.54" height="4.95" fill="#43ffb4"/>
<rect x="396.88" y="360.56" width="5.54" height="4.95" fill="#53ffa4"/>
<rect x="401.72" y="360.56" width="16.53" height="4.95" fill="#63ff94"/>
<rect x="298" y="364.81" width="7.54" height="4.95" fill="#0018ff"/>
<rect x="304.84" y="364.81" width="5.54" height="4.95" fill="#002cff"/>
<rect x="309.69" y="364.81" width="5.54" height="4.95" fill="#0068ff"/>
<rect x="314.53" y="364.81" width="15.23" height="4.95" fill="#009cff"/>
<rect x="329.06" y="364.81" width="15.23" height="4.95" fill="#00dcfe"/>
<rect x="343.59" y="364.81" width="29.76" height="4.95" fill="#0ff8e7"/>
<rect x="372.66" y="364.81" width="10.39" height="4.95" fill="#00dcfe"/>
<rect x="382.34" y="364.81" width="5.54" height="4.95" fill="#19ffde"/>
<rect x="387.19" y="364.81" width="5.54" height="4.95" fill="#30ffc7"/>
<rect x="392.03" y="364.81" width="5.54" height="4.95" fill="#43ffb4"/>
<rect x="396.88" y="364.81" width="5.54" height="4.95" fill="#53ffa4"/>
<rect x="401.72" y="364.81" width="16.53" height="4.95" fill="#63ff94"/>
<rect x="298" y="369.06" width="7.54" height="4.95" fill="#0000f1"/>
<rect x="304.84" y="369.06" width="5.54" height="4.95" fill="#0004ff"/>
<rect x="309.69" y="369.06" width="5.54" height="4.95" fill="#002cff"/>
<rect x="314.53" y="369.06" width="5.54" height="4.95" fill="#0054ff"/>
<rect x="319.38" y="369.06" width="15.23" height="4.95" fill="#009cff"/>
<rect x="333.91" y="369.06" width="29.76" height="4.95" fill="#00e4f8"/>
<rect x="362.97" y="369.06" width="15.23" height="4.95" fill="#00bcff"/>
<rect x="377.5" y="369.06" width="5.54" height="4.95" fill="#00dcfe"/>
<rect x="382.34" y="369.06" width="5.54" height="4.95" fill="#0ff8e7"/>
<rect x="387.19" y="369.06" width="5.54" height="4.95" fill="#30ffc7"/>
<rect x="392.03" y="369.06" width="5.54" height="4.95" fill="#49ffad"/>
<rect x="396.88" y="369.06" width="5.54" height="4.95" fill="#5aff9d"/>
<rect x="401.72" y="369.06" width="16.53" height="4.95" fill="#6aff8d"/>
<rect x="298" y="373.32" width="7.54" height="4.95" fill="#0000b6"/>
<rect x="304.84" y="373.32" width="5.54" height="4.95" fill="#0000da"/>
<rect x="309.69" y="373.32" width="5.54" height="4.95" fill="#0000ff"/>
<rect x="314.53" y="373.32" width="5.54" height="4.95" fill="#002cff"/>
<rect x="319.38" y="373.32" width="10.39" height="4.95" fill="#0068ff"/>
<rect x="329.06" y="373.32" width="15.23" height="4.95" fill="#00a8ff"/>
<rect x="343.59" y="373.32" width="15.23" height="4.95" fill="#00dcfe"/>
<rect x="358.12" y="373.32" width="5.54" height="4.95" fill="#00b0ff"/>
<rect x="362.97" y="373.32" width="5.54" height="4.95" fill="#0088ff"/>
<rect x="367.81" y="373.32" width="5.54" height="4.95" fill="#0068ff"/>
<rect x="372.66" y="373.32" width="5.54" height="4.95" fill="#009cff"/>
<rect x="377.5" y="373.32" width="5.54" height="4.95" fill="#00d0ff"/>
<rect x="382.34" y="373.32" width="5.54" height="4.95" fill="#19ffde"/>
<rect x="387.19" y="373.32" width="5.54" height="4.95" fill="#39ffbe"/>
<rect x="392.03" y="373.32" width="5.54" height="4.95" fill="#53ffa4"/>
<rect x="396.88" y="373.32" width="5.54" height="4.95" fill="#63ff94"/>
<rect x="401.72" y="373.32" width="16.53" height="4.95" fill="#6aff8d"/>
<rect x="298" y="377.57" width="12.39" height="4.96" fill="#0000ad"/>
<rect x="309.69" y="377.57" width="5.54" height="4.96" fill="#0000cd"/>
<rect x="314.53" y="377.57" width="5.54" height="4.96" fill="#0000f1"/>
<rect x="319.38" y="377.57" width="5.54" height="4.96" fill="#0018ff"/>
<rect x="324.22" y="377.57" width="5.54" height="4.96" fill="#0038ff"/>
<rect x="329.06" y="377.57" width="10.39" height="4.96" fill="#0074ff"/>
<rect x="338.75" y="377.57" width="10.39" height="4.96" fill="#009cff"/>
<rect x="348.44" y="377.57" width="10.39" height="4.96" fill="#00bcff"/>
<rect x="358.12" y="377.57" width="10.39" height="4.96" fill="#009cff"/>
<rect x="367.81" y="377.57" width="10.39" height="4.96" fill="#0088ff"/>
<rect x="377.5" y="377.57" width="5.54" height="4.96" fill="#00b0ff"/>
<rect x="382.34" y="377.57" width="5.54" height="4.96" fill="#09f0ee"/>
<rect x="387.19" y="377.57" width="5.54" height="4.96" fill="#30ffc7"/>
<rect x="392.03" y="377.57" width="5.54" height="4.96" fill="#53ffa4"/>
<rect x="396.88" y="377.57" width="5.54" height="4.96" fill="#63ff94"/>
<rect x="401.72" y="377.57" width="16.53" height="4.96" fill="#6aff8d"/>
<rect x="298" y="381.83" width="17.23" height="4.95" fill="#00009f"/>
<rect x="314.53" y="381.83" width="5.54" height="4.95" fill="#0000c4"/>
<rect x="319.38" y="381.83" width="5.54" height="4.95" fill="#0000f1"/>
<rect x="324.22" y="381.83" width="5.54" height="4.95" fill="#0004ff"/>
<rect x="329.06" y="381.83" width="15.23" height="4.95" fill="#0038ff"/>
<rect x="343.59" y="381.83" width="10.39" height="4.95" fill="#009cff"/>
<rect x="353.28" y="381.83" width="15.23" height="4.95" fill="#00dcfe"/>
<rect x="367.81" y="381.83" width="15.23" height="4.95" fill="#009cff"/>
<rect x="382.34" y="381.83" width="5.54" height="4.95" fill="#00e4f8"/>
<rect x="387.19" y="381.83" width="5.54" height="4.95" fill="#30ffc7"/>
<rect x="392.03" y="381.83" width="5.54" height="4.95" fill="#53ffa4"/>
<rect x="396.88" y="381.83" width="5.54" height="4.95" fill="#63ff94"/>
<rect x="401.72" y="381.83" width="16.53" height="4.95" fill="#6aff8d"/>
<rect x="298" y="386.09" width="22.07" height="4.95" fill="#00009f"/>
<rect x="319.38" y="386.09" width="5.54" height="4.95" fill="#0000c4"/>
<rect x="324.22" y="386.09" width="5.54" height="4.95" fill="#0000f1"/>
<rect x="329.06" y="386.09" width="5.54" height="4.95" fill="#0004ff"/>
<rect x="333.91" y="386.09" width="10.39" height="4.95" fill="#0038ff"/>
<rect x="343.59" y="386.09" width="5.54" height="4.95" fill="#0094ff"/>
<rect x="348.44" y="386.09" width="10.39" height="4.95" fill="#00d0ff"/>
<rect x="358.12" y="386.09" width="10.39" height="4.95" fill="#00e4f8"/>
<rect x="367.81" y="386.09" width="15.23" height="4.95" fill="#00b0ff"/>
<rect x="382.34" y="386.09" width="5.54" height="4.95" fill="#09f0ee"/>
<rect x="387.19" y="386.09" width="5.54" height="4.95" fill="#39ffbe"/>
<rect x="392.03" y="386.09" width="5.54" height="4.95" fill="#53ffa4"/>
<rect x="396.88" y="386.09" width="5.54" height="4.95" fill="#63ff94"/>
<rect x="401.72" y="386.09" width="16.53" height="4.95" fill="#6aff8d"/>
<rect x="298" y="390.34" width="26.92" height="4.95" fill="#00009f"/>
<rect x="324.22" y="390.34" width="5.54" height="4.95" fill="#0000c4"/>
<rect x="329.06" y="390.34" width="5.54" height="4.95" fill="#0000f1"/>
<rect x="333.91" y="390.34" width="5.54" height="4.95" fill="#002cff"/>
<rect x="338.75" y="390.34" width="5.54" height="4.95" fill="#0080ff"/>
<rect x="343.59" y="390.34" width="5.54" height="4.95" fill="#00b0ff"/>
<rect x="348.44" y="390.34" width="10.39" height="4.95" fill="#00e4f8"/>
<rect x="358.12" y="390.34" width="15.23" height="4.95" fill="#0ff8e7"/>
<rect x="372.66" y="390.34" width="10.39" height="4.95" fill="#00c4ff"/>
<rect x="382.34" y="390.34" width="5.54" height="4.95" fill="#00e4f8"/>
<rect x="387.19" y="390.34" width="5.54" height="4.95" fill="#39ffbe"/>
<rect x="392.03" y="390.34" width="5.54" height="4.95" fill="#53ffa4"/>
<rect x="396.88" y="390.34" width="5.54" height="4.95" fill="#63ff94"/>
<rect x="401.72" y="390.34" width="16.53" height="4.95" fill="#6aff8d"/>
<rect x="298" y="394.6" width="31.76" height="4.95" fill="#00009f"/>
<rect x="329.06" y="394.6" width="5.54" height="4.95" fill="#0000f1"/>
<rect x="333.91" y="394.6" width="5.54" height="4.95" fill="#0060ff"/>
<rect x="338.75" y="394.6" width="5.54" height="4.95" fill="#0094ff"/>
<rect x="343.59" y="394.6" width="5.54" height="4.95" fill="#00d0ff"/>
<rect x="348.44" y="394.6" width="5.54" height="4.95" fill="#29ffce"/>
<rect x="353.28" y="394.6" width="5.54" height="4.95" fill="#7dff7a"/>
<rect x="358.12" y="394.6" width="5.54" height="4.95" fill="#53ffa4"/>
<rect x="362.97" y="394.6" width="15.23" height="4.95" fill="#19ffde"/>
<rect x="377.5" y="394.6" width="10.39" height="4.95" fill="#00e4f8"/>
<rect x="387.19" y="394.6" width="5.54" height="4.95" fill="#29ffce"/>
<rect x="392.03" y="394.6" width="5.54" height="4.95" fill="#56ffa0"/>
<rect x="396.88" y="394.6" width="5.54" height="4.95" fill="#6aff8d"/>
<rect x="401.72" y="394.6" width="16.53" height="4.95" fill="#6dff8a"/>
<rect x="298" y="398.85" width="31.76" height="4.95" fill="#00009f"/>
<rect x="329.06" y="398.85" width="5.54" height="4.95" fill="#0000f1"/>
<rect x="333.91" y="398.85" width="5.54" height="4.95" fill="#0068ff"/>
<rect x="338.75" y="398.85" width="5.54" height="4.95" fill="#00b0ff"/>
<rect x="343.59" y="398.85" width="5.54" height="4.95" fill="#00e4f8"/>
<rect x="348.44" y="398.85" width="5.54" height="4.95" fill="#53ffa4"/>
<rect x="353.28" y="398.85" width="5.54" height="4.95" fill="#ff5500"/>
<rect x="358.12" y="398.85" width="5.54" height="4.95" fill="#ceff29"/>
<rect x="362.97" y="398.85" width="5.54" height="4.95" fill="#39ffbe"/>
<rect x="367.81" y="398.85" width="20.07" height="4.95" fill="#19ffde"/>
<rect x="387.19" y="398.85" width="5.54" height="4.95" fill="#39ffbe"/>
<rect x="392.03" y="398.85" width="5.54" height="4.95" fill="#53ffa4"/>
<rect x="396.88" y="398.85" width="5.54" height="4.95" fill="#6dff8a"/>
<rect x="401.72" y="398.85" width="16.53" height="4.95" fill="#70ff87"/>
<rect x="298" y="403.11" width="36.61" height="4.95" fill="#00009f"/>
<rect x="333.91" y="403.11" width="5.54" height="4.95" fill="#0000f1"/>
<rect x="338.75" y="403.11" width="5.54" height="4.95" fill="#0080ff"/>
<rect x="343.59" y="403.11" width="5.54" height="4.95" fill="#00d0ff"/>
<rect x="348.44" y="403.11" width="5.54" height="4.95" fill="#39ffbe"/>
<rect x="353.28" y="403.11" width="5.54" height="4.95" fill="#ff2500"/>
<rect x="358.12" y="403.11" width="5.54" height="4.95" fill="#ffb200"/>
<rect x="362.97" y="403.11" width="5.54" height="4.95" fill="#63ff94"/>
<rect x="367.81" y="403.11" width="15.23" height="4.95" fill="#39ffbe"/>
<rect x="382.34" y="403.11" width="5.54" height="4.95" fill="#29ffce"/>
<rect x="387.19" y="403.11" width="10.39" height="4.95" fill="#53ffa4"/>
<rect x="396.88" y="403.11" width="21.38" height="4.95" fill="#73ff83"/>
<rect x="298" y="407.36" width="36.61" height="4.95" fill="#00009f"/>
<rect x="333.91" y="407.36" width="5.54" height="4.95" fill="#0000c4"/>
<rect x="338.75" y="407.36" width="5.54" height="4.95" fill="#0004ff"/>
<rect x="343.59" y="407.36" width="5.54" height="4.95" fill="#00b0ff"/>
<rect x="348.44" y="407.36" width="5.54" height="4.95" fill="#0ff8e7"/>
<rect x="353.28" y="407.36" width="5.54" height="4.95" fill="#7dff7a"/>
<rect x="358.12" y="407.36" width="5.54" height="4.95" fill="#8dff6a"/>
<rect x="362.97" y="407.36" width="5.54" height="4.95" fill="#63ff94"/>
<rect x="367.81" y="407.36" width="20.07" height="4.95" fill="#43ffb4"/>
<rect x="387.19" y="407.36" width="5.54" height="4.95" fill="#53ffa4"/>
<rect x="392.03" y="407.36" width="10.39" height="4.95" fill="#6aff8d"/>
<rect x="401.72" y="407.36" width="5.54" height="4.95" fill="#77ff80"/>
<rect x="406.56" y="407.36" width="11.69" height="4.95" fill="#83ff73"/>
<rect x="298" y="411.62" width="17.23" height="4.95" fill="#0000b6"/>
<rect x="314.53" y="411.62" width="24.92" height="4.95" fill="#00009f"/>
<rect x="338.75" y="411.62" width="5.54" height="4.95" fill="#0000ff"/>
<rect x="343.59" y="411.62" width="5.54" height="4.95" fill="#0094ff"/>
<rect x="348.44" y="411.62" width="5.54" height="4.95" fill="#00e4f8"/>
<rect x="353.28" y="411.62" width="5.54" height="4.95" fill="#29ffce"/>
<rect x="358.12" y="411.62" width="10.39" height="4.95" fill="#43ffb4"/>
<rect x="367.81" y="411.62" width="24.92" height="4.95" fill="#63ff94"/>
<rect x="392.03" y="411.62" width="5.54" height="4.95" fill="#6aff8d"/>
<rect x="396.88" y="411.62" width="10.39" height="4.95" fill="#7dff7a"/>
<rect x="406.56" y="411.62" width="11.69" height="4.95" fill="#94ff63"/>
<rect x="298" y="415.87" width="26.92" height="4.95" fill="#0000c4"/>
<rect x="324.22" y="415.87" width="15.23" height="4.95" fill="#0000ad"/>
<rect x="338.75" y="415.87" width="5.54" height="4.95" fill="#0000ff"/>
<rect x="343.59" y="415.87" width="5.54" height="4.95" fill="#0094ff"/>
<rect x="348.44" y="415.87" width="5.54" height="4.95" fill="#00e4f8"/>
<rect x="353.28" y="415.87" width="5.54" height="4.95" fill="#29ffce"/>
<rect x="358.12" y="415.87" width="10.39" height="4.95" fill="#43ffb4"/>
<rect x="367.81" y="415.87" width="20.07" height="4.95" fill="#7dff7a"/>
<rect x="387.19" y="415.87" width="15.23" height="4.95" fill="#8dff6a"/>
<rect x="401.72" y="415.87" width="5.54" height="4.95" fill="#a4ff53"/>
<rect x="406.56" y="415.87" width="5.54" height="4.95" fill="#ceff29"/>
<rect x="411.41" y="415.87" width="6.84" height="4.95" fill="#e7ff0f"/>
<rect x="298" y="420.12" width="31.76" height="4.95" fill="#0000da"/>
<rect x="329.06" y="420.12" width="10.39" height="4.95" fill="#0000ad"/>
<rect x="338.75" y="420.12" width="5.54" height="4.95" fill="#0000ff"/>
<rect x="343.59" y="420.12" width="5.54" height="4.95" fill="#0094ff"/>
<rect x="348.44" y="420.12" width="5.54" height="4.95" fill="#00e4f8"/>
<rect x="353.28" y="420.12" width="5.54" height="4.95" fill="#29ffce"/>
<rect x="358.12" y="420.12" width="5.54" height="4.95" fill="#43ffb4"/>
<rect x="362.97" y="420.12" width="10.39" height="4.95" fill="#7dff7a"/>
<rect x="372.66" y="420.12" width="20.07" height="4.95" fill="#a4ff53"/>
<rect x="392.03" y="420.12" width="10.39" height="4.95" fill="#b4ff43"/>
<rect x="401.72" y="420.12" width="5.54" height="4.95" fill="#deff19"/>
<rect x="406.56" y="420.12" width="5.54" height="4.95" fill="#ffe200"/>
<rect x="411.41" y="420.12" width="6.84" height="4.95" fill="#ffb200"/>
<rect x="298" y="424.38" width="7.54" height="4.95" fill="#0000ff"/>
<rect x="304.84" y="424.38" width="34.61" height="4.95" fill="#0000da"/>
<rect x="338.75" y="424.38" width="5.54" height="4.95" fill="#0000f1"/>
<rect x="343.59" y="424.38" width="5.54" height="4.95" fill="#0094ff"/>
<rect x="348.44" y="424.38" width="5.54" height="4.95" fill="#00e4f8"/>
<rect x="353.28" y="424.38" width="5.54" height="4.95" fill="#29ffce"/>
<rect x="358.12" y="424.38" width="5.54" height="4.95" fill="#53ffa4"/>
<rect x="362.97" y="424.38" width="10.39" height="4.95" fill="#94ff63"/>
<rect x="372.66" y="424.38" width="20.07" height="4.95" fill="#b4ff43"/>
<rect x="392.03" y="424.38" width="5.54" height="4.95" fill="#ceff29"/>
<rect x="396.88" y="424.38" width="5.54" height="4.95" fill="#e7ff0f"/>
<rect x="401.72" y="424.38" width="5.54" height="4.95" fill="#ffe200"/>
<rect x="406.56" y="424.38" width="5.54" height="4.95" fill="#ff9400"/>
<rect x="411.41" y="424.38" width="6.84" height="4.95" fill="#ff5500"/>
<rect x="298" y="428.63" width="22.07" height="4.95" fill="#0004ff"/>
<rect x="319.38" y="428.63" width="24.92" height="4.95" fill="#0000f1"/>
<rect x="343.59" y="428.63" width="5.54" height="4.95" fill="#0018ff"/>
<rect x="348.44" y="428.63" width="5.54" height="4.95" fill="#00b0ff"/>
<rect x="353.28" y="428.63" width="5.54" height="4.95" fill="#0ff8e7"/>
<rect x="358.12" y="428.63" width="5.54" height="4.95" fill="#63ff94"/>
<rect x="362.97" y="428.63" width="10.39" height="4.95" fill="#a4ff53"/>
<rect x="372.66" y="428.63" width="20.07" height="4.95" fill="#ceff29"/>
<rect x="392.03" y="428.63" width="5.54" height="4.95" fill="#e7ff0f"/>
<rect x="396.88" y="428.63" width="5.54" height="4.95" fill="#ffe200"/>
<rect x="401.72" y="428.63" width="5.54" height="4.95" fill="#ffb200"/>
<rect x="406.56" y="428.63" width="5.54" height="4.95" fill="#ff7a00"/>
<rect x="411.41" y="428.63" width="6.84" height="4.95" fill="#ff1a00"/>
<rect x="298" y="432.89" width="17.23" height="4.95" fill="#002cff"/>
<rect x="314.53" y="432.89" width="15.23" height="4.95" fill="#0004ff"/>
<rect x="329.06" y="432.89" width="20.07" height="4.95" fill="#0000ff"/>
<rect x="348.44" y="432.89" width="5.54" height="4.95" fill="#00b0ff"/>
<rect x="353.28" y="432.89" width="5.54" height="4.95" fill="#0ff8e7"/>
<rect x="358.12" y="432.89" width="5.54" height="4.95" fill="#63ff94"/>
<rect x="362.97" y="432.89" width="10.39" height="4.95" fill="#a4ff53"/>
<rect x="372.66" y="432.89" width="20.07" height="4.95" fill="#ceff29"/>
<rect x="392.03" y="432.89" width="5.54" height="4.95" fill="#f8f500"/>
<rect x="396.88" y="432.89" width="5.54" height="4.95" fill="#ffc400"/>
<rect x="401.72" y="432.89" width="5.54" height="4.95" fill="#ff9400"/>
<rect x="406.56" y="432.89" width="5.54" height="4.95" fill="#ff5500"/>
<rect x="411.41" y="432.89" width="6.84" height="4.95" fill="#ff2500"/>
<rect x="298" y="437.14" width="22.07" height="6.25" fill="#0038ff"/>
<rect x="319.38" y="437.14" width="24.92" height="6.25" fill="#0004ff"/>
<rect x="343.59" y="437.14" width="5.54" height="6.25" fill="#002cff"/>
<rect x="348.44" y="437.14" width="5.54" height="6.25" fill="#00b0ff"/>
<rect x="353.28" y="437.14" width="5.54" height="6.25" fill="#0ff8e7"/>
<rect x="358.12" y="437.14" width="5.54" height="6.25" fill="#63ff94"/>
<rect x="362.97" y="437.14" width="10.39" height="6.25" fill="#a4ff53"/>
<rect x="372.66" y="437.14" width="20.07" height="6.25" fill="#ceff29"/>
<rect x="392.03" y="437.14" width="5.54" height="6.25" fill="#f8f500"/>
<rect x="396.88" y="437.14" width="5.54" height="6.25" fill="#ffc400"/>
<rect x="401.72" y="437.14" width="5.54" height="6.25" fill="#ff9400"/>
<rect x="406.56" y="437.14" width="5.54" height="6.25" fill="#ff5500"/>
<rect x="411.41" y="437.14" width="6.84" height="6.25" fill="#f10800"/>
</g></g>
<path d="M300 356.3L416.25 356.3L416.25 432.89L411.41 432.89L411.41 428.63L406.56 428.63L406.56 420.12L401.72 420.12L401.72 407.36L396.88 407.36L396.88 398.85L392.03 398.85L392.03 394.6L387.19 394.6L387.19 390.34L382.34 390.34L382.34 386.09L367.81 386.09L367.81 381.83L353.28 381.83L353.28 386.09L343.59 386.09L343.59 381.83L329.06 381.83L329.06 377.57L319.38 377.57L319.38 373.32L314.53 373.32L314.53 369.06L309.69 369.06L309.69 364.81L300 364.81ZM300 364.81L309.69 364.81L309.69 369.06L314.53 369.06L314.53 373.32L319.38 373.32L319.38 377.57L329.06 377.57L329.06 381.83L343.59 381.83L343.59 390.34L338.75 390.34L338.75 394.6L333.91 394.6L333.91 403.11L338.75 403.11L338.75 407.36L343.59 407.36L343.59 424.38L329.06 424.38L329.06 420.12L324.22 420.12L324.22 415.87L314.53 415.87L314.53 411.62L300 411.62ZM300 411.62L314.53 411.62L314.53 415.87L324.22 415.87L324.22 420.12L329.06 420.12L329.06 424.38L343.59 424.38L343.59 428.63L348.44 428.63L348.44 441.4L300 441.4ZM343.59 386.09L353.28 386.09L353.28 381.83L367.81 381.83L367.81 386.09L382.34 386.09L382.34 390.34L387.19 390.34L387.19 394.6L392.03 394.6L392.03 398.85L396.88 398.85L396.88 407.36L401.72 407.36L401.72 415.87L392.03 415.87L392.03 411.62L387.19 411.62L387.19 407.36L382.34 407.36L382.34 403.11L333.91 403.11L333.91 394.6L338.75 394.6L338.75 390.34L343.59 390.34ZM338.75 403.11L382.34 403.11L382.34 407.36L387.19 407.36L387.19 411.62L392.03 411.62L392.03 415.87L401.72 415.87L401.72 420.12L406.56 420.12L406.56 428.63L411.41 428.63L411.41 432.89L416.25 432.89L416.25 441.4L348.44 441.4L348.44 428.63L343.59 428.63L343.59 407.36L338.75 407.36Z" fill="none" stroke="#0a0a0a" stroke-width="1.35" stroke-linejoin="miter" clip-path="url(#c300_356)"/>
<rect x="300.45" y="356.75" width="115.35" height="84.2" fill="none" stroke="#07070f" stroke-width="0.95"/>
</g>
<rect x="417.8" y="356.5" width="5.4" height="84.7" fill="url(#jet)" stroke="#101028" stroke-opacity="0.55" stroke-width="0.4"/>
<text x="424.8" y="363.1" class="tk">1.00</text>
<text x="424.8" y="383.05" class="tk">0.75</text>
<text x="424.8" y="403" class="tk">0.50</text>
<text x="424.8" y="422.95" class="tk">0.25</text>
<text x="424.8" y="442.9" class="tk">0.00</text>
<text x="365.2" y="351.2" class="tt" text-anchor="middle">pCalvedAnimals</text>
<g>
<g clip-path="url(#c455_356)"><g filter="url(#soft)">
<rect x="453.6" y="354.3" width="120.25" height="89.1" fill="#003cff"/>
<rect x="453.6" y="354.3" width="12.39" height="6.95" fill="#9f0000"/>
<rect x="465.29" y="354.3" width="5.54" height="6.95" fill="#f10800"/>
<rect x="470.13" y="354.3" width="5.54" height="6.95" fill="#ff2500"/>
<rect x="474.98" y="354.3" width="5.54" height="6.95" fill="#ff5500"/>
<rect x="479.82" y="354.3" width="5.54" height="6.95" fill="#ff9400"/>
<rect x="484.66" y="354.3" width="5.54" height="6.95" fill="#ffe200"/>
<rect x="489.51" y="354.3" width="5.54" height="6.95" fill="#ceff29"/>
<rect x="494.35" y="354.3" width="5.54" height="6.95" fill="#6aff8d"/>
<rect x="499.19" y="354.3" width="5.54" height="6.95" fill="#19ffde"/>
<rect x="504.04" y="354.3" width="5.54" height="6.95" fill="#00b0ff"/>
<rect x="508.88" y="354.3" width="5.54" height="6.95" fill="#0080ff"/>
<rect x="513.73" y="354.3" width="5.54" height="6.95" fill="#0060ff"/>
<rect x="518.57" y="354.3" width="5.54" height="6.95" fill="#004cff"/>
<rect x="523.41" y="354.3" width="5.54" height="6.95" fill="#0020ff"/>
<rect x="528.26" y="354.3" width="15.23" height="6.95" fill="#0000f6"/>
<rect x="542.79" y="354.3" width="15.23" height="6.95" fill="#0000d1"/>
<rect x="557.32" y="354.3" width="16.53" height="6.95" fill="#000096"/>
<rect x="453.6" y="360.56" width="12.39" height="4.95" fill="#9b0000"/>
<rect x="465.29" y="360.56" width="5.54" height="4.95" fill="#cd0000"/>
<rect x="470.13" y="360.56" width="5.54" height="4.95" fill="#ff1a00"/>
<rect x="474.98" y="360.56" width="5.54" height="4.95" fill="#ff5500"/>
<rect x="479.82" y="360.56" width="5.54" height="4.95" fill="#ff9400"/>
<rect x="484.66" y="360.56" width="5.54" height="4.95" fill="#ffe200"/>
<rect x="489.51" y="360.56" width="5.54" height="4.95" fill="#ceff29"/>
<rect x="494.35" y="360.56" width="5.54" height="4.95" fill="#6aff8d"/>
<rect x="499.19" y="360.56" width="5.54" height="4.95" fill="#19ffde"/>
<rect x="504.04" y="360.56" width="5.54" height="4.95" fill="#00b0ff"/>
<rect x="508.88" y="360.56" width="10.39" height="4.95" fill="#0080ff"/>
<rect x="518.57" y="360.56" width="5.54" height="4.95" fill="#004cff"/>
<rect x="523.41" y="360.56" width="5.54" height="4.95" fill="#0020ff"/>
<rect x="528.26" y="360.56" width="15.23" height="4.95" fill="#0000f6"/>
<rect x="542.79" y="360.56" width="15.23" height="4.95" fill="#0000d1"/>
<rect x="557.32" y="360.56" width="16.53" height="4.95" fill="#000096"/>
<rect x="453.6" y="364.81" width="12.39" height="4.95" fill="#9b0000"/>
<rect x="465.29" y="364.81" width="5.54" height="4.95" fill="#b60000"/>
<rect x="470.13" y="364.81" width="5.54" height="4.95" fill="#f10800"/>
<rect x="474.98" y="364.81" width="5.54" height="4.95" fill="#ff6800"/>
<rect x="479.82" y="364.81" width="5.54" height="4.95" fill="#ffab00"/>
<rect x="484.66" y="364.81" width="5.54" height="4.95" fill="#e7ff0f"/>
<rect x="489.51" y="364.81" width="5.54" height="4.95" fill="#b4ff43"/>
<rect x="494.35" y="364.81" width="5.54" height="4.95" fill="#53ffa4"/>
<rect x="499.19" y="364.81" width="5.54" height="4.95" fill="#0ff8e7"/>
<rect x="504.04" y="364.81" width="5.54" height="4.95" fill="#00b0ff"/>
<rect x="508.88" y="364.81" width="10.39" height="4.95" fill="#0080ff"/>
<rect x="518.57" y="364.81" width="5.54" height="4.95" fill="#004cff"/>
<rect x="523.41" y="364.81" width="5.54" height="4.95" fill="#0020ff"/>
<rect x="528.26" y="364.81" width="15.23" height="4.95" fill="#0000f6"/>
<rect x="542.79" y="364.81" width="15.23" height="4.95" fill="#0000d1"/>
<rect x="557.32" y="364.81" width="16.53" height="4.95" fill="#000096"/>
<rect x="453.6" y="369.06" width="17.23" height="4.95" fill="#9b0000"/>
<rect x="470.13" y="369.06" width="5.54" height="4.95" fill="#f10800"/>
<rect x="474.98" y="369.06" width="5.54" height="4.95" fill="#ff5500"/>
<rect x="479.82" y="369.06" width="5.54" height="4.95" fill="#ffb200"/>
<rect x="484.66" y="369.06" width="5.54" height="4.95" fill="#e7ff0f"/>
<rect x="489.51" y="369.06" width="5.54" height="4.95" fill="#a4ff53"/>
<rect x="494.35" y="369.06" width="5.54" height="4.95" fill="#43ffb4"/>
<rect x="499.19" y="369.06" width="5.54" height="4.95" fill="#00e4f8"/>
<rect x="504.04" y="369.06" width="5.54" height="4.95" fill="#009cff"/>
<rect x="508.88" y="369.06" width="10.39" height="4.95" fill="#0080ff"/>
<rect x="518.57" y="369.06" width="5.54" height="4.95" fill="#004cff"/>
<rect x="523.41" y="369.06" width="5.54" height="4.95" fill="#0020ff"/>
<rect x="528.26" y="369.06" width="15.23" height="4.95" fill="#0000f6"/>
<rect x="542.79" y="369.06" width="15.23" height="4.95" fill="#0000d1"/>
<rect x="557.32" y="369.06" width="16.53" height="4.95" fill="#000096"/>
<rect x="453.6" y="373.32" width="17.23" height="4.95" fill="#9b0000"/>
<rect x="470.13" y="373.32" width="5.54" height="4.95" fill="#cd0000"/>
<rect x="474.98" y="373.32" width="5.54" height="4.95" fill="#ff6800"/>
<rect x="479.82" y="373.32" width="5.54" height="4.95" fill="#ffb200"/>
<rect x="484.66" y="373.32" width="5.54" height="4.95" fill="#deff19"/>
<rect x="489.51" y="373.32" width="5.54" height="4.95" fill="#94ff63"/>
<rect x="494.35" y="373.32" width="5.54" height="4.95" fill="#39ffbe"/>
<rect x="499.19" y="373.32" width="5.54" height="4.95" fill="#00e4f8"/>
<rect x="504.04" y="373.32" width="5.54" height="4.95" fill="#009cff"/>
<rect x="508.88" y="373.32" width="10.39" height="4.95" fill="#0080ff"/>
<rect x="518.57" y="373.32" width="5.54" height="4.95" fill="#004cff"/>
<rect x="523.41" y="373.32" width="5.54" height="4.95" fill="#0020ff"/>
<rect x="528.26" y="373.32" width="15.23" height="4.95" fill="#0000f6"/>
<rect x="542.79" y="373.32" width="15.23" height="4.95" fill="#0000d1"/>
<rect x="557.32" y="373.32" width="16.53" height="4.95" fill="#000096"/>
<rect x="453.6" y="377.57" width="17.23" height="4.96" fill="#9b0000"/>
<rect x="470.13" y="377.57" width="5.54" height="4.96" fill="#f10800"/>
<rect x="474.98" y="377.57" width="5.54" height="4.96" fill="#ff5500"/>
<rect x="479.82" y="377.57" width="5.54" height="4.96" fill="#ffab00"/>
<rect x="484.66" y="377.57" width="5.54" height="4.96" fill="#e7ff0f"/>
<rect x="489.51" y="377.57" width="5.54" height="4.96" fill="#b4ff43"/>
<rect x="494.35" y="377.57" width="5.54" height="4.96" fill="#53ffa4"/>
<rect x="499.19" y="377.57" width="5.54" height="4.96" fill="#0ff8e7"/>
<rect x="504.04" y="377.57" width="5.54" height="4.96" fill="#00b0ff"/>
<rect x="508.88" y="377.57" width="5.54" height="4.96" fill="#009cff"/>
<rect x="513.73" y="377.57" width="5.54" height="4.96" fill="#0080ff"/>
<rect x="518.57" y="377.57" width="5.54" height="4.96" fill="#004cff"/>
<rect x="523.41" y="377.57" width="5.54" height="4.96" fill="#0020ff"/>
<rect x="528.26" y="377.57" width="15.23" height="4.96" fill="#0000f6"/>
<rect x="542.79" y="377.57" width="15.23" height="4.96" fill="#0000d1"/>
<rect x="557.32" y="377.57" width="16.53" height="4.96" fill="#000096"/>
<rect x="453.6" y="381.83" width="22.07" height="4.95" fill="#9b0000"/>
<rect x="474.98" y="381.83" width="5.54" height="4.95" fill="#f10800"/>
<rect x="479.82" y="381.83" width="5.54" height="4.95" fill="#ff6800"/>
<rect x="484.66" y="381.83" width="5.54" height="4.95" fill="#ffb200"/>
<rect x="489.51" y="381.83" width="5.54" height="4.95" fill="#f8f500"/>
<rect x="494.35" y="381.83" width="5.54" height="4.95" fill="#ceff29"/>
<rect x="499.19" y="381.83" width="5.54" height="4.95" fill="#7dff7a"/>
<rect x="504.04" y="381.83" width="5.54" height="4.95" fill="#53ffa4"/>
<rect x="508.88" y="381.83" width="5.54" height="4.95" fill="#19ffde"/>
<rect x="513.73" y="381.83" width="5.54" height="4.95" fill="#00b0ff"/>
<rect x="518.57" y="381.83" width="5.54" height="4.95" fill="#0080ff"/>
<rect x="523.41" y="381.83" width="5.54" height="4.95" fill="#0004ff"/>
<rect x="528.26" y="381.83" width="10.39" height="4.95" fill="#0000c4"/>
<rect x="537.94" y="381.83" width="15.23" height="4.95" fill="#0000e3"/>
<rect x="552.48" y="381.83" width="21.38" height="4.95" fill="#00009f"/>
<rect x="453.6" y="386.09" width="22.07" height="4.95" fill="#9b0000"/>
<rect x="474.98" y="386.09" width="5.54" height="4.95" fill="#b60000"/>
<rect x="479.82" y="386.09" width="5.54" height="4.95" fill="#ff1a00"/>
<rect x="484.66" y="386.09" width="5.54" height="4.95" fill="#ff6800"/>
<rect x="489.51" y="386.09" width="5.54" height="4.95" fill="#ffab00"/>
<rect x="494.35" y="386.09" width="5.54" height="4.95" fill="#ffe200"/>
<rect x="499.19" y="386.09" width="5.54" height="4.95" fill="#deff19"/>
<rect x="504.04" y="386.09" width="5.54" height="4.95" fill="#b4ff43"/>
<rect x="508.88" y="386.09" width="5.54" height="4.95" fill="#7dff7a"/>
<rect x="513.73" y="386.09" width="5.54" height="4.95" fill="#0ff8e7"/>
<rect x="518.57" y="386.09" width="5.54" height="4.95" fill="#009cff"/>
<rect x="523.41" y="386.09" width="5.54" height="4.95" fill="#004cff"/>
<rect x="528.26" y="386.09" width="10.39" height="4.95" fill="#0000e3"/>
<rect x="537.94" y="386.09" width="5.54" height="4.95" fill="#0000c4"/>
<rect x="542.79" y="386.09" width="10.39" height="4.95" fill="#0000e3"/>
<rect x="552.48" y="386.09" width="5.54" height="4.95" fill="#0004ff"/>
<rect x="557.32" y="386.09" width="16.53" height="4.95" fill="#00009f"/>
<rect x="453.6" y="390.34" width="7.54" height="4.95" fill="#f10800"/>
<rect x="460.44" y="390.34" width="10.39" height="4.95" fill="#b60000"/>
<rect x="470.13" y="390.34" width="15.23" height="4.95" fill="#9b0000"/>
<rect x="484.66" y="390.34" width="5.54" height="4.95" fill="#f10800"/>
<rect x="489.51" y="390.34" width="5.54" height="4.95" fill="#ff4a00"/>
<rect x="494.35" y="390.34" width="5.54" height="4.95" fill="#ff5500"/>
<rect x="499.19" y="390.34" width="5.54" height="4.95" fill="#ff6800"/>
<rect x="504.04" y="390.34" width="5.54" height="4.95" fill="#ff9400"/>
<rect x="508.88" y="390.34" width="5.54" height="4.95" fill="#ffe200"/>
<rect x="513.73" y="390.34" width="5.54" height="4.95" fill="#53ffa4"/>
<rect x="518.57" y="390.34" width="5.54" height="4.95" fill="#00c4ff"/>
<rect x="523.41" y="390.34" width="5.54" height="4.95" fill="#004cff"/>
<rect x="528.26" y="390.34" width="15.23" height="4.95" fill="#0000c4"/>
<rect x="542.79" y="390.34" width="10.39" height="4.95" fill="#0000f6"/>
<rect x="552.48" y="390.34" width="5.54" height="4.95" fill="#004cff"/>
<rect x="557.32" y="390.34" width="16.53" height="4.95" fill="#00009f"/>
<rect x="453.6" y="394.6" width="7.54" height="4.95" fill="#ff6800"/>
<rect x="460.44" y="394.6" width="5.54" height="4.95" fill="#ff2500"/>
<rect x="465.29" y="394.6" width="5.54" height="4.95" fill="#f10800"/>
<rect x="470.13" y="394.6" width="20.07" height="4.95" fill="#9b0000"/>
<rect x="489.51" y="394.6" width="15.23" height="4.95" fill="#9f0000"/>
<rect x="504.04" y="394.6" width="5.54" height="4.95" fill="#f10800"/>
<rect x="508.88" y="394.6" width="5.54" height="4.95" fill="#ff4a00"/>
<rect x="513.73" y="394.6" width="5.54" height="4.95" fill="#a4ff53"/>
<rect x="518.57" y="394.6" width="5.54" height="4.95" fill="#00e4f8"/>
<rect x="523.41" y="394.6" width="5.54" height="4.95" fill="#0060ff"/>
<rect x="528.26" y="394.6" width="5.54" height="4.95" fill="#0000e3"/>
<rect x="533.1" y="394.6" width="15.23" height="4.95" fill="#00009f"/>
<rect x="547.63" y="394.6" width="5.54" height="4.95" fill="#0004ff"/>
<rect x="552.48" y="394.6" width="5.54" height="4.95" fill="#0060ff"/>
<rect x="557.32" y="394.6" width="16.53" height="4.95" fill="#00009f"/>
<rect x="453.6" y="398.85" width="7.54" height="4.95" fill="#ffc400"/>
<rect x="460.44" y="398.85" width="5.54" height="4.95" fill="#ff7a00"/>
<rect x="465.29" y="398.85" width="5.54" height="4.95" fill="#ff2500"/>
<rect x="470.13" y="398.85" width="5.54" height="4.95" fill="#b60000"/>
<rect x="474.98" y="398.85" width="34.61" height="4.95" fill="#9b0000"/>
<rect x="508.88" y="398.85" width="5.54" height="4.95" fill="#cd0000"/>
<rect x="513.73" y="398.85" width="5.54" height="4.95" fill="#a4ff53"/>
<rect x="518.57" y="398.85" width="5.54" height="4.95" fill="#09f0ee"/>
<rect x="523.41" y="398.85" width="5.54" height="4.95" fill="#0068ff"/>
<rect x="528.26" y="398.85" width="5.54" height="4.95" fill="#0000f6"/>
<rect x="533.1" y="398.85" width="20.08" height="4.95" fill="#00009f"/>
<rect x="552.48" y="398.85" width="5.54" height="4.95" fill="#0000e3"/>
<rect x="557.32" y="398.85" width="16.53" height="4.95" fill="#00009f"/>
<rect x="453.6" y="403.11" width="7.54" height="4.95" fill="#8dff6a"/>
<rect x="460.44" y="403.11" width="5.54" height="4.95" fill="#deff19"/>
<rect x="465.29" y="403.11" width="5.54" height="4.95" fill="#ffab00"/>
<rect x="470.13" y="403.11" width="5.54" height="4.95" fill="#ff4a00"/>
<rect x="474.98" y="403.11" width="5.54" height="4.95" fill="#cd0000"/>
<rect x="479.82" y="403.11" width="15.23" height="4.95" fill="#9b0000"/>
<rect x="494.35" y="403.11" width="15.23" height="4.95" fill="#9f0000"/>
<rect x="508.88" y="403.11" width="5.54" height="4.95" fill="#f10800"/>
<rect x="513.73" y="403.11" width="5.54" height="4.95" fill="#7dff7a"/>
<rect x="518.57" y="403.11" width="5.54" height="4.95" fill="#09f0ee"/>
<rect x="523.41" y="403.11" width="5.54" height="4.95" fill="#0068ff"/>
<rect x="528.26" y="403.11" width="5.54" height="4.95" fill="#0000ff"/>
<rect x="533.1" y="403.11" width="5.54" height="4.95" fill="#0000c4"/>
<rect x="537.94" y="403.11" width="15.23" height="4.95" fill="#000096"/>
<rect x="552.48" y="403.11" width="21.38" height="4.95" fill="#00009f"/>
<rect x="453.6" y="407.36" width="7.54" height="4.95" fill="#00e4f8"/>
<rect x="460.44" y="407.36" width="5.54" height="4.95" fill="#53ffa4"/>
<rect x="465.29" y="407.36" width="5.54" height="4.95" fill="#b4ff43"/>
<rect x="470.13" y="407.36" width="5.54" height="4.95" fill="#ffb200"/>
<rect x="474.98" y="407.36" width="5.54" height="4.95" fill="#ff2500"/>
<rect x="479.82" y="407.36" width="20.07" height="4.95" fill="#9b0000"/>
<rect x="499.19" y="407.36" width="5.54" height="4.95" fill="#b60000"/>
<rect x="504.04" y="407.36" width="5.54" height="4.95" fill="#ff1a00"/>
<rect x="508.88" y="407.36" width="5.54" height="4.95" fill="#ff5500"/>
<rect x="513.73" y="407.36" width="5.54" height="4.95" fill="#7dff7a"/>
<rect x="518.57" y="407.36" width="5.54" height="4.95" fill="#00e4f8"/>
<rect x="523.41" y="407.36" width="5.54" height="4.95" fill="#0068ff"/>
<rect x="528.26" y="407.36" width="5.54" height="4.95" fill="#0000ff"/>
<rect x="533.1" y="407.36" width="10.39" height="4.95" fill="#0000c4"/>
<rect x="542.79" y="407.36" width="15.23" height="4.95" fill="#000096"/>
<rect x="557.32" y="407.36" width="16.53" height="4.95" fill="#00009f"/>
<rect x="453.6" y="411.62" width="17.23" height="4.95" fill="#0000f6"/>
<rect x="470.13" y="411.62" width="5.54" height="4.95" fill="#39ffbe"/>
<rect x="474.98" y="411.62" width="5.54" height="4.95" fill="#ceff29"/>
<rect x="479.82" y="411.62" width="5.54" height="4.95" fill="#ff6800"/>
<rect x="484.66" y="411.62" width="5.54" height="4.95" fill="#b60000"/>
<rect x="489.51" y="411.62" width="10.39" height="4.95" fill="#9b0000"/>
<rect x="499.19" y="411.62" width="5.54" height="4.95" fill="#ff1a00"/>
<rect x="504.04" y="411.62" width="5.54" height="4.95" fill="#ff7a00"/>
<rect x="508.88" y="411.62" width="5.54" height="4.95" fill="#ffc400"/>
<rect x="513.73" y="411.62" width="5.54" height="4.95" fill="#53ffa4"/>
<rect x="518.57" y="411.62" width="5.54" height="4.95" fill="#00d0ff"/>
<rect x="523.41" y="411.62" width="5.54" height="4.95" fill="#0060ff"/>
<rect x="528.26" y="411.62" width="5.54" height="4.95" fill="#0000ff"/>
<rect x="533.1" y="411.62" width="15.23" height="4.95" fill="#0000c4"/>
<rect x="547.63" y="411.62" width="26.22" height="4.95" fill="#00009f"/>
<rect x="453.6" y="415.87" width="12.39" height="4.95" fill="#0000c4"/>
<rect x="465.29" y="415.87" width="5.54" height="4.95" fill="#0004ff"/>
<rect x="470.13" y="415.87" width="5.54" height="4.95" fill="#0060ff"/>
<rect x="474.98" y="415.87" width="5.54" height="4.95" fill="#00b0ff"/>
<rect x="479.82" y="415.87" width="5.54" height="4.95" fill="#a4ff53"/>
<rect x="484.66" y="415.87" width="5.54" height="4.95" fill="#ff9400"/>
<rect x="489.51" y="415.87" width="5.54" height="4.95" fill="#f10800"/>
<rect x="494.35" y="415.87" width="5.54" height="4.95" fill="#b60000"/>
<rect x="499.19" y="415.87" width="5.54" height="4.95" fill="#ff6800"/>
<rect x="504.04" y="415.87" width="5.54" height="4.95" fill="#ffc400"/>
<rect x="508.88" y="415.87" width="5.54" height="4.95" fill="#ceff29"/>
<rect x="513.73" y="415.87" width="5.54" height="4.95" fill="#29ffce"/>
<rect x="518.57" y="415.87" width="5.54" height="4.95" fill="#00b0ff"/>
<rect x="523.41" y="415.87" width="5.54" height="4.95" fill="#0060ff"/>
<rect x="528.26" y="415.87" width="5.54" height="4.95" fill="#0000ff"/>
<rect x="533.1" y="415.87" width="24.92" height="4.95" fill="#0000c4"/>
<rect x="557.32" y="415.87" width="16.53" height="4.95" fill="#00009f"/>
<rect x="453.6" y="420.12" width="17.23" height="4.95" fill="#0000c4"/>
<rect x="470.13" y="420.12" width="5.54" height="4.95" fill="#0020ff"/>
<rect x="474.98" y="420.12" width="5.54" height="4.95" fill="#0060ff"/>
<rect x="479.82" y="420.12" width="5.54" height="4.95" fill="#00b0ff"/>
<rect x="484.66" y="420.12" width="5.54" height="4.95" fill="#7dff7a"/>
<rect x="489.51" y="420.12" width="5.54" height="4.95" fill="#f8f500"/>
<rect x="494.35" y="420.12" width="5.54" height="4.95" fill="#ffb200"/>
<rect x="499.19" y="420.12" width="5.54" height="4.95" fill="#ceff29"/>
<rect x="504.04" y="420.12" width="5.54" height="4.95" fill="#8dff6a"/>
<rect x="508.88" y="420.12" width="5.54" height="4.95" fill="#39ffbe"/>
<rect x="513.73" y="420.12" width="5.54" height="4.95" fill="#00d0ff"/>
<rect x="518.57" y="420.12" width="5.54" height="4.95" fill="#0094ff"/>
<rect x="523.41" y="420.12" width="5.54" height="4.95" fill="#004cff"/>
<rect x="528.26" y="420.12" width="5.54" height="4.95" fill="#0000ff"/>
<rect x="533.1" y="420.12" width="29.76" height="4.95" fill="#0000c4"/>
<rect x="562.16" y="420.12" width="11.69" height="4.95" fill="#00009f"/>
<rect x="453.6" y="424.38" width="22.07" height="4.95" fill="#0000b6"/>
<rect x="474.98" y="424.38" width="5.54" height="4.95" fill="#0000f6"/>
<rect x="479.82" y="424.38" width="5.54" height="4.95" fill="#004cff"/>
<rect x="484.66" y="424.38" width="5.54" height="4.95" fill="#0080ff"/>
<rect x="489.51" y="424.38" width="5.54" height="4.95" fill="#00b0ff"/>
<rect x="494.35" y="424.38" width="5.54" height="4.95" fill="#00d0ff"/>
<rect x="499.19" y="424.38" width="5.54" height="4.95" fill="#00e4f8"/>
<rect x="504.04" y="424.38" width="5.54" height="4.95" fill="#00d0ff"/>
<rect x="508.88" y="424.38" width="5.54" height="4.95" fill="#00b0ff"/>
<rect x="513.73" y="424.38" width="5.54" height="4.95" fill="#0094ff"/>
<rect x="518.57" y="424.38" width="5.54" height="4.95" fill="#0068ff"/>
<rect x="523.41" y="424.38" width="5.54" height="4.95" fill="#0030ff"/>
<rect x="528.26" y="424.38" width="5.54" height="4.95" fill="#0000f6"/>
<rect x="533.1" y="424.38" width="40.75" height="4.95" fill="#0000c4"/>
<rect x="453.6" y="428.63" width="31.76" height="4.95" fill="#00009f"/>
<rect x="484.66" y="428.63" width="5.54" height="4.95" fill="#0000e3"/>
<rect x="489.51" y="428.63" width="5.54" height="4.95" fill="#0020ff"/>
<rect x="494.35" y="428.63" width="10.39" height="4.95" fill="#004cff"/>
<rect x="504.04" y="428.63" width="10.39" height="4.95" fill="#0060ff"/>
<rect x="513.73" y="428.63" width="10.39" height="4.95" fill="#004cff"/>
<rect x="523.41" y="428.63" width="5.54" height="4.95" fill="#0010ff"/>
<rect x="528.26" y="428.63" width="5.54" height="4.95" fill="#0000f6"/>
<rect x="533.1" y="428.63" width="40.75" height="4.95" fill="#0000c4"/>
<rect x="453.6" y="432.89" width="7.54" height="4.95" fill="#000096"/>
<rect x="460.44" y="432.89" width="10.39" height="4.95" fill="#0000ff"/>
<rect x="470.13" y="432.89" width="34.61" height="4.95" fill="#0000ad"/>
<rect x="504.04" y="432.89" width="24.92" height="4.95" fill="#0004ff"/>
<rect x="528.26" y="432.89" width="20.08" height="4.95" fill="#0000c4"/>
<rect x="547.63" y="432.89" width="10.39" height="4.95" fill="#0000f6"/>
<rect x="557.32" y="432.89" width="16.53" height="4.95" fill="#0000c4"/>
<rect x="453.6" y="437.14" width="7.54" height="6.25" fill="#000096"/>
<rect x="460.44" y="437.14" width="5.54" height="6.25" fill="#0000e3"/>
<rect x="465.29" y="437.14" width="39.45" height="6.25" fill="#000096"/>
<rect x="504.04" y="437.14" width="10.39" height="6.25" fill="#0000e3"/>
<rect x="513.73" y="437.14" width="34.61" height="6.25" fill="#0000c4"/>
<rect x="547.63" y="437.14" width="5.54" height="6.25" fill="#0004ff"/>
<rect x="552.48" y="437.14" width="21.38" height="6.25" fill="#0000c4"/>
</g></g>
<path d="M455.6 356.3L571.85 356.3L571.85 432.89L567.01 432.89L567.01 428.63L562.16 428.63L562.16 420.12L557.32 420.12L557.32 407.36L552.48 407.36L552.48 398.85L547.63 398.85L547.63 394.6L542.79 394.6L542.79 390.34L537.94 390.34L537.94 386.09L523.41 386.09L523.41 381.83L508.88 381.83L508.88 386.09L499.19 386.09L499.19 381.83L484.66 381.83L484.66 377.57L474.98 377.57L474.98 373.32L470.13 373.32L470.13 369.06L465.29 369.06L465.29 364.81L455.6 364.81ZM455.6 364.81L465.29 364.81L465.29 369.06L470.13 369.06L470.13 373.32L474.98 373.32L474.98 377.57L484.66 377.57L484.66 381.83L499.19 381.83L499.19 390.34L494.35 390.34L494.35 394.6L489.51 394.6L489.51 403.11L494.35 403.11L494.35 407.36L499.19 407.36L499.19 424.38L484.66 424.38L484.66 420.12L479.82 420.12L479.82 415.87L470.13 415.87L470.13 411.62L455.6 411.62ZM455.6 411.62L470.13 411.62L470.13 415.87L479.82 415.87L479.82 420.12L484.66 420.12L484.66 424.38L499.19 424.38L499.19 428.63L504.04 428.63L504.04 441.4L455.6 441.4ZM499.19 386.09L508.88 386.09L508.88 381.83L523.41 381.83L523.41 386.09L537.94 386.09L537.94 390.34L542.79 390.34L542.79 394.6L547.63 394.6L547.63 398.85L552.48 398.85L552.48 407.36L557.32 407.36L557.32 415.87L547.63 415.87L547.63 411.62L542.79 411.62L542.79 407.36L537.94 407.36L537.94 403.11L489.51 403.11L489.51 394.6L494.35 394.6L494.35 390.34L499.19 390.34ZM494.35 403.11L537.94 403.11L537.94 407.36L542.79 407.36L542.79 411.62L547.63 411.62L547.63 415.87L557.32 415.87L557.32 420.12L562.16 420.12L562.16 428.63L567.01 428.63L567.01 432.89L571.85 432.89L571.85 441.4L504.04 441.4L504.04 428.63L499.19 428.63L499.19 407.36L494.35 407.36Z" fill="none" stroke="#0a0a0a" stroke-width="1.35" stroke-linejoin="miter" clip-path="url(#c455_356)"/>
<rect x="456.05" y="356.75" width="115.35" height="84.2" fill="none" stroke="#07070f" stroke-width="0.95"/>
</g>
<rect x="573.4" y="356.5" width="5.4" height="84.7" fill="url(#jet)" stroke="#101028" stroke-opacity="0.55" stroke-width="0.4"/>
<text x="580.4" y="363.1" class="tk">1.00</text>
<text x="580.4" y="383.05" class="tk">0.75</text>
<text x="580.4" y="403" class="tk">0.50</text>
<text x="580.4" y="422.95" class="tk">0.25</text>
<text x="580.4" y="442.9" class="tk">0.00</text>
<text x="518.7" y="351.2" class="tt" text-anchor="middle">pOutMovesToSL</text>
<text x="107.7" y="74.5" class="rl" text-anchor="middle">B</text>
<text x="75.4" y="102.4" class="rl" text-anchor="middle">M</text>
<text x="98.5" y="128.5" class="rl" text-anchor="middle">D</text>
<text x="37.2" y="103.6" class="rl" text-anchor="middle">?</text>
<text x="95.1" y="225.2" class="rl" text-anchor="middle">B</text>
<text x="79.6" y="257.6" class="rl" text-anchor="middle">M</text>
<text x="102" y="280" class="rl" text-anchor="middle">D</text>
<text x="37.4" y="271.1" class="rl" text-anchor="middle">?</text>
<text x="108.5" y="378.2" class="rl" text-anchor="middle">B</text>
<text x="79.6" y="401.7" class="rl" text-anchor="middle">M</text>
<text x="92.1" y="430.6" class="rl" text-anchor="middle">D</text>
<text x="37.6" y="401.7" class="rl" text-anchor="middle">F</text>
<text x="36.4" y="437.5" class="rl" text-anchor="middle">S/R</text>
<rect x="470" y="102" width="118" height="30" fill="#fff"/>
<text x="529.3" y="115.5" class="an" text-anchor="middle">add variable based</text>
<text x="529.3" y="129.3" class="an" text-anchor="middle">on expert knowledge</text>
<rect x="644" y="220" width="140" height="14" fill="#fff"/>
<text x="625.6" y="224.6" class="pl">(c)</text>
<text x="645.6" y="231.2" class="an2">extract classification rules</text>
<rect x="645.8" y="235.3" width="144" height="66" fill="#fff" stroke="#111" stroke-width="1.8"/>
<rect x="651.4" y="279.6" width="6.61" height="18" fill="#fbd76f" stroke="#f4c037" stroke-width="0.8"/>
<rect x="658.01" y="291.8" width="6.61" height="5.8" fill="#fbd76f" stroke="#f4c037" stroke-width="0.8"/>
<rect x="664.62" y="293.8" width="6.61" height="3.8" fill="#fbd76f" stroke="#f4c037" stroke-width="0.8"/>
<rect x="671.23" y="294.4" width="6.61" height="3.2" fill="#fbd76f" stroke="#f4c037" stroke-width="0.8"/>
<rect x="677.84" y="295" width="6.61" height="2.6" fill="#fbd76f" stroke="#f4c037" stroke-width="0.8"/>
<rect x="684.45" y="295.4" width="6.61" height="2.2" fill="#fbd76f" stroke="#f4c037" stroke-width="0.8"/>
<rect x="691.06" y="295.6" width="6.61" height="2" fill="#fbd76f" stroke="#f4c037" stroke-width="0.8"/>
<rect x="697.67" y="295.6" width="6.61" height="2" fill="#fbd76f" stroke="#f4c037" stroke-width="0.8"/>
<rect x="704.28" y="295.5" width="6.61" height="2.1" fill="#fbd76f" stroke="#f4c037" stroke-width="0.8"/>
<rect x="710.89" y="295" width="6.61" height="2.6" fill="#fbd76f" stroke="#f4c037" stroke-width="0.8"/>
<rect x="717.5" y="295.8" width="6.61" height="1.8" fill="#e05be4" stroke="#c930cf" stroke-width="0.8"/>
<rect x="724.11" y="295.5" width="6.61" height="2.1" fill="#e05be4" stroke="#c930cf" stroke-width="0.8"/>
<rect x="730.72" y="295.4" width="6.61" height="2.2" fill="#e05be4" stroke="#c930cf" stroke-width="0.8"/>
<rect x="737.33" y="295.4" width="6.61" height="2.2" fill="#e05be4" stroke="#c930cf" stroke-width="0.8"/>
<rect x="743.94" y="295.2" width="6.61" height="2.4" fill="#e05be4" stroke="#c930cf" stroke-width="0.8"/>
<rect x="750.55" y="295.2" width="6.61" height="2.4" fill="#e05be4" stroke="#c930cf" stroke-width="0.8"/>
<rect x="757.16" y="295" width="6.61" height="2.6" fill="#e05be4" stroke="#c930cf" stroke-width="0.8"/>
<rect x="763.77" y="294.2" width="6.61" height="3.4" fill="#e05be4" stroke="#c930cf" stroke-width="0.8"/>
<rect x="770.38" y="293" width="6.61" height="4.6" fill="#e05be4" stroke="#c930cf" stroke-width="0.8"/>
<rect x="776.99" y="238.6" width="6.61" height="59" fill="#e05be4" stroke="#c930cf" stroke-width="0.8"/>
<path d="M717.5 240.9V297" stroke="#222" stroke-width="1.3" stroke-dasharray="5.6 4.8" fill="none"/>
<path d="M645.8 297.8H789.8" stroke="#111" stroke-width="1.7" fill="none"/>
<text x="651.9" y="313.8" class="ht" text-anchor="middle">0.00</text>
<text x="685.05" y="313.8" class="ht" text-anchor="middle">0.25</text>
<text x="718.2" y="313.8" class="ht" text-anchor="middle">0.50</text>
<text x="751.35" y="313.8" class="ht" text-anchor="middle">0.75</text>
<text x="784.5" y="313.8" class="ht" text-anchor="middle">1.00</text>
<text x="720.3" y="324.9" class="hx" text-anchor="middle">pOutMovesToSL</text>
<text transform="translate(639.3 269.2) rotate(-90)" class="hy" text-anchor="middle">No. herds</text>
<rect x="645.3" y="335.4" width="144.9" height="63.8" rx="2.5" fill="#ebebeb" stroke="#333" stroke-width="1.7"/>
<text y="350.4" class="cd"><tspan x="654.3" class="kw" textLength="9.64" lengthAdjust="spacing">if</tspan><tspan x="663.94" class="nm" textLength="57.84" lengthAdjust="spacing">&#160;herdType&#160;=&#160;</tspan><tspan x="721.78" class="sg" textLength="14.46" lengthAdjust="spacing">‘?‘</tspan><tspan x="736.24" class="nm" textLength="4.82" lengthAdjust="spacing">:</tspan></text>
<text y="360.45" class="cd"><tspan x="654.3" class="nm" textLength="19.28" lengthAdjust="spacing">&#160;&#160;&#160;&#160;</tspan><tspan x="673.58" class="kw" textLength="9.64" lengthAdjust="spacing">if</tspan><tspan x="683.22" class="nm" textLength="4.82" lengthAdjust="spacing">&#160;</tspan><tspan x="688.04" class="bd" textLength="62.66" lengthAdjust="spacing">pOutMovesToSL</tspan><tspan x="750.7" class="nm" textLength="33.74" lengthAdjust="spacing">&#160;≥&#160;0.5:</tspan></text>
<text y="370.5" class="cd"><tspan x="654.3" class="nm" textLength="91.58" lengthAdjust="spacing">&#160;&#160;&#160;&#160;&#160;&#160;&#160;&#160;herdType&#160;=&#160;</tspan><tspan x="745.88" class="sg" textLength="14.46" lengthAdjust="spacing">‘F‘</tspan></text>
<text y="380.55" class="cd"><tspan x="654.3" class="nm" textLength="19.28" lengthAdjust="spacing">&#160;&#160;&#160;&#160;</tspan><tspan x="673.58" class="kw" textLength="19.28" lengthAdjust="spacing">else</tspan><tspan x="692.86" class="nm" textLength="4.82" lengthAdjust="spacing">:</tspan></text>
<text y="390.6" class="cd"><tspan x="654.3" class="nm" textLength="91.58" lengthAdjust="spacing">&#160;&#160;&#160;&#160;&#160;&#160;&#160;&#160;herdType&#160;=&#160;</tspan><tspan x="745.88" class="sg" textLength="24.1" lengthAdjust="spacing">‘S/R‘</tspan></text>
</svg>
</body></html>
